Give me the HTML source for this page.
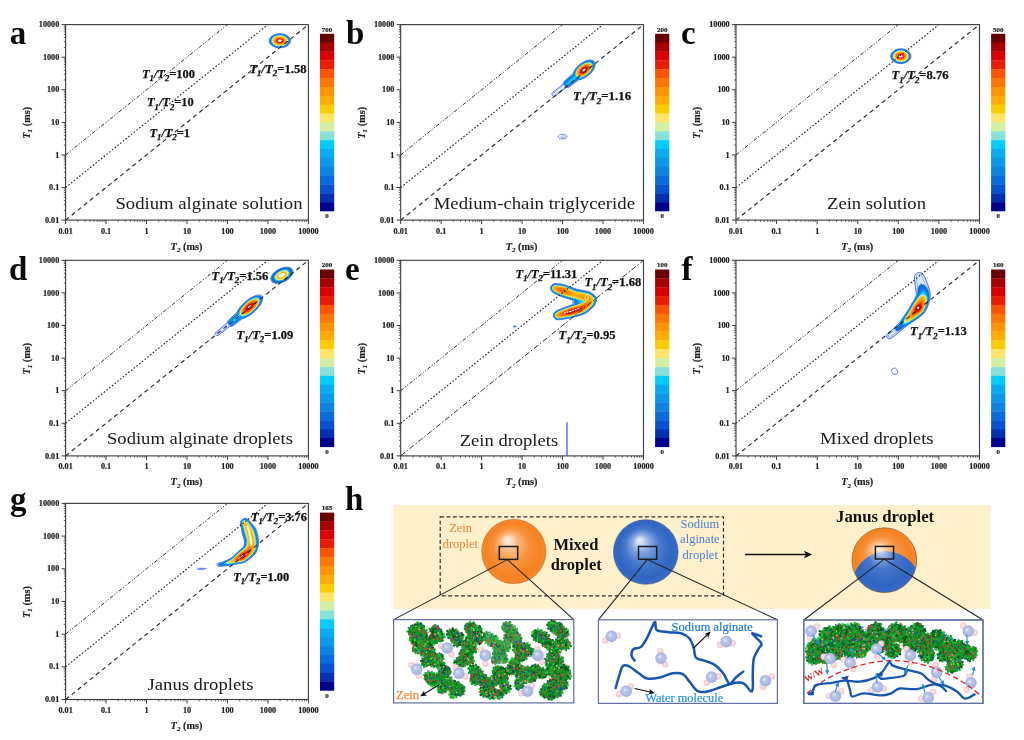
<!DOCTYPE html>
<html><head><meta charset="utf-8"><title>T1-T2 maps</title>
<style>html,body{margin:0;padding:0;background:#fff}svg{display:block;filter:blur(0.45px)}</style></head>
<body><svg width="1024" height="740" viewBox="0 0 1024 740">
<rect width="1024" height="740" fill="#fff"/>
<path d="M282.5 47.6 L279.0 47.8 L276.0 47.4 L273.5 46.5 L271.5 45.2 L269.9 43.5 L269.4 42.5 L269.1 41.5 L269.1 40.5 L269.3 39.5 L269.7 38.5 L270.3 37.5 L272.0 36.0 L274.0 34.9 L276.0 34.2 L279.0 33.8 L281.5 33.9 L284.0 34.3 L286.5 35.3 L288.3 36.5 L289.6 38.0 L290.3 39.5 L290.5 40.5 L290.5 41.5 L290.0 43.0 L288.9 44.5 L287.0 46.0 L285.0 46.9 L282.5 47.6Z" fill="#f6f9ff" stroke="#2c5ce2" stroke-width="0.85"/>
<path d="M280.5 47.5 L277.5 47.4 L275.0 46.8 L272.5 45.5 L270.8 44.0 L269.7 42.0 L269.6 40.0 L270.5 38.0 L272.0 36.4 L274.0 35.2 L276.5 34.4 L279.0 34.1 L281.5 34.2 L284.0 34.6 L286.0 35.4 L287.7 36.5 L289.1 38.0 L289.9 39.5 L290.1 41.0 L289.7 42.5 L288.5 44.4 L287.0 45.6 L285.0 46.6 L283.0 47.2 L280.5 47.5Z" fill="none" stroke="#5a86ee" stroke-width="0.5"/>
<path d="M282.5 47.1 L279.5 47.3 L277.0 47.1 L274.5 46.3 L272.0 44.9 L270.4 43.0 L269.8 41.0 L270.2 39.0 L271.2 37.5 L272.5 36.4 L274.5 35.3 L276.5 34.6 L279.0 34.3 L281.0 34.3 L283.5 34.7 L286.0 35.7 L287.5 36.7 L288.8 38.0 L289.6 39.5 L289.7 41.5 L289.2 43.0 L288.0 44.5 L286.5 45.6 L284.5 46.6 L282.5 47.1Z" fill="#086cdc" stroke="#086cdc" stroke-width="0.4"/>
<path d="M283.0 46.5 L280.5 46.9 L277.5 46.7 L275.5 46.2 L273.1 45.0 L271.5 43.5 L270.7 42.0 L270.6 40.0 L271.2 38.5 L272.5 37.0 L274.0 36.0 L276.0 35.2 L278.0 34.8 L280.5 34.7 L282.5 35.0 L285.0 35.7 L286.5 36.6 L287.6 37.5 L288.7 39.0 L289.1 40.5 L288.9 42.0 L288.1 43.5 L287.0 44.6 L285.0 45.9 L283.0 46.5Z" fill="#086cdc" stroke="#086cdc" stroke-width="0.4"/>
<path d="M283.0 46.1 L280.5 46.4 L278.0 46.3 L275.5 45.7 L273.5 44.7 L271.9 43.0 L271.2 41.5 L271.3 40.0 L271.9 38.5 L273.0 37.3 L274.5 36.3 L276.5 35.6 L278.5 35.2 L280.5 35.2 L282.5 35.4 L284.5 36.1 L286.0 36.9 L287.3 38.0 L288.2 39.5 L288.4 40.5 L288.2 42.0 L287.4 43.5 L286.3 44.5 L285.0 45.3 L283.0 46.1Z" fill="#00ccff" stroke="#00ccff" stroke-width="0.4"/>
<path d="M280.0 46.0 L277.5 45.8 L275.5 45.2 L274.0 44.4 L272.6 43.0 L271.9 41.5 L271.9 40.0 L272.7 38.5 L274.0 37.2 L275.5 36.4 L277.5 35.8 L281.0 35.6 L282.5 35.9 L284.5 36.6 L286.0 37.5 L286.9 38.5 L287.7 40.0 L287.8 41.0 L287.3 42.5 L286.6 43.5 L285.5 44.4 L284.0 45.2 L282.0 45.8 L280.0 46.0Z" fill="#d2efa4" stroke="#d2efa4" stroke-width="0.4"/>
<path d="M281.0 45.5 L279.0 45.6 L277.0 45.2 L275.2 44.5 L273.8 43.5 L272.7 42.0 L272.5 40.5 L273.1 39.0 L273.9 38.0 L275.0 37.2 L276.5 36.5 L278.0 36.2 L280.0 36.0 L282.0 36.2 L283.5 36.7 L285.0 37.5 L286.0 38.3 L286.8 39.5 L287.1 40.5 L286.9 42.0 L286.3 43.0 L285.2 44.0 L284.0 44.7 L282.5 45.2 L281.0 45.5Z" fill="#ffe566" stroke="#ffe566" stroke-width="0.4"/>
<path d="M281.0 45.1 L279.5 45.1 L277.5 44.9 L276.0 44.4 L274.5 43.4 L273.7 42.5 L273.2 41.0 L273.5 39.5 L274.2 38.5 L275.0 37.8 L276.5 37.0 L278.0 36.6 L280.0 36.5 L281.5 36.6 L283.0 37.0 L284.5 37.7 L285.4 38.5 L286.1 39.5 L286.4 40.5 L286.3 41.5 L285.9 42.5 L285.0 43.5 L284.0 44.2 L282.5 44.8 L281.0 45.1Z" fill="#ffcb00" stroke="#ffcb00" stroke-width="0.4"/>
<path d="M281.5 44.5 L279.5 44.7 L278.0 44.5 L276.4 44.0 L275.0 43.1 L274.1 42.0 L273.9 41.0 L274.0 40.0 L274.5 39.0 L275.5 38.1 L276.5 37.6 L278.0 37.1 L279.5 36.9 L281.0 37.0 L282.5 37.3 L284.5 38.4 L285.1 39.0 L285.6 40.0 L285.7 41.0 L285.5 42.0 L284.7 43.0 L284.0 43.6 L283.0 44.1 L281.5 44.5Z" fill="#ffab00" stroke="#ffab00" stroke-width="0.4"/>
<path d="M281.5 44.1 L280.0 44.3 L278.5 44.2 L277.0 43.7 L276.0 43.2 L275.2 42.5 L274.6 41.5 L274.5 40.5 L274.9 39.5 L275.5 38.8 L276.5 38.1 L279.0 37.4 L281.5 37.5 L283.7 38.5 L284.5 39.2 L284.9 40.0 L285.0 41.5 L284.5 42.4 L283.9 43.0 L283.0 43.6 L281.5 44.1Z" fill="#ff9400" stroke="#ff9400" stroke-width="0.4"/>
<path d="M281.5 43.6 L279.0 43.8 L277.5 43.4 L276.5 42.9 L276.0 42.5 L275.3 41.5 L275.2 40.5 L275.6 39.5 L277.0 38.4 L279.0 37.8 L281.0 37.9 L283.0 38.6 L284.0 39.5 L284.2 40.0 L284.4 40.5 L284.3 41.5 L283.5 42.6 L282.5 43.2 L281.5 43.6Z" fill="#ff7600" stroke="#ff7600" stroke-width="0.4"/>
<path d="M281.5 43.1 L280.5 43.3 L279.0 43.3 L277.0 42.6 L276.0 41.5 L275.9 40.5 L276.0 40.0 L277.0 39.0 L279.0 38.3 L281.0 38.3 L282.5 38.9 L283.6 40.0 L283.7 41.0 L283.6 41.5 L283.0 42.3 L281.5 43.1Z" fill="#ff5300" stroke="#ff5300" stroke-width="0.4"/>
<path d="M281.5 42.6 L279.5 42.9 L277.8 42.5 L276.7 41.5 L276.6 40.5 L276.8 40.0 L277.5 39.3 L279.0 38.7 L280.5 38.7 L282.0 39.2 L282.8 40.0 L283.1 41.0 L282.5 42.0 L281.5 42.6Z" fill="#ea1c00" stroke="#ea1c00" stroke-width="0.4"/>
<path d="M280.0 42.5 L278.5 42.3 L277.4 41.5 L277.2 40.5 L278.0 39.6 L279.0 39.2 L280.0 39.1 L281.5 39.5 L282.1 40.0 L282.4 40.5 L282.2 41.5 L281.5 42.1 L280.0 42.5Z" fill="#d80000" stroke="#d80000" stroke-width="0.4"/>
<path d="M280.5 42.0 L279.5 42.1 L278.5 41.7 L277.9 41.0 L277.9 40.5 L278.3 40.0 L279.0 39.6 L280.0 39.5 L281.0 39.8 L281.7 40.5 L281.7 41.0 L281.4 41.5 L280.5 42.0Z" fill="#ffffff" stroke="#ffffff" stroke-width="0.2"/>
<path d="M902.0 63.5 L899.0 63.5 L896.0 62.7 L893.5 61.3 L892.1 60.0 L891.4 59.0 L890.8 57.5 L890.7 56.5 L890.8 55.0 L891.1 54.0 L891.7 53.0 L892.5 52.0 L893.5 51.1 L895.0 50.2 L897.0 49.4 L899.5 48.9 L901.5 48.8 L904.0 49.2 L906.0 49.9 L907.5 50.7 L909.1 52.0 L910.2 53.5 L910.8 55.0 L910.9 57.0 L910.4 58.5 L909.5 60.0 L908.0 61.4 L906.5 62.3 L904.0 63.2 L902.0 63.5Z" fill="#f6f9ff" stroke="#2c5ce2" stroke-width="0.85"/>
<path d="M903.0 63.1 L900.0 63.3 L897.0 62.7 L894.5 61.6 L892.5 59.9 L891.6 58.5 L891.2 57.5 L891.1 55.5 L891.8 53.5 L893.6 51.5 L895.5 50.3 L897.0 49.7 L899.0 49.2 L901.5 49.1 L903.5 49.4 L906.0 50.2 L907.5 51.1 L909.1 52.5 L910.0 54.0 L910.5 55.5 L910.4 57.5 L909.7 59.0 L908.5 60.5 L907.0 61.6 L905.0 62.6 L903.0 63.1Z" fill="none" stroke="#5a86ee" stroke-width="0.5"/>
<path d="M901.5 63.0 L898.5 62.9 L895.5 61.9 L894.1 61.0 L893.0 60.0 L891.7 58.0 L891.4 56.5 L891.4 55.5 L892.1 53.5 L893.5 51.9 L896.0 50.3 L898.0 49.6 L900.0 49.4 L902.0 49.4 L904.0 49.7 L905.5 50.3 L907.5 51.4 L908.7 52.5 L909.7 54.0 L910.2 55.5 L910.2 57.0 L909.7 58.5 L908.6 60.0 L907.0 61.4 L905.5 62.1 L903.5 62.8 L901.5 63.0Z" fill="#086cdc" stroke="#086cdc" stroke-width="0.4"/>
<path d="M902.0 62.5 L899.0 62.5 L896.5 61.8 L894.5 60.7 L892.9 59.0 L892.1 57.0 L892.2 55.0 L893.2 53.0 L895.0 51.4 L896.5 50.6 L898.5 50.0 L900.5 49.8 L902.5 49.9 L904.5 50.4 L906.5 51.3 L908.0 52.5 L908.8 53.5 L909.4 55.0 L909.6 56.5 L909.2 58.0 L908.5 59.3 L907.5 60.3 L906.0 61.4 L904.0 62.2 L902.0 62.5Z" fill="#086cdc" stroke="#086cdc" stroke-width="0.4"/>
<path d="M902.0 62.1 L899.0 62.0 L896.5 61.2 L894.5 60.0 L893.3 58.5 L892.7 57.0 L892.8 55.0 L893.2 54.0 L893.9 53.0 L895.5 51.7 L897.5 50.8 L899.0 50.4 L900.5 50.3 L902.5 50.4 L904.5 50.9 L906.0 51.6 L907.5 52.8 L908.4 54.0 L908.8 55.0 L908.9 56.5 L908.6 58.0 L908.0 59.0 L907.0 60.1 L905.5 61.0 L904.0 61.7 L902.0 62.1Z" fill="#00ccff" stroke="#00ccff" stroke-width="0.4"/>
<path d="M902.5 61.5 L900.5 61.7 L898.0 61.3 L896.0 60.4 L894.3 59.0 L893.5 57.5 L893.3 56.5 L893.3 55.5 L893.9 54.0 L895.3 52.5 L896.5 51.7 L898.0 51.1 L899.5 50.8 L901.5 50.7 L903.5 51.1 L905.0 51.7 L906.3 52.5 L907.3 53.5 L908.0 54.5 L908.3 56.0 L908.1 57.5 L907.6 58.5 L906.8 59.5 L905.5 60.5 L904.0 61.2 L902.5 61.5Z" fill="#d2efa4" stroke="#d2efa4" stroke-width="0.4"/>
<path d="M902.5 61.1 L900.5 61.2 L898.5 60.9 L896.5 60.1 L895.1 59.0 L894.1 57.5 L893.9 56.0 L894.3 54.5 L895.5 53.0 L896.5 52.3 L898.0 51.6 L899.5 51.3 L901.0 51.2 L902.5 51.3 L904.0 51.8 L905.5 52.5 L906.6 53.5 L907.3 54.5 L907.6 55.5 L907.6 57.0 L907.2 58.0 L906.5 59.0 L905.5 59.9 L904.0 60.6 L902.5 61.1Z" fill="#ffe566" stroke="#ffe566" stroke-width="0.4"/>
<path d="M902.5 60.6 L900.5 60.8 L898.5 60.4 L897.0 59.8 L895.5 58.6 L894.8 57.5 L894.5 56.0 L895.0 54.5 L895.8 53.5 L897.0 52.6 L898.0 52.1 L899.5 51.7 L901.0 51.6 L903.5 52.1 L905.0 52.8 L905.8 53.5 L906.6 54.5 L907.0 55.5 L907.0 56.5 L906.8 57.5 L906.2 58.5 L905.1 59.5 L904.0 60.1 L902.5 60.6Z" fill="#ffcb00" stroke="#ffcb00" stroke-width="0.4"/>
<path d="M902.5 60.1 L900.5 60.3 L899.0 60.1 L897.5 59.5 L896.1 58.5 L895.5 57.5 L895.2 56.5 L895.4 55.0 L896.1 54.0 L897.0 53.2 L898.0 52.6 L900.5 52.1 L903.0 52.4 L905.0 53.5 L905.9 54.5 L906.3 55.5 L906.4 56.5 L906.1 57.5 L904.9 59.0 L904.0 59.6 L902.5 60.1Z" fill="#ffab00" stroke="#ffab00" stroke-width="0.4"/>
<path d="M902.5 59.6 L901.0 59.8 L899.5 59.7 L898.0 59.2 L896.9 58.5 L896.1 57.5 L895.8 56.5 L896.1 55.0 L896.8 54.0 L898.5 53.0 L901.0 52.6 L903.0 52.9 L904.8 54.0 L905.7 55.5 L905.7 57.0 L905.1 58.0 L904.5 58.6 L902.5 59.6Z" fill="#ff9400" stroke="#ff9400" stroke-width="0.4"/>
<path d="M902.5 59.1 L901.5 59.3 L900.0 59.3 L898.5 58.9 L897.5 58.3 L896.8 57.5 L896.5 56.5 L896.5 55.5 L897.1 54.5 L898.5 53.5 L900.5 53.0 L902.5 53.3 L904.0 54.0 L904.5 54.5 L905.1 55.5 L905.0 57.0 L904.0 58.4 L902.5 59.1Z" fill="#ff7600" stroke="#ff7600" stroke-width="0.4"/>
<path d="M902.5 58.6 L901.5 58.9 L900.0 58.8 L899.0 58.6 L898.0 58.0 L897.5 57.5 L897.1 56.5 L897.2 55.5 L897.5 55.0 L898.6 54.0 L900.4 53.5 L902.0 53.6 L903.5 54.3 L904.4 55.5 L904.5 56.5 L904.0 57.6 L902.5 58.6Z" fill="#ff5300" stroke="#ff5300" stroke-width="0.4"/>
<path d="M902.5 58.1 L901.5 58.4 L900.5 58.4 L898.9 58.0 L897.9 57.0 L897.7 56.5 L897.9 55.5 L898.8 54.5 L900.0 54.0 L901.5 54.0 L902.8 54.5 L903.7 55.5 L903.9 56.5 L903.3 57.5 L902.5 58.1Z" fill="#ea1c00" stroke="#ea1c00" stroke-width="0.4"/>
<path d="M902.5 57.5 L901.0 58.0 L899.5 57.7 L898.5 56.8 L898.3 56.0 L898.5 55.5 L899.0 55.0 L900.0 54.5 L901.0 54.4 L902.0 54.6 L903.0 55.4 L903.3 56.0 L903.0 57.0 L902.5 57.5Z" fill="#d80000" stroke="#d80000" stroke-width="0.4"/>
<path d="M901.0 57.5 L900.0 57.4 L899.3 57.0 L899.0 56.5 L899.0 56.0 L899.2 55.5 L900.0 55.0 L901.0 54.9 L901.6 55.0 L902.4 55.5 L902.6 56.0 L902.6 56.5 L902.3 57.0 L901.0 57.5Z" fill="#ffffff" stroke="#ffffff" stroke-width="0.2"/>
<path d="M555.0 96.1 L554.5 96.3 L553.5 96.3 L552.5 95.7 L552.0 95.0 L551.9 94.5 L552.0 93.5 L552.2 93.0 L563.0 84.1 L563.5 82.5 L564.0 81.5 L573.0 73.6 L573.9 71.5 L575.1 69.5 L576.6 67.5 L579.0 65.2 L581.5 63.3 L583.5 62.1 L585.5 61.1 L588.0 60.3 L590.0 60.0 L592.0 60.2 L593.5 60.8 L594.3 61.5 L594.9 62.5 L595.2 64.0 L595.1 65.5 L594.6 67.5 L593.6 69.5 L592.2 71.5 L590.9 73.0 L589.0 74.8 L586.5 76.7 L584.0 78.2 L581.5 79.3 L578.5 80.0 L568.9 87.0 L568.0 87.4 L566.5 87.5 L566.0 87.7 L555.0 96.1Z" fill="#f6f9ff" stroke="#2c5ce2" stroke-width="0.85"/>
<path d="M554.5 95.1 L554.0 95.3 L553.3 95.0 L553.0 94.5 L552.9 94.0 L553.2 93.5 L563.5 85.2 L563.8 83.0 L564.5 81.6 L573.3 74.0 L574.3 71.5 L575.8 69.0 L577.5 67.0 L579.5 65.1 L582.0 63.3 L584.0 62.1 L586.0 61.3 L588.0 60.7 L590.0 60.4 L591.5 60.6 L593.0 61.1 L594.0 62.0 L594.5 63.0 L594.8 64.5 L594.6 66.0 L594.2 67.5 L593.2 69.5 L591.8 71.5 L588.5 74.9 L586.0 76.7 L583.5 78.1 L581.5 78.9 L578.5 79.5 L578.0 79.8 L568.5 86.8 L567.0 87.1 L565.5 86.9 L565.1 87.0 L554.5 95.1Z" fill="none" stroke="#5a86ee" stroke-width="0.5"/>
<path d="M568.0 86.7 L566.5 86.8 L564.9 86.0 L564.1 84.5 L564.0 83.5 L564.3 82.5 L565.0 81.5 L573.5 74.2 L574.3 72.0 L575.4 70.0 L578.3 66.5 L580.5 64.6 L582.5 63.2 L584.5 62.1 L587.0 61.2 L589.0 60.8 L591.0 60.8 L592.5 61.3 L593.5 62.0 L594.1 63.0 L594.4 64.0 L594.4 65.5 L594.1 67.0 L593.2 69.0 L592.3 70.5 L589.7 73.5 L587.0 75.8 L584.0 77.6 L581.0 78.8 L578.0 79.4 L568.0 86.7Z" fill="#086cdc" stroke="#086cdc" stroke-width="0.4"/>
<path d="M567.0 86.0 L566.0 85.8 L565.0 84.7 L564.8 83.5 L565.2 82.5 L574.0 75.0 L574.3 74.5 L574.7 72.5 L575.7 70.5 L577.1 68.5 L579.0 66.5 L582.5 63.8 L584.5 62.7 L587.0 61.7 L589.0 61.4 L590.5 61.5 L591.5 61.7 L592.7 62.5 L593.4 63.5 L593.7 64.5 L593.6 66.0 L593.3 67.5 L591.7 70.5 L589.0 73.5 L586.5 75.6 L583.5 77.3 L580.5 78.4 L577.5 78.6 L568.4 85.5 L567.0 86.0Z" fill="#0c84e4" stroke="#0c84e4" stroke-width="0.4"/>
<path d="M567.5 84.7 L567.0 84.8 L566.5 84.7 L566.0 84.0 L566.0 83.5 L566.5 82.9 L575.0 75.9 L575.1 73.5 L576.0 71.0 L577.7 68.5 L580.0 66.2 L583.5 63.7 L587.0 62.3 L588.5 62.1 L590.0 62.1 L591.0 62.4 L592.0 63.0 L592.7 64.0 L593.0 65.0 L592.9 66.0 L592.6 67.5 L591.7 69.5 L590.7 71.0 L588.0 73.8 L585.5 75.7 L582.0 77.4 L579.5 77.9 L576.5 77.7 L567.5 84.7Z" fill="#00ccff" stroke="#00ccff" stroke-width="0.4"/>
<path d="M581.0 77.1 L579.5 77.3 L578.0 77.1 L576.8 76.5 L576.0 75.5 L575.8 74.5 L575.9 73.0 L576.4 71.5 L577.6 69.5 L578.8 68.0 L580.5 66.3 L582.5 64.9 L584.5 63.8 L586.0 63.2 L588.0 62.7 L589.5 62.8 L591.0 63.3 L592.0 64.5 L592.2 66.0 L591.8 68.0 L590.4 70.5 L588.5 72.8 L586.0 74.8 L583.5 76.2 L581.0 77.1Z" fill="#d2efa4" stroke="#d2efa4" stroke-width="0.4"/>
<path d="M581.0 76.5 L579.5 76.6 L578.5 76.5 L577.5 76.0 L576.7 75.0 L576.5 74.0 L576.7 72.5 L577.3 71.0 L578.6 69.0 L579.9 67.5 L581.5 66.1 L583.5 64.8 L585.0 64.1 L586.5 63.6 L588.0 63.4 L589.5 63.5 L590.5 64.0 L591.0 64.5 L591.4 65.5 L591.4 67.0 L590.7 69.0 L589.4 71.0 L587.6 73.0 L585.5 74.6 L583.5 75.7 L581.0 76.5Z" fill="#ffcb00" stroke="#ffcb00" stroke-width="0.4"/>
<path d="M582.5 75.6 L581.0 75.9 L579.5 75.9 L578.5 75.6 L577.7 75.0 L577.3 74.0 L577.3 73.0 L577.7 71.5 L578.4 70.0 L579.6 68.5 L581.0 67.1 L584.0 65.1 L586.0 64.3 L587.5 64.0 L588.5 64.1 L589.7 64.5 L590.5 65.4 L590.8 66.5 L590.5 68.0 L589.6 70.0 L588.4 71.5 L586.5 73.3 L584.5 74.7 L582.5 75.6Z" fill="#ffab00" stroke="#ffab00" stroke-width="0.4"/>
<path d="M582.0 75.1 L580.5 75.3 L579.5 75.2 L578.5 74.5 L578.2 74.0 L578.0 73.0 L578.1 72.0 L579.4 69.5 L581.5 67.3 L584.5 65.4 L587.0 64.7 L588.0 64.7 L589.0 65.0 L589.8 66.0 L590.0 67.0 L589.7 68.5 L588.6 70.5 L587.3 72.0 L585.5 73.5 L583.5 74.6 L582.0 75.1Z" fill="#ff9400" stroke="#ff9400" stroke-width="0.4"/>
<path d="M582.0 74.6 L581.0 74.7 L580.0 74.5 L579.2 74.0 L578.9 73.5 L578.7 72.5 L578.9 71.5 L580.0 69.5 L582.0 67.5 L584.5 65.9 L586.0 65.4 L587.0 65.3 L588.5 65.7 L589.1 66.5 L589.3 67.5 L588.9 69.0 L588.0 70.5 L586.6 72.0 L585.0 73.3 L583.5 74.1 L582.0 74.6Z" fill="#ff7600" stroke="#ff7600" stroke-width="0.4"/>
<path d="M581.5 74.0 L580.5 73.9 L580.0 73.6 L579.5 72.5 L579.7 71.0 L581.0 69.0 L583.0 67.3 L585.0 66.3 L586.8 66.0 L588.0 66.4 L588.5 67.4 L588.4 68.5 L588.0 69.5 L587.0 71.0 L584.5 73.0 L583.0 73.7 L581.5 74.0Z" fill="#ff5300" stroke="#ff5300" stroke-width="0.4"/>
<path d="M583.0 73.2 L581.5 73.3 L580.5 72.8 L580.2 72.0 L580.3 71.5 L580.9 70.0 L582.2 68.5 L584.0 67.2 L586.0 66.6 L587.3 67.0 L587.8 68.0 L587.6 69.0 L587.1 70.0 L585.2 72.0 L583.0 73.2Z" fill="#ea1c00" stroke="#ea1c00" stroke-width="0.4"/>
<path d="M583.0 72.6 L581.5 72.5 L581.0 72.0 L581.0 71.0 L581.5 70.0 L582.5 68.8 L584.0 67.8 L585.5 67.3 L586.6 67.5 L587.0 68.0 L587.0 68.5 L586.5 70.0 L585.0 71.6 L583.0 72.6Z" fill="#d80000" stroke="#d80000" stroke-width="0.4"/>
<path d="M583.0 72.0 L582.4 72.0 L581.8 71.5 L581.8 70.5 L582.5 69.5 L583.5 68.6 L584.5 68.1 L585.5 68.0 L586.0 68.2 L586.3 69.0 L585.5 70.5 L584.3 71.5 L583.0 72.0Z" fill="#a60000" stroke="#a60000" stroke-width="0.4"/>
<path d="M584.0 71.1 L583.0 71.4 L582.5 71.1 L582.5 70.5 L583.5 69.2 L584.5 68.7 L585.0 68.6 L585.5 68.9 L585.5 69.5 L584.9 70.5 L584.0 71.1Z" fill="#ffffff" stroke="#ffffff" stroke-width="0.2"/>
<ellipse cx="562.7" cy="136.6" rx="4.3" ry="2.3" fill="none" stroke="#3a5cf0" stroke-width="0.7"/>
<ellipse cx="563.2" cy="136.8" rx="2.2" ry="1.0" fill="none" stroke="#3a5cf0" stroke-width="0.5"/>
<path d="M280.0 283.0 L277.5 283.4 L275.0 283.2 L273.0 282.5 L271.8 281.5 L271.0 280.0 L270.8 279.0 L270.9 278.0 L271.6 276.0 L272.9 274.0 L274.9 272.0 L277.0 270.4 L280.0 268.8 L282.5 267.9 L285.0 267.4 L287.5 267.2 L290.0 267.7 L291.5 268.6 L292.6 270.0 L292.9 271.0 L293.0 272.0 L292.8 273.0 L292.3 274.5 L291.0 276.5 L289.0 278.5 L286.0 280.7 L283.0 282.1 L280.0 283.0Z" fill="#f6f9ff" stroke="#2c5ce2" stroke-width="0.85"/>
<path d="M277.5 283.0 L275.5 282.9 L273.5 282.3 L272.4 281.5 L271.5 280.0 L271.3 278.5 L271.8 276.5 L272.6 275.0 L274.2 273.0 L276.5 271.1 L278.5 269.8 L281.0 268.7 L284.0 267.8 L286.5 267.6 L288.5 267.7 L290.0 268.2 L291.5 269.2 L292.1 270.0 L292.4 271.0 L292.4 273.0 L291.3 275.5 L289.5 277.7 L287.0 279.7 L284.0 281.4 L280.5 282.6 L277.5 283.0Z" fill="none" stroke="#5a86ee" stroke-width="0.5"/>
<path d="M280.0 282.5 L277.5 282.8 L275.5 282.6 L273.7 282.0 L272.4 281.0 L271.7 279.5 L271.6 278.0 L272.3 276.0 L273.6 274.0 L275.5 272.1 L277.5 270.7 L280.0 269.3 L282.5 268.4 L285.0 267.9 L287.0 267.8 L289.0 268.1 L290.8 269.0 L291.9 270.5 L292.2 272.0 L291.8 274.0 L290.3 276.5 L288.5 278.3 L286.0 280.1 L283.0 281.6 L280.0 282.5Z" fill="#0652d0" stroke="#0652d0" stroke-width="0.4"/>
<path d="M280.5 282.0 L278.0 282.4 L276.0 282.2 L274.5 281.8 L273.0 280.7 L272.3 279.5 L272.2 278.0 L272.8 276.0 L273.8 274.5 L275.5 272.6 L277.5 271.1 L280.0 269.7 L282.5 268.8 L285.0 268.3 L287.0 268.3 L289.0 268.7 L290.4 269.5 L291.4 271.0 L291.6 272.5 L291.0 274.5 L289.7 276.5 L288.0 278.2 L286.0 279.7 L283.0 281.2 L280.5 282.0Z" fill="#086cdc" stroke="#086cdc" stroke-width="0.4"/>
<path d="M280.5 281.6 L278.5 281.9 L276.5 281.8 L275.0 281.4 L273.7 280.5 L273.0 279.5 L272.8 278.0 L273.1 276.5 L274.3 274.5 L276.0 272.7 L278.0 271.2 L280.0 270.1 L282.0 269.3 L284.5 268.8 L286.5 268.7 L288.0 268.9 L289.5 269.6 L290.0 270.0 L290.7 271.0 L291.0 272.5 L290.7 274.0 L289.6 276.0 L288.0 277.7 L286.0 279.3 L283.0 280.8 L280.5 281.6Z" fill="#086cdc" stroke="#086cdc" stroke-width="0.4"/>
<path d="M281.0 281.1 L279.0 281.4 L277.0 281.4 L275.4 281.0 L274.1 280.0 L273.5 279.0 L273.4 277.5 L273.9 276.0 L274.8 274.5 L276.2 273.0 L278.0 271.6 L279.5 270.8 L282.0 269.7 L284.0 269.2 L286.0 269.1 L287.5 269.3 L289.1 270.0 L290.0 271.0 L290.4 272.5 L290.1 274.0 L289.0 276.0 L287.5 277.7 L285.5 279.2 L283.5 280.2 L281.0 281.1Z" fill="#0c84e4" stroke="#0c84e4" stroke-width="0.4"/>
<path d="M279.0 281.0 L277.5 281.0 L276.0 280.6 L274.9 280.0 L274.2 279.0 L274.0 278.0 L274.2 276.5 L275.0 275.0 L276.3 273.5 L278.0 272.1 L279.5 271.2 L283.0 269.8 L285.0 269.6 L286.5 269.6 L288.0 270.0 L289.0 270.7 L289.7 272.0 L289.7 273.5 L289.2 275.0 L287.6 277.0 L285.5 278.7 L283.5 279.8 L281.0 280.7 L279.0 281.0Z" fill="#08acf4" stroke="#08acf4" stroke-width="0.4"/>
<path d="M280.0 280.5 L278.5 280.6 L277.0 280.4 L276.0 280.0 L274.9 279.0 L274.6 278.0 L274.8 276.5 L275.2 275.5 L276.4 274.0 L278.0 272.5 L279.5 271.6 L281.0 270.9 L283.0 270.2 L286.0 270.0 L287.5 270.4 L288.4 271.0 L289.1 272.0 L289.2 273.5 L288.6 275.0 L287.5 276.5 L286.0 277.9 L284.0 279.2 L282.0 280.0 L280.0 280.5Z" fill="#00ccff" stroke="#00ccff" stroke-width="0.4"/>
<path d="M280.5 280.0 L279.0 280.2 L277.5 280.0 L276.5 279.6 L275.7 279.0 L275.2 278.0 L275.2 277.0 L275.8 275.5 L276.5 274.5 L277.5 273.4 L279.0 272.3 L282.0 270.9 L285.0 270.4 L286.5 270.6 L287.5 271.1 L288.4 272.0 L288.6 273.0 L288.3 274.5 L287.4 276.0 L286.0 277.4 L284.5 278.5 L282.5 279.5 L280.5 280.0Z" fill="#d2efa4" stroke="#d2efa4" stroke-width="0.4"/>
<path d="M281.0 279.5 L278.5 279.7 L277.5 279.5 L276.5 278.9 L275.9 278.0 L275.8 277.0 L276.1 276.0 L276.6 275.0 L277.5 274.0 L279.0 272.7 L282.0 271.3 L283.5 270.9 L285.0 270.9 L286.0 271.0 L287.1 271.5 L287.9 272.5 L288.0 273.5 L287.8 274.5 L286.9 276.0 L284.5 278.1 L283.0 278.9 L281.0 279.5Z" fill="#ffe566" stroke="#ffe566" stroke-width="0.4"/>
<path d="M281.5 279.0 L279.0 279.3 L277.7 279.0 L277.0 278.5 L276.6 278.0 L276.4 277.0 L276.6 276.0 L277.2 275.0 L278.0 274.0 L279.3 273.0 L282.0 271.7 L284.5 271.3 L285.5 271.4 L286.5 271.8 L287.1 272.5 L287.4 273.5 L287.2 274.5 L286.7 275.5 L285.9 276.5 L284.5 277.6 L283.0 278.5 L281.5 279.0Z" fill="#ffe566" stroke="#ffe566" stroke-width="0.4"/>
<path d="M281.5 278.6 L280.0 278.9 L279.0 278.8 L278.0 278.5 L277.5 278.1 L277.0 277.0 L277.2 276.0 L277.7 275.0 L279.5 273.3 L282.0 272.1 L284.5 271.7 L286.0 272.2 L286.5 272.7 L286.8 273.5 L286.7 274.5 L286.2 275.5 L285.3 276.5 L284.0 277.5 L281.5 278.6Z" fill="#ffcb00" stroke="#ffcb00" stroke-width="0.4"/>
<path d="M282.0 278.1 L280.0 278.4 L279.0 278.3 L278.3 278.0 L277.6 277.0 L277.7 276.0 L278.0 275.4 L279.5 273.8 L281.5 272.6 L284.0 272.2 L285.5 272.6 L286.0 273.1 L286.2 274.0 L285.6 275.5 L284.1 277.0 L282.0 278.1Z" fill="#ffcb00" stroke="#ffcb00" stroke-width="0.4"/>
<path d="M282.0 277.7 L280.5 278.0 L279.0 277.7 L278.3 277.0 L278.2 276.5 L278.5 275.5 L279.8 274.0 L281.5 273.0 L283.5 272.6 L285.0 273.0 L285.5 273.5 L285.6 274.0 L285.1 275.5 L283.5 277.0 L282.0 277.7Z" fill="#ffab00" stroke="#ffab00" stroke-width="0.4"/>
<path d="M281.0 277.5 L279.9 277.5 L279.0 277.0 L278.8 276.0 L279.5 274.8 L281.0 273.7 L282.5 273.1 L283.5 273.0 L284.7 273.5 L285.0 274.0 L285.0 274.5 L284.1 276.0 L282.7 277.0 L281.0 277.5Z" fill="#ffffff" stroke="#ffffff" stroke-width="0.2"/>
<path d="M217.5 335.6 L216.5 335.4 L216.0 335.1 L215.5 334.5 L215.3 333.5 L215.7 332.5 L227.0 322.9 L227.3 322.5 L227.9 321.0 L228.5 320.2 L236.9 312.5 L238.2 310.0 L240.3 307.0 L242.5 304.5 L245.0 302.1 L248.0 299.7 L250.0 298.3 L253.0 296.7 L255.0 295.8 L257.5 295.2 L259.5 295.0 L261.0 295.4 L262.0 296.1 L262.7 297.5 L262.7 299.0 L262.3 301.0 L261.4 303.0 L260.2 305.0 L258.3 307.5 L256.1 310.0 L254.0 311.9 L251.0 314.3 L248.0 316.3 L245.0 317.8 L242.0 318.9 L233.0 325.8 L232.0 326.3 L229.7 326.5 L218.5 335.2 L217.5 335.6Z" fill="#f6f9ff" stroke="#2c5ce2" stroke-width="0.85"/>
<path d="M217.5 334.6 L216.9 334.5 L216.4 334.0 L216.3 333.5 L216.5 333.0 L227.5 323.9 L227.9 322.0 L228.5 320.8 L237.0 313.0 L238.6 310.0 L240.3 307.5 L242.4 305.0 L245.0 302.4 L247.0 300.8 L250.0 298.7 L252.5 297.3 L255.0 296.2 L257.0 295.7 L259.0 295.5 L260.5 295.9 L261.5 296.6 L262.0 297.5 L262.2 299.0 L261.9 300.5 L261.2 302.5 L259.8 305.0 L258.4 307.0 L256.2 309.5 L254.0 311.6 L250.5 314.3 L247.5 316.2 L245.0 317.4 L241.8 318.5 L232.5 325.6 L231.0 326.0 L229.0 325.6 L217.5 334.6Z" fill="none" stroke="#5a86ee" stroke-width="0.5"/>
<path d="M232.0 325.5 L230.5 325.7 L229.0 324.9 L228.3 324.0 L228.2 323.5 L228.1 322.5 L228.4 321.5 L229.0 320.7 L237.5 313.0 L238.3 311.0 L239.8 308.5 L241.7 306.0 L243.6 304.0 L246.0 301.8 L248.5 299.9 L251.0 298.3 L254.0 296.8 L256.0 296.2 L258.0 295.9 L260.0 296.1 L261.0 296.8 L261.5 297.5 L261.8 299.0 L261.6 300.5 L261.1 302.0 L260.2 304.0 L258.8 306.0 L255.4 310.0 L251.5 313.4 L248.5 315.4 L245.0 317.2 L241.5 318.3 L232.9 325.0 L232.0 325.5Z" fill="#086cdc" stroke="#086cdc" stroke-width="0.4"/>
<path d="M232.0 324.7 L231.5 324.9 L230.5 324.9 L229.5 324.3 L228.9 323.0 L229.0 322.1 L229.3 321.5 L238.0 313.7 L238.7 311.5 L240.1 309.0 L241.9 306.5 L244.5 303.7 L249.0 300.1 L251.0 298.9 L253.5 297.6 L256.0 296.8 L257.5 296.7 L259.0 296.8 L260.2 297.5 L260.8 298.5 L260.9 299.5 L260.8 301.0 L260.3 302.5 L259.2 304.5 L257.9 306.5 L254.5 310.3 L251.0 313.2 L247.5 315.4 L244.5 316.7 L241.1 317.5 L232.0 324.7Z" fill="#0c84e4" stroke="#0c84e4" stroke-width="0.4"/>
<path d="M231.5 323.6 L231.0 323.7 L230.5 323.6 L230.1 323.0 L230.1 322.5 L230.5 321.9 L239.0 314.5 L238.9 313.5 L239.2 312.0 L240.4 309.5 L242.5 306.5 L245.5 303.4 L249.5 300.3 L253.5 298.2 L255.5 297.6 L257.0 297.4 L258.5 297.7 L259.5 298.4 L260.0 299.4 L260.1 300.5 L259.8 302.0 L259.1 303.5 L256.9 307.0 L253.5 310.6 L250.0 313.3 L246.5 315.3 L243.5 316.4 L242.0 316.6 L240.2 316.5 L231.5 323.6Z" fill="#00ccff" stroke="#00ccff" stroke-width="0.4"/>
<path d="M244.0 315.6 L242.5 315.8 L241.0 315.5 L240.0 314.5 L239.8 313.5 L240.0 312.0 L240.8 310.0 L242.0 308.0 L243.6 306.0 L247.5 302.3 L249.5 300.9 L252.0 299.5 L254.0 298.7 L256.0 298.2 L257.5 298.4 L258.5 298.9 L259.0 299.5 L259.2 300.5 L258.9 302.5 L257.7 305.0 L255.4 308.0 L253.0 310.4 L250.0 312.8 L246.5 314.8 L244.0 315.6Z" fill="#d2efa4" stroke="#d2efa4" stroke-width="0.4"/>
<path d="M245.5 314.6 L244.0 314.9 L242.5 314.9 L241.4 314.5 L240.8 313.5 L240.7 312.0 L241.2 310.5 L242.3 308.5 L243.3 307.0 L245.1 305.0 L247.0 303.3 L249.0 301.8 L251.5 300.3 L253.5 299.4 L255.0 299.1 L256.5 299.1 L257.6 299.5 L258.2 300.5 L258.3 301.5 L258.2 302.5 L257.3 304.5 L255.7 307.0 L253.4 309.5 L250.5 311.9 L248.0 313.5 L245.5 314.6Z" fill="#ffcb00" stroke="#ffcb00" stroke-width="0.4"/>
<path d="M245.0 314.1 L243.5 314.2 L242.5 313.9 L241.7 313.0 L241.5 312.0 L241.7 311.0 L242.3 309.5 L243.2 308.0 L244.8 306.0 L246.5 304.3 L248.5 302.7 L252.0 300.6 L253.5 300.1 L255.0 299.8 L256.0 299.9 L257.0 300.5 L257.4 301.5 L257.1 303.5 L256.1 305.5 L254.2 308.0 L252.0 310.1 L249.5 312.0 L247.0 313.4 L245.0 314.1Z" fill="#ffab00" stroke="#ffab00" stroke-width="0.4"/>
<path d="M246.0 313.2 L244.5 313.4 L243.5 313.3 L243.0 313.0 L242.4 312.0 L242.5 311.0 L242.8 310.0 L243.5 308.5 L244.6 307.0 L247.5 304.0 L251.0 301.7 L252.5 301.0 L254.0 300.6 L255.0 300.6 L256.0 301.0 L256.6 302.0 L256.4 303.5 L255.8 305.0 L254.4 307.0 L252.6 309.0 L250.5 310.8 L248.0 312.3 L246.0 313.2Z" fill="#ff9400" stroke="#ff9400" stroke-width="0.4"/>
<path d="M246.0 312.5 L244.3 312.5 L243.6 312.0 L243.3 311.5 L243.3 310.5 L243.6 309.5 L245.2 307.0 L247.6 304.5 L250.5 302.5 L253.0 301.5 L254.0 301.4 L255.0 301.6 L255.7 302.5 L255.7 303.5 L255.1 305.0 L253.8 307.0 L252.0 309.0 L250.0 310.6 L248.0 311.8 L246.0 312.5Z" fill="#ff7600" stroke="#ff7600" stroke-width="0.4"/>
<path d="M247.0 311.6 L246.0 311.8 L245.0 311.7 L244.5 311.4 L244.3 311.0 L244.3 309.5 L245.8 307.0 L248.0 304.7 L250.5 303.0 L253.0 302.2 L254.0 302.3 L254.4 302.5 L254.8 303.5 L254.7 304.5 L253.2 307.0 L251.8 308.5 L250.0 310.0 L248.5 311.0 L247.0 311.6Z" fill="#ff5300" stroke="#ff5300" stroke-width="0.4"/>
<path d="M246.5 311.0 L245.5 310.8 L245.0 310.0 L245.4 308.5 L246.8 306.5 L248.5 304.9 L250.5 303.6 L252.5 303.0 L253.5 303.2 L254.0 304.0 L253.8 305.0 L253.3 306.0 L252.2 307.5 L250.6 309.0 L249.2 310.0 L248.0 310.6 L246.5 311.0Z" fill="#ea1c00" stroke="#ea1c00" stroke-width="0.4"/>
<path d="M248.0 310.0 L246.5 310.2 L246.2 310.0 L245.9 309.5 L246.1 308.5 L247.0 307.0 L248.5 305.5 L250.0 304.4 L251.5 303.8 L252.5 303.8 L252.8 304.0 L253.1 304.5 L253.1 305.0 L252.0 307.0 L250.0 308.9 L248.0 310.0Z" fill="#d80000" stroke="#d80000" stroke-width="0.4"/>
<path d="M249.0 309.0 L248.0 309.4 L247.5 309.5 L247.0 309.3 L246.8 308.5 L247.5 307.2 L248.6 306.0 L250.0 305.0 L251.0 304.6 L251.5 304.5 L252.0 304.7 L252.2 305.5 L251.5 306.8 L250.4 308.0 L249.0 309.0Z" fill="#a60000" stroke="#a60000" stroke-width="0.4"/>
<path d="M248.5 308.6 L247.8 308.5 L247.7 308.0 L248.2 307.0 L250.0 305.6 L250.5 305.4 L251.2 305.5 L251.3 306.0 L250.8 307.0 L249.7 308.0 L248.5 308.6Z" fill="#ffffff" stroke="#ffffff" stroke-width="0.2"/>
<path d="M560.5 319.6 L558.0 319.8 L557.0 319.7 L555.5 319.1 L554.5 318.2 L553.7 317.0 L553.4 315.5 L553.5 314.0 L554.3 312.5 L555.5 311.3 L557.5 310.3 L568.0 306.2 L573.3 304.5 L572.8 302.5 L573.0 300.5 L572.1 300.0 L560.5 296.2 L554.5 293.3 L552.5 292.0 L551.9 291.5 L551.1 290.5 L550.7 289.5 L550.6 288.0 L550.8 287.0 L551.2 286.0 L552.0 285.0 L553.0 284.2 L554.5 283.7 L556.5 283.7 L561.0 284.1 L564.0 284.7 L576.5 289.2 L588.5 291.6 L591.0 292.8 L593.0 294.1 L594.6 295.5 L595.8 297.0 L596.4 298.5 L596.4 300.5 L596.1 301.5 L595.5 302.5 L595.2 304.0 L594.5 305.5 L593.7 306.5 L590.5 309.5 L588.0 311.5 L586.0 312.9 L584.5 313.7 L581.5 314.9 L571.5 317.7 L560.5 319.6Z" fill="#f6f9ff" stroke="#2c5ce2" stroke-width="0.85"/>
<path d="M558.5 319.5 L557.0 319.4 L556.0 319.1 L555.0 318.4 L554.3 317.5 L553.8 316.5 L553.6 315.0 L553.8 314.0 L554.6 312.5 L556.0 311.3 L558.5 310.2 L568.5 306.3 L574.2 304.5 L573.6 302.5 L573.8 300.5 L573.4 300.0 L560.5 295.9 L555.0 293.2 L552.5 291.7 L551.8 291.0 L551.2 290.0 L550.8 288.0 L551.0 287.0 L551.5 286.0 L553.0 284.5 L554.0 284.1 L556.0 283.9 L559.5 284.2 L563.5 284.8 L576.5 289.6 L588.0 291.8 L590.5 292.9 L592.5 294.1 L594.2 295.5 L595.5 297.0 L596.1 298.5 L596.2 300.0 L595.8 301.5 L595.1 302.5 L594.7 304.5 L594.2 305.5 L589.5 310.0 L586.0 312.5 L584.5 313.4 L581.0 314.7 L572.0 317.3 L564.0 318.8 L558.5 319.5Z" fill="none" stroke="#5a86ee" stroke-width="0.5"/>
<path d="M561.0 319.1 L557.5 319.3 L556.0 318.9 L555.0 318.1 L554.2 317.0 L553.8 315.5 L554.0 314.0 L554.5 312.9 L555.5 311.9 L558.5 310.4 L568.5 306.5 L574.9 304.5 L574.2 302.5 L574.4 300.5 L574.2 300.0 L574.0 299.9 L560.5 295.7 L555.5 293.3 L553.0 291.9 L551.7 290.5 L551.2 289.5 L551.0 288.5 L551.1 287.5 L551.4 286.5 L552.1 285.5 L553.0 284.8 L554.5 284.2 L556.0 284.1 L558.5 284.3 L563.5 285.1 L576.5 289.8 L588.0 292.0 L589.5 292.6 L592.0 294.1 L593.8 295.5 L595.2 297.0 L595.9 298.5 L595.9 300.0 L595.7 301.0 L594.9 302.5 L594.7 304.0 L594.3 305.0 L593.5 306.0 L590.3 309.0 L586.0 312.3 L584.5 313.2 L581.5 314.4 L571.5 317.3 L561.0 319.1Z" fill="#086cdc" stroke="#086cdc" stroke-width="0.4"/>
<path d="M561.5 318.6 L557.5 318.9 L556.5 318.6 L555.6 318.0 L554.7 317.0 L554.3 315.5 L554.5 314.0 L555.0 313.0 L556.0 312.1 L559.5 310.5 L568.5 306.9 L576.6 304.5 L575.9 303.0 L575.8 302.0 L575.9 301.0 L576.4 300.0 L561.0 295.3 L553.5 291.7 L552.2 290.5 L551.7 289.5 L551.5 288.5 L551.7 287.0 L552.3 286.0 L553.0 285.3 L554.5 284.6 L556.0 284.6 L558.5 284.7 L563.5 285.5 L576.5 290.5 L588.0 292.6 L590.0 293.5 L592.0 294.7 L593.5 296.0 L594.8 297.5 L595.3 298.5 L595.4 300.0 L595.1 301.0 L594.5 302.0 L594.3 303.5 L593.6 305.0 L590.0 308.6 L585.5 312.0 L584.0 312.9 L581.0 314.1 L571.5 316.8 L561.5 318.6Z" fill="#0c84e4" stroke="#0c84e4" stroke-width="0.4"/>
<path d="M562.0 318.1 L558.0 318.4 L557.0 318.3 L556.0 317.8 L555.3 317.0 L554.8 316.0 L554.8 314.5 L555.2 313.5 L556.0 312.6 L557.0 312.0 L561.0 310.3 L569.0 307.2 L576.5 305.0 L579.2 304.0 L579.5 303.5 L580.0 303.5 L578.8 303.0 L578.5 302.5 L578.5 301.5 L578.8 301.0 L579.5 300.6 L580.5 300.5 L579.0 300.3 L578.7 300.0 L574.0 298.6 L569.5 297.4 L561.0 294.8 L554.5 291.7 L552.8 290.5 L552.0 289.0 L552.0 288.0 L552.2 287.0 L552.9 286.0 L553.5 285.5 L554.5 285.1 L556.5 285.1 L563.5 286.0 L576.0 291.0 L588.0 293.2 L590.0 294.2 L592.0 295.4 L593.5 296.8 L594.4 298.0 L594.8 299.0 L594.8 300.0 L594.4 301.0 L593.8 302.0 L593.7 303.5 L593.3 304.5 L592.0 306.0 L589.5 308.4 L585.5 311.5 L584.0 312.4 L581.0 313.6 L571.5 316.4 L562.0 318.1Z" fill="#00ccff" stroke="#00ccff" stroke-width="0.4"/>
<path d="M582.2 302.5 L583.9 301.5 L582.0 300.9 L581.2 301.0 L581.5 301.5 L581.5 302.5 L582.2 302.5Z" fill="#00ccff" stroke="#00ccff" stroke-width="0.4"/>
<path d="M562.5 317.5 L558.5 317.9 L557.0 317.8 L556.0 317.1 L555.4 316.0 L555.3 315.0 L555.5 314.0 L556.5 312.9 L559.0 311.6 L569.0 307.6 L579.0 304.6 L581.5 303.5 L584.8 301.5 L584.5 301.0 L574.5 297.9 L570.0 296.9 L561.0 294.3 L556.5 292.2 L554.0 290.8 L552.7 289.5 L552.5 288.5 L552.6 287.5 L553.0 286.7 L553.7 286.0 L555.0 285.6 L556.5 285.5 L560.0 285.9 L563.5 286.5 L576.0 291.8 L587.5 293.7 L589.0 294.3 L591.0 295.5 L592.5 296.7 L593.6 298.0 L594.1 299.0 L594.1 300.0 L593.2 301.5 L593.2 303.0 L592.6 304.5 L588.5 308.6 L585.0 311.2 L583.0 312.3 L580.0 313.4 L571.5 316.0 L562.5 317.5Z" fill="#ffe566" stroke="#ffe566" stroke-width="0.4"/>
<path d="M562.5 317.1 L558.5 317.4 L557.0 317.1 L556.5 316.8 L556.0 316.0 L555.9 314.5 L556.5 313.6 L557.4 313.0 L560.0 311.7 L569.0 308.1 L576.0 306.1 L579.5 304.9 L582.5 303.6 L586.6 301.0 L578.5 298.5 L574.5 297.0 L570.0 296.2 L561.0 293.8 L555.5 291.1 L553.5 289.7 L553.1 289.0 L553.0 288.0 L553.4 287.0 L554.0 286.5 L555.0 286.1 L557.0 286.1 L563.5 287.0 L571.0 290.3 L575.5 292.6 L587.5 294.3 L590.6 296.0 L592.7 298.0 L593.3 299.5 L593.0 300.4 L592.5 301.0 L592.7 302.5 L592.2 304.0 L588.9 307.5 L585.0 310.6 L583.5 311.5 L580.5 312.8 L571.5 315.5 L562.5 317.1Z" fill="#ffcb00" stroke="#ffcb00" stroke-width="0.4"/>
<path d="M563.0 316.5 L559.5 316.8 L557.5 316.6 L556.7 316.0 L556.5 315.0 L556.7 314.5 L557.5 313.6 L560.0 312.3 L569.0 308.5 L579.5 305.5 L582.5 304.2 L588.0 300.8 L588.9 300.5 L585.5 300.0 L578.5 297.5 L575.5 296.1 L575.0 295.7 L573.0 295.9 L570.5 295.6 L561.5 293.4 L556.5 291.0 L554.2 289.5 L553.9 289.0 L553.7 288.0 L553.9 287.5 L554.4 287.0 L555.5 286.7 L557.5 286.7 L563.5 287.6 L571.7 291.5 L574.0 292.8 L575.5 294.0 L577.0 293.9 L580.5 294.2 L587.0 294.9 L589.5 296.1 L590.7 297.0 L591.6 298.0 L592.0 299.0 L592.0 299.5 L591.8 300.0 L590.8 300.5 L591.5 301.1 L591.9 302.0 L591.7 303.5 L588.5 307.1 L584.5 310.3 L580.5 312.3 L571.5 315.1 L563.0 316.5Z" fill="#ffab00" stroke="#ffab00" stroke-width="0.4"/>
<path d="M570.5 294.5 L567.0 294.1 L561.5 292.8 L556.1 290.0 L555.0 289.0 L554.8 288.5 L554.9 288.0 L555.8 287.5 L557.5 287.4 L560.5 287.6 L563.5 288.2 L568.1 290.5 L571.5 292.6 L572.3 293.5 L572.3 294.0 L572.0 294.3 L570.5 294.5Z" fill="#ff9400" stroke="#ff9400" stroke-width="0.4"/>
<path d="M590.0 299.0 L589.0 299.4 L586.0 299.3 L580.9 297.0 L580.0 296.0 L580.5 296.0 L581.0 295.6 L582.0 295.5 L587.0 295.7 L588.5 296.5 L589.6 297.5 L590.2 298.5 L590.0 299.0Z" fill="#ff9400" stroke="#ff9400" stroke-width="0.4"/>
<path d="M562.5 316.1 L560.0 316.2 L558.5 316.0 L557.6 315.5 L557.6 315.0 L558.2 314.0 L559.5 313.1 L569.0 309.0 L578.0 306.5 L580.5 305.6 L583.0 304.5 L587.5 302.0 L589.0 301.3 L590.0 301.2 L590.5 301.4 L591.0 302.0 L591.1 302.5 L590.7 303.5 L588.2 306.5 L585.0 309.3 L582.5 310.8 L578.5 312.5 L571.0 314.8 L562.5 316.1Z" fill="#ff9400" stroke="#ff9400" stroke-width="0.4"/>
<path d="M567.5 293.0 L562.0 292.4 L557.8 290.0 L556.8 289.0 L557.2 288.5 L558.0 288.3 L559.5 288.2 L563.0 288.6 L566.0 290.3 L568.0 291.7 L568.4 292.5 L567.5 293.0Z" fill="#ff7600" stroke="#ff7600" stroke-width="0.4"/>
<path d="M586.5 298.1 L585.8 297.5 L586.5 296.9 L587.2 297.5 L586.5 298.1Z" fill="#ff7600" stroke="#ff7600" stroke-width="0.4"/>
<path d="M562.5 315.5 L560.0 315.4 L559.5 315.0 L559.3 314.5 L559.7 314.0 L561.5 312.8 L569.5 309.2 L580.0 306.4 L582.5 305.5 L587.5 303.0 L588.5 302.8 L589.2 303.0 L589.3 303.5 L588.8 304.5 L587.0 306.7 L584.0 309.3 L582.0 310.5 L578.3 312.0 L571.0 314.4 L562.5 315.5Z" fill="#ff7600" stroke="#ff7600" stroke-width="0.4"/>
<path d="M564.5 291.6 L562.0 291.6 L560.4 290.5 L560.0 290.0 L560.0 289.5 L561.0 289.3 L563.0 289.4 L564.0 290.2 L564.7 291.0 L564.5 291.6Z" fill="#ff5300" stroke="#ff5300" stroke-width="0.4"/>
<path d="M567.0 314.5 L563.5 314.8 L562.0 314.6 L561.7 314.0 L562.0 313.5 L564.0 312.2 L569.5 309.7 L578.5 307.5 L585.0 305.3 L586.0 305.0 L586.4 305.5 L585.9 306.5 L584.5 308.0 L583.0 309.2 L581.0 310.3 L577.0 312.0 L571.0 314.0 L567.0 314.5Z" fill="#ff5300" stroke="#ff5300" stroke-width="0.4"/>
<path d="M567.0 314.0 L565.5 314.0 L565.0 313.7 L564.5 313.9 L564.1 313.5 L564.4 313.0 L565.5 312.2 L569.9 310.0 L581.0 307.5 L582.0 307.3 L583.1 307.5 L582.5 308.5 L580.0 310.1 L578.0 311.0 L571.0 313.5 L567.0 314.0Z" fill="#ea1c00" stroke="#ea1c00" stroke-width="0.4"/>
<path d="M571.0 313.1 L569.5 313.3 L568.0 313.3 L567.5 313.1 L567.0 313.2 L566.5 313.0 L566.5 312.5 L570.0 310.4 L577.5 309.1 L578.0 309.3 L578.5 309.0 L578.8 309.5 L577.3 310.5 L571.0 313.1Z" fill="#d80000" stroke="#d80000" stroke-width="0.4"/>
<path d="M571.0 312.6 L570.5 312.8 L569.0 312.7 L568.7 312.5 L568.6 312.0 L568.9 311.5 L570.0 310.8 L573.5 310.3 L574.0 310.5 L574.5 310.3 L574.7 310.5 L574.5 311.0 L574.0 311.0 L573.6 311.5 L571.0 312.6Z" fill="#a60000" stroke="#a60000" stroke-width="0.4"/>
<path d="M570.5 312.4 L570.0 312.3 L569.7 312.0 L569.8 311.5 L570.0 311.3 L571.5 311.1 L571.7 311.5 L571.5 311.9 L571.0 311.8 L570.5 312.4Z" fill="#ffffff" stroke="#ffffff" stroke-width="0.2"/>
<path d="M564 313.2L580 308.2" fill="none" stroke="#fff" stroke-width="1.1" stroke-dasharray="2 0.8"/>
<ellipse cx="586.5" cy="297.5" rx="1.6" ry="2.4" fill="none" stroke="#fff8e8" stroke-width="0.8"/>
<ellipse cx="514.8" cy="326.4" rx="1.8" ry="1.0" fill="#5a78f0" stroke="none"/>
<line x1="567" y1="422.2" x2="567" y2="455.4" stroke="#4a6cf0" stroke-width="1.4"/>
<path d="M890.5 338.7 L889.0 338.9 L888.0 338.5 L887.4 338.0 L887.0 337.5 L886.6 336.5 L886.6 335.5 L887.0 334.5 L887.5 333.9 L893.5 328.6 L899.9 322.0 L905.5 314.0 L909.5 308.0 L911.5 304.0 L913.5 301.1 L915.0 298.4 L916.2 295.5 L916.5 294.0 L915.5 288.0 L914.6 279.5 L914.5 277.0 L914.7 276.0 L915.1 275.0 L915.8 274.0 L916.5 273.4 L917.5 272.8 L918.5 272.6 L919.5 272.5 L920.5 272.6 L921.5 273.0 L922.5 273.7 L923.2 274.5 L925.3 278.5 L927.9 285.0 L929.5 290.0 L930.1 293.0 L930.3 296.0 L929.7 300.0 L928.8 303.5 L926.8 308.5 L924.6 312.5 L922.0 315.1 L918.0 318.2 L913.0 321.5 L904.5 327.5 L895.0 335.4 L891.5 338.1 L890.5 338.7Z" fill="#dbe9fc" stroke="#2c5ce2" stroke-width="0.85"/>
<path d="M890.5 337.0 L889.5 337.4 L888.5 337.0 L888.1 336.0 L888.5 335.0 L894.0 330.1 L895.8 327.5 L900.0 322.7 L909.5 308.6 L911.9 304.0 L914.0 300.9 L916.0 297.2 L917.1 294.5 L917.0 289.0 L917.1 287.5 L917.5 286.0 L916.4 278.0 L916.5 276.5 L917.0 275.5 L918.0 274.7 L919.0 274.4 L920.5 274.6 L921.5 275.3 L921.9 276.0 L925.1 284.0 L926.3 285.5 L927.5 287.5 L928.8 290.5 L929.4 293.0 L929.6 295.5 L929.6 297.5 L929.2 300.5 L928.0 304.5 L925.9 309.5 L924.0 312.7 L920.0 316.3 L908.5 324.4 L904.3 327.0 L899.0 331.1 L896.0 332.7 L890.5 337.0Z" fill="none" stroke="#5a86ee" stroke-width="0.5"/>
<path d="M897.0 331.1 L896.0 331.0 L895.5 330.2 L895.8 329.0 L896.3 328.0 L900.2 323.0 L909.5 309.0 L911.0 306.4 L911.9 304.5 L914.5 300.6 L916.4 297.0 L917.6 294.5 L917.8 289.5 L918.1 288.0 L918.7 286.5 L919.5 285.5 L920.8 284.5 L921.0 283.4 L921.6 284.5 L923.0 284.6 L924.1 285.0 L926.0 286.7 L927.7 289.5 L928.8 292.5 L929.1 295.5 L929.1 299.0 L928.2 303.0 L926.8 307.0 L924.6 311.5 L923.9 312.5 L922.5 313.9 L918.5 317.2 L907.5 324.7 L903.7 327.0 L900.0 329.7 L898.5 330.6 L897.0 331.1Z" fill="#086cdc" stroke="#086cdc" stroke-width="0.4"/>
<path d="M900.5 327.0 L900.0 326.9 L899.9 326.0 L901.0 324.1 L901.9 321.5 L910.4 308.5 L912.5 304.5 L915.8 299.5 L918.9 294.0 L919.5 291.3 L920.1 289.5 L921.0 288.5 L922.0 287.9 L923.0 287.9 L924.5 288.4 L926.0 289.9 L927.3 292.5 L928.2 296.5 L928.3 298.5 L927.9 301.5 L927.3 304.0 L925.7 308.0 L924.0 311.5 L922.2 313.5 L919.5 315.8 L908.0 323.7 L904.5 325.6 L902.9 326.0 L901.0 327.0 L900.5 327.0Z" fill="#0c84e4" stroke="#0c84e4" stroke-width="0.4"/>
<path d="M904.5 324.5 L903.2 324.5 L902.6 324.0 L902.4 323.5 L902.7 322.0 L903.9 319.5 L911.0 308.5 L913.1 304.5 L915.3 301.5 L919.1 295.5 L920.5 294.0 L922.0 291.8 L923.0 291.3 L924.1 291.5 L925.3 292.5 L927.0 296.0 L927.4 297.5 L927.4 299.5 L927.0 302.5 L926.3 305.0 L925.4 307.5 L923.7 311.0 L922.0 313.0 L918.0 316.3 L907.5 323.2 L904.5 324.5Z" fill="#00ccff" stroke="#00ccff" stroke-width="0.4"/>
<path d="M905.0 323.0 L904.5 322.9 L904.1 322.5 L904.0 322.0 L904.6 320.0 L908.4 313.5 L911.5 308.6 L913.7 304.5 L918.7 297.5 L920.4 295.5 L921.5 294.8 L922.5 294.5 L923.5 294.5 L924.7 295.0 L925.5 295.8 L926.2 297.0 L926.6 299.0 L926.6 300.5 L926.1 303.5 L925.3 306.0 L923.0 311.2 L920.5 313.7 L916.0 317.0 L908.5 321.7 L907.0 322.5 L905.0 323.0Z" fill="#d2efa4" stroke="#d2efa4" stroke-width="0.4"/>
<path d="M907.5 321.1 L906.5 321.2 L906.0 320.8 L905.9 320.0 L906.2 319.0 L908.8 314.0 L912.2 308.5 L914.0 305.0 L918.5 299.0 L920.5 296.8 L921.5 296.2 L922.5 295.9 L924.0 296.2 L924.8 297.0 L925.6 298.5 L925.8 300.0 L925.7 301.5 L924.9 305.5 L923.5 309.0 L922.5 311.0 L920.0 313.4 L916.5 316.1 L909.0 320.5 L907.5 321.1Z" fill="#ffcb00" stroke="#ffcb00" stroke-width="0.4"/>
<path d="M909.0 319.1 L908.3 319.0 L907.9 318.5 L908.8 315.5 L909.8 313.5 L913.1 308.0 L914.5 305.2 L918.7 300.0 L920.5 298.2 L922.0 297.4 L923.0 297.4 L923.5 297.6 L924.0 298.1 L924.7 299.5 L924.9 301.0 L924.8 302.5 L923.9 306.5 L922.2 310.5 L920.0 312.7 L916.0 315.7 L912.5 317.7 L909.0 319.1Z" fill="#ffab00" stroke="#ffab00" stroke-width="0.4"/>
<path d="M912.0 317.0 L910.5 317.2 L910.0 317.0 L909.8 316.5 L909.9 315.0 L914.9 305.5 L918.8 301.0 L920.5 299.5 L922.0 298.9 L923.0 299.2 L923.5 299.8 L923.9 301.0 L924.0 303.5 L923.4 306.0 L921.9 310.0 L920.5 311.6 L917.5 314.0 L915.0 315.6 L912.0 317.0Z" fill="#ff9400" stroke="#ff9400" stroke-width="0.4"/>
<path d="M913.5 315.5 L912.0 315.8 L911.5 315.6 L911.2 315.0 L911.4 314.0 L915.2 306.0 L919.5 301.4 L921.0 300.6 L922.0 300.6 L922.9 301.5 L923.1 303.5 L922.8 306.0 L921.5 309.7 L920.0 311.3 L918.0 312.9 L915.5 314.6 L913.5 315.5Z" fill="#ff7600" stroke="#ff7600" stroke-width="0.4"/>
<path d="M914.5 314.1 L913.5 314.3 L912.9 314.0 L912.7 313.5 L913.0 312.1 L915.5 306.5 L917.5 304.3 L919.5 302.6 L920.5 302.1 L921.0 302.0 L921.5 302.2 L922.1 303.0 L922.3 304.0 L922.2 305.5 L921.6 308.0 L921.0 309.5 L919.6 311.0 L918.0 312.2 L916.0 313.5 L914.5 314.1Z" fill="#ff5300" stroke="#ff5300" stroke-width="0.4"/>
<path d="M916.0 312.6 L915.0 312.8 L914.5 312.7 L914.2 312.0 L914.5 310.5 L916.0 306.6 L916.5 306.0 L919.0 304.0 L920.5 303.6 L921.0 304.0 L921.4 305.0 L921.3 306.5 L920.7 309.0 L920.0 309.9 L918.5 311.1 L916.0 312.6Z" fill="#ea1c00" stroke="#ea1c00" stroke-width="0.4"/>
<path d="M917.0 311.2 L916.0 311.3 L915.4 310.5 L916.4 307.0 L917.0 306.2 L918.9 305.0 L919.5 304.9 L920.0 305.1 L920.4 305.5 L920.6 306.0 L920.5 307.5 L920.1 309.0 L919.0 310.0 L917.0 311.2Z" fill="#d80000" stroke="#d80000" stroke-width="0.4"/>
<path d="M917.5 310.0 L917.0 310.1 L916.5 309.6 L916.7 307.5 L917.0 307.0 L917.5 306.5 L919.0 306.0 L919.8 306.5 L919.9 307.0 L919.8 308.5 L919.0 309.3 L917.5 310.0Z" fill="#a60000" stroke="#a60000" stroke-width="0.4"/>
<path d="M918.0 309.0 L917.5 309.0 L917.2 308.0 L917.3 307.5 L917.7 307.0 L918.5 306.8 L919.0 307.0 L919.4 308.0 L919.0 308.7 L918.0 309.0Z" fill="#ffffff" stroke="#ffffff" stroke-width="0.2"/>
<ellipse cx="894.6" cy="371.3" rx="2.9" ry="3.3" transform="rotate(-30 894.6 371.3)" fill="none" stroke="#3a5cf0" stroke-width="0.7"/>
<path d="M223.0 566.0 L220.5 566.3 L218.5 566.4 L218.0 566.3 L217.5 566.0 L217.2 565.5 L217.0 564.5 L217.5 563.6 L218.0 563.3 L222.5 562.1 L228.0 559.8 L231.0 558.3 L234.9 555.0 L238.0 551.7 L241.8 548.5 L243.0 547.3 L244.0 546.0 L244.4 545.0 L244.6 544.0 L244.4 541.0 L243.7 538.0 L242.1 533.0 L241.7 530.0 L240.7 525.0 L240.6 522.5 L240.8 521.5 L241.2 520.5 L242.0 519.6 L243.0 518.9 L244.0 518.5 L245.0 518.4 L246.0 518.5 L247.0 518.9 L248.5 519.9 L250.0 521.4 L254.7 527.0 L255.9 529.0 L256.9 532.0 L257.7 535.0 L258.2 538.0 L258.5 542.0 L258.2 546.5 L257.7 548.5 L256.8 551.0 L255.7 553.0 L254.9 554.0 L252.5 556.6 L249.0 559.4 L245.5 561.8 L244.5 562.2 L241.5 563.1 L238.5 563.7 L233.5 564.4 L229.0 565.3 L223.0 566.0Z" fill="#f6f9ff" stroke="#2c5ce2" stroke-width="0.85"/>
<path d="M225.0 565.5 L221.0 565.9 L219.0 565.9 L217.9 565.5 L217.6 565.0 L217.7 564.5 L218.0 564.0 L218.9 563.5 L222.5 562.4 L231.1 558.5 L235.2 555.0 L238.5 551.6 L242.2 548.5 L244.0 546.6 L244.6 545.5 L245.0 543.5 L244.8 540.5 L244.0 537.4 L242.6 533.0 L242.1 530.0 L241.1 525.0 L240.9 522.5 L241.1 521.5 L241.6 520.5 L243.0 519.2 L244.0 518.8 L245.0 518.7 L246.0 518.8 L247.0 519.2 L248.5 520.3 L250.1 522.0 L254.2 527.0 L255.4 529.0 L256.2 531.5 L257.6 537.0 L258.1 542.0 L257.8 546.5 L257.3 548.5 L256.6 550.5 L255.2 553.0 L252.5 556.1 L249.0 559.0 L245.0 561.7 L239.5 563.3 L233.5 564.1 L228.0 565.2 L225.0 565.5Z" fill="none" stroke="#5a86ee" stroke-width="0.5"/>
<path d="M222.5 565.5 L219.3 565.5 L218.4 565.0 L218.4 564.5 L219.0 564.0 L223.0 562.5 L231.3 558.5 L235.5 555.0 L238.5 551.8 L242.5 548.5 L244.7 546.0 L245.1 545.0 L245.2 544.0 L245.1 540.5 L244.5 537.9 L242.9 533.0 L242.4 530.0 L241.2 524.5 L241.1 522.5 L241.3 521.5 L241.8 520.5 L243.0 519.4 L244.0 519.0 L245.0 518.9 L246.0 519.0 L247.0 519.4 L248.3 520.5 L250.2 522.5 L254.5 528.0 L255.3 529.5 L256.6 534.0 L257.6 539.0 L257.8 543.5 L257.3 547.5 L256.7 549.5 L255.9 551.5 L253.8 554.5 L251.5 556.8 L248.0 559.5 L244.5 561.8 L238.5 563.3 L233.3 564.0 L229.0 564.9 L222.5 565.5Z" fill="#086cdc" stroke="#086cdc" stroke-width="0.4"/>
<path d="M228.5 564.5 L224.5 564.8 L222.6 564.5 L222.0 564.2 L221.9 564.0 L223.0 563.4 L224.0 562.5 L231.5 558.8 L236.0 555.0 L238.5 552.4 L243.2 548.5 L244.6 547.0 L245.6 545.5 L245.9 543.5 L245.8 540.5 L245.0 537.1 L243.6 533.0 L243.1 530.0 L241.7 524.5 L241.6 522.5 L242.1 521.0 L243.5 519.7 L245.0 519.4 L246.5 519.7 L248.6 521.5 L251.8 525.5 L254.2 529.0 L255.2 531.5 L256.6 537.0 L257.1 542.5 L256.8 547.0 L255.9 550.0 L254.3 553.0 L252.0 555.6 L248.5 558.6 L245.0 561.0 L243.0 561.8 L239.5 562.7 L228.5 564.5Z" fill="#0c84e4" stroke="#0c84e4" stroke-width="0.4"/>
<path d="M229.0 564.1 L225.5 564.2 L224.6 564.0 L224.3 563.5 L225.3 562.5 L231.5 559.3 L233.0 558.1 L236.1 555.5 L239.0 552.5 L244.0 548.5 L245.5 546.8 L246.2 545.5 L246.6 543.0 L246.5 539.9 L245.5 536.0 L244.4 533.0 L242.1 523.0 L242.4 521.5 L243.3 520.5 L244.5 520.0 L246.0 520.1 L247.0 520.7 L248.2 522.0 L252.4 527.5 L253.6 529.5 L254.6 532.5 L256.0 538.0 L256.4 542.5 L256.3 546.0 L255.9 548.0 L255.2 550.0 L253.9 552.5 L251.5 555.4 L248.5 558.0 L244.5 560.8 L242.0 561.7 L238.5 562.5 L229.0 564.1Z" fill="#00ccff" stroke="#00ccff" stroke-width="0.4"/>
<path d="M228.5 563.5 L227.0 563.5 L226.4 563.0 L227.5 562.0 L232.0 559.5 L235.0 556.9 L239.5 552.6 L244.7 548.5 L246.1 547.0 L246.9 545.5 L247.5 542.0 L247.4 540.0 L246.5 536.5 L245.3 533.0 L242.7 523.0 L242.8 522.0 L243.6 521.0 L245.0 520.5 L246.0 520.7 L246.9 521.5 L248.0 522.8 L251.7 528.0 L252.9 530.0 L253.9 533.0 L255.0 537.5 L255.7 543.0 L255.5 546.5 L254.8 549.5 L253.2 552.5 L251.2 555.0 L248.0 557.8 L244.5 560.4 L242.0 561.3 L238.5 562.1 L228.5 563.5Z" fill="#d2efa4" stroke="#d2efa4" stroke-width="0.4"/>
<path d="M232.0 562.5 L229.5 562.6 L229.3 562.5 L229.3 562.0 L232.0 560.1 L237.2 555.5 L239.5 553.2 L243.1 550.5 L245.5 548.5 L246.9 547.0 L247.8 545.0 L248.5 541.0 L248.2 539.0 L243.4 523.0 L243.5 522.4 L244.0 521.6 L244.5 521.3 L245.5 521.3 L246.0 521.6 L246.8 522.5 L250.5 527.8 L252.1 530.5 L252.9 533.0 L254.1 537.5 L254.8 543.0 L254.8 546.5 L254.2 549.0 L252.8 552.0 L251.0 554.4 L248.0 557.2 L244.5 559.9 L242.0 560.8 L239.0 561.6 L235.5 562.2 L232.0 562.5Z" fill="#ffcb00" stroke="#ffcb00" stroke-width="0.4"/>
<path d="M237.0 561.6 L233.5 561.8 L232.4 561.5 L232.3 561.0 L233.4 559.5 L237.5 555.8 L239.7 553.5 L244.0 550.4 L247.3 547.5 L248.0 546.5 L248.7 545.0 L249.7 541.0 L248.9 536.5 L245.2 524.5 L245.2 523.5 L245.5 523.2 L247.5 525.7 L249.4 528.5 L250.9 531.0 L251.2 532.0 L252.4 536.0 L253.3 541.0 L253.8 543.0 L254.0 545.5 L253.7 548.0 L252.6 551.0 L251.4 553.0 L249.2 555.5 L247.0 557.5 L244.5 559.4 L243.5 559.9 L240.0 561.0 L237.0 561.6Z" fill="#ffab00" stroke="#ffab00" stroke-width="0.4"/>
<path d="M237.0 561.1 L234.5 561.1 L233.9 561.0 L233.7 560.5 L233.9 560.0 L234.7 559.0 L240.0 553.8 L244.8 550.5 L248.4 547.5 L251.0 543.1 L251.5 542.8 L252.0 543.0 L252.5 543.7 L252.9 545.0 L252.9 547.5 L251.8 551.0 L250.3 553.5 L247.4 556.5 L244.0 559.2 L241.0 560.3 L237.0 561.1Z" fill="#ff9400" stroke="#ff9400" stroke-width="0.4"/>
<path d="M237.0 560.6 L236.0 560.5 L235.5 560.3 L235.2 560.0 L235.3 559.5 L236.0 558.5 L240.4 554.0 L250.5 547.1 L251.0 547.0 L251.4 548.0 L250.9 551.0 L249.8 553.0 L247.2 556.0 L243.5 559.0 L240.5 560.0 L237.0 560.6Z" fill="#ff7600" stroke="#ff7600" stroke-width="0.4"/>
<path d="M240.0 559.6 L237.5 559.8 L236.8 559.5 L236.7 559.0 L237.5 557.8 L241.0 554.1 L248.0 550.0 L249.0 549.7 L249.7 550.0 L249.8 551.0 L249.3 552.5 L247.5 554.9 L246.0 556.5 L243.5 558.6 L240.0 559.6Z" fill="#ff5300" stroke="#ff5300" stroke-width="0.4"/>
<path d="M240.0 559.0 L238.5 559.0 L238.0 558.5 L238.5 557.5 L241.0 554.6 L246.0 551.9 L247.4 551.5 L248.0 551.7 L248.1 552.5 L247.7 553.5 L246.5 555.2 L244.5 557.2 L243.0 558.3 L240.0 559.0Z" fill="#ea1c00" stroke="#ea1c00" stroke-width="0.4"/>
<path d="M242.5 558.0 L240.0 558.4 L239.4 558.0 L239.4 557.5 L240.4 556.0 L241.5 554.8 L244.0 553.6 L246.0 553.0 L246.5 553.5 L245.5 555.4 L243.5 557.5 L242.5 558.0Z" fill="#d80000" stroke="#d80000" stroke-width="0.4"/>
<path d="M242.5 557.6 L241.5 557.7 L240.5 557.5 L240.7 556.5 L241.3 555.5 L242.0 555.0 L243.5 554.4 L244.5 554.3 L244.8 554.5 L244.6 555.5 L243.9 556.5 L243.0 557.4 L242.5 557.6Z" fill="#a60000" stroke="#a60000" stroke-width="0.4"/>
<path d="M242.5 557.2 L241.4 557.0 L241.3 556.5 L241.5 555.9 L242.0 555.4 L243.0 555.2 L243.5 555.4 L243.6 556.0 L243.0 556.9 L242.5 557.2Z" fill="#ffffff" stroke="#ffffff" stroke-width="0.2"/>
<path d="M247.2 526.5Q250.8 534 251.3 544.5" fill="none" stroke="#fff1d8" stroke-width="2.4" stroke-linecap="round"/><path d="M247.2 526.5Q250.8 534 251.3 544.5" fill="none" stroke="#fff" stroke-width="1.2" stroke-dasharray="1.6 0.8"/><path d="M238 558.6L247.5 553.6" fill="none" stroke="#fff" stroke-width="1.0" stroke-dasharray="2 0.8"/>
<path d="M197 569 q4-1.6 9.5-0.6 q-4 2.6-9.5 0.6z" fill="#6f8cf5" stroke="#3a5cf0" stroke-width="0.4"/>
<clipPath id="clip00"><rect x="65.6" y="24.6" width="242.8" height="195.5"/></clipPath>
<g clip-path="url(#clip00)" stroke="#222" fill="none">
<line x1="65.6" y1="220.1" x2="308.4" y2="24.6" stroke-width="1.1" stroke-dasharray="4.3 3.5"/>
<line x1="65.6" y1="187.5" x2="267.9" y2="24.6" stroke-width="1.1" stroke-dasharray="1.6 1.9"/>
<line x1="65.6" y1="154.9" x2="227.5" y2="24.6" stroke-width="0.95" stroke-dasharray="3.8 1.8 1.1 1.8 1.1 1.8"/>
</g>
<clipPath id="clip10"><rect x="400.7" y="24.6" width="242.8" height="195.5"/></clipPath>
<g clip-path="url(#clip10)" stroke="#222" fill="none">
<line x1="400.7" y1="220.1" x2="643.5" y2="24.6" stroke-width="1.1" stroke-dasharray="4.3 3.5"/>
<line x1="400.7" y1="187.5" x2="603.0" y2="24.6" stroke-width="1.1" stroke-dasharray="1.6 1.9"/>
<line x1="400.7" y1="154.9" x2="562.6" y2="24.6" stroke-width="0.95" stroke-dasharray="3.8 1.8 1.1 1.8 1.1 1.8"/>
</g>
<clipPath id="clip20"><rect x="736.0" y="24.6" width="243.5" height="195.5"/></clipPath>
<g clip-path="url(#clip20)" stroke="#222" fill="none">
<line x1="736.0" y1="220.1" x2="979.5" y2="24.6" stroke-width="1.1" stroke-dasharray="4.3 3.5"/>
<line x1="736.0" y1="187.5" x2="938.9" y2="24.6" stroke-width="1.1" stroke-dasharray="1.6 1.9"/>
<line x1="736.0" y1="154.9" x2="898.3" y2="24.6" stroke-width="0.95" stroke-dasharray="3.8 1.8 1.1 1.8 1.1 1.8"/>
</g>
<clipPath id="clip01"><rect x="65.6" y="260.3" width="242.8" height="195.6"/></clipPath>
<g clip-path="url(#clip01)" stroke="#222" fill="none">
<line x1="65.6" y1="455.9" x2="308.4" y2="260.3" stroke-width="1.1" stroke-dasharray="4.3 3.5"/>
<line x1="65.6" y1="423.3" x2="267.9" y2="260.3" stroke-width="1.1" stroke-dasharray="1.6 1.9"/>
<line x1="65.6" y1="390.7" x2="227.5" y2="260.3" stroke-width="0.95" stroke-dasharray="3.8 1.8 1.1 1.8 1.1 1.8"/>
</g>
<clipPath id="clip11"><rect x="400.7" y="260.3" width="242.8" height="195.6"/></clipPath>
<g clip-path="url(#clip11)" stroke="#222" fill="none">
<line x1="400.7" y1="455.9" x2="643.5" y2="260.3" stroke-width="0.95" stroke-dasharray="5.5 2.2 1.5 2.2"/>
<line x1="400.7" y1="423.3" x2="603.0" y2="260.3" stroke-width="1.1" stroke-dasharray="1.6 1.9"/>
<line x1="400.7" y1="390.7" x2="562.6" y2="260.3" stroke-width="0.95" stroke-dasharray="3.8 1.8 1.1 1.8 1.1 1.8"/>
</g>
<clipPath id="clip21"><rect x="736.0" y="260.3" width="243.5" height="195.6"/></clipPath>
<g clip-path="url(#clip21)" stroke="#222" fill="none">
<line x1="736.0" y1="455.9" x2="979.5" y2="260.3" stroke-width="1.1" stroke-dasharray="4.3 3.5"/>
<line x1="736.0" y1="423.3" x2="938.9" y2="260.3" stroke-width="1.1" stroke-dasharray="1.6 1.9"/>
<line x1="736.0" y1="390.7" x2="898.3" y2="260.3" stroke-width="0.95" stroke-dasharray="3.8 1.8 1.1 1.8 1.1 1.8"/>
</g>
<clipPath id="clip02"><rect x="65.6" y="503.4" width="242.8" height="196.1"/></clipPath>
<g clip-path="url(#clip02)" stroke="#222" fill="none">
<line x1="65.6" y1="699.5" x2="308.4" y2="503.4" stroke-width="1.1" stroke-dasharray="4.3 3.5"/>
<line x1="65.6" y1="666.8" x2="267.9" y2="503.4" stroke-width="1.1" stroke-dasharray="1.6 1.9"/>
<line x1="65.6" y1="634.1" x2="227.5" y2="503.4" stroke-width="0.95" stroke-dasharray="3.8 1.8 1.1 1.8 1.1 1.8"/>
</g>
<rect x="65.6" y="24.6" width="242.8" height="195.5" fill="none" stroke="#3a3a3a" stroke-width="1.1"/>
<path d="M65.60 220.10v4.0 M65.60 220.10h-4.0 M106.07 220.10v4.0 M65.60 187.52h-4.0 M146.53 220.10v4.0 M65.60 154.93h-4.0 M187.00 220.10v4.0 M65.60 122.35h-4.0 M227.47 220.10v4.0 M65.60 89.77h-4.0 M267.93 220.10v4.0 M65.60 57.18h-4.0 M308.40 220.10v4.0 M65.60 24.60h-4.0" stroke="#3a3a3a" stroke-width="1" fill="none"/>
<path d="M77.78 220.10v1.8 M65.60 210.29h-1.8 M84.91 220.10v1.8 M65.60 204.55h-1.8 M89.96 220.10v1.8 M65.60 200.48h-1.8 M93.88 220.10v1.8 M65.60 197.33h-1.8 M97.09 220.10v1.8 M65.60 194.75h-1.8 M99.80 220.10v1.8 M65.60 192.56h-1.8 M102.15 220.10v1.8 M65.60 190.67h-1.8 M104.22 220.10v1.8 M65.60 189.01h-1.8 M118.25 220.10v1.8 M65.60 177.71h-1.8 M125.37 220.10v1.8 M65.60 171.97h-1.8 M130.43 220.10v1.8 M65.60 167.90h-1.8 M134.35 220.10v1.8 M65.60 164.74h-1.8 M137.56 220.10v1.8 M65.60 162.16h-1.8 M140.26 220.10v1.8 M65.60 159.98h-1.8 M142.61 220.10v1.8 M65.60 158.09h-1.8 M144.68 220.10v1.8 M65.60 156.42h-1.8 M158.72 220.10v1.8 M65.60 145.12h-1.8 M165.84 220.10v1.8 M65.60 139.39h-1.8 M170.90 220.10v1.8 M65.60 135.32h-1.8 M174.82 220.10v1.8 M65.60 132.16h-1.8 M178.02 220.10v1.8 M65.60 129.58h-1.8 M180.73 220.10v1.8 M65.60 127.40h-1.8 M183.08 220.10v1.8 M65.60 125.51h-1.8 M185.15 220.10v1.8 M65.60 123.84h-1.8 M199.18 220.10v1.8 M65.60 112.54h-1.8 M206.31 220.10v1.8 M65.60 106.80h-1.8 M211.36 220.10v1.8 M65.60 102.73h-1.8 M215.28 220.10v1.8 M65.60 99.58h-1.8 M218.49 220.10v1.8 M65.60 97.00h-1.8 M221.20 220.10v1.8 M65.60 94.81h-1.8 M223.55 220.10v1.8 M65.60 92.92h-1.8 M225.62 220.10v1.8 M65.60 91.26h-1.8 M239.65 220.10v1.8 M65.60 79.96h-1.8 M246.77 220.10v1.8 M65.60 74.22h-1.8 M251.83 220.10v1.8 M65.60 70.15h-1.8 M255.75 220.10v1.8 M65.60 66.99h-1.8 M258.96 220.10v1.8 M65.60 64.41h-1.8 M261.66 220.10v1.8 M65.60 62.23h-1.8 M264.01 220.10v1.8 M65.60 60.34h-1.8 M266.08 220.10v1.8 M65.60 58.67h-1.8 M280.12 220.10v1.8 M65.60 47.37h-1.8 M287.24 220.10v1.8 M65.60 41.64h-1.8 M292.30 220.10v1.8 M65.60 37.57h-1.8 M296.22 220.10v1.8 M65.60 34.41h-1.8 M299.42 220.10v1.8 M65.60 31.83h-1.8 M302.13 220.10v1.8 M65.60 29.65h-1.8 M304.48 220.10v1.8 M65.60 27.76h-1.8 M306.55 220.10v1.8 M65.60 26.09h-1.8" stroke="#3a3a3a" stroke-width="0.8" fill="none"/>
<g font-family='"Liberation Serif","Times New Roman",serif' font-weight="bold" font-size="8.2" fill="#1c1c1c" stroke="#1c1c1c" stroke-width="0.2">
<text x="65.6" y="233.5" text-anchor="middle">0.01</text>
<text x="59.3" y="222.7" text-anchor="end">0.01</text>
<text x="106.1" y="233.5" text-anchor="middle">0.1</text>
<text x="59.3" y="190.1" text-anchor="end">0.1</text>
<text x="146.5" y="233.5" text-anchor="middle">1</text>
<text x="59.3" y="157.5" text-anchor="end">1</text>
<text x="187.0" y="233.5" text-anchor="middle">10</text>
<text x="59.3" y="124.9" text-anchor="end">10</text>
<text x="227.5" y="233.5" text-anchor="middle">100</text>
<text x="59.3" y="92.4" text-anchor="end">100</text>
<text x="267.9" y="233.5" text-anchor="middle">1000</text>
<text x="59.3" y="59.8" text-anchor="end">1000</text>
<text x="308.4" y="233.5" text-anchor="middle">10000</text>
<text x="59.3" y="27.2" text-anchor="end">10000</text>
</g>
<text x="186.5" y="249.5" text-anchor="middle" font-family='"Liberation Serif","Times New Roman",serif' font-weight="bold" font-size="10.3" fill="#1c1c1c" stroke="#1c1c1c" stroke-width="0.15"><tspan font-style="italic">T</tspan><tspan font-style="italic" font-size="7.0" dy="2.2">2</tspan><tspan dy="-2.2"> (ms)</tspan></text>
<text x="30.1" y="122.8" text-anchor="middle" transform="rotate(-90 30.1 122.8)" font-family='"Liberation Serif","Times New Roman",serif' font-weight="bold" font-size="10.3" fill="#1c1c1c" stroke="#1c1c1c" stroke-width="0.15"><tspan font-style="italic">T</tspan><tspan font-style="italic" font-size="7.0" dy="2.2">1</tspan><tspan dy="-2.2"> (ms)</tspan></text>
<text x="115.4" y="208.7" font-family='"Liberation Serif","Times New Roman",serif' font-size="17" textLength="187.1" lengthAdjust="spacingAndGlyphs" fill="#1a1a1a">Sodium alginate solution</text>
<text x="9.7" y="44.3" font-family='"Liberation Serif","Times New Roman",serif' font-weight="bold" font-size="33" fill="#0a0a0a">a</text>
<rect x="320.0" y="33.80" width="14.2" height="9.16" fill="#6b0000"/>
<rect x="320.0" y="42.66" width="14.2" height="9.16" fill="#a60000"/>
<rect x="320.0" y="51.52" width="14.2" height="9.16" fill="#d80000"/>
<rect x="320.0" y="60.38" width="14.2" height="9.16" fill="#ea1c00"/>
<rect x="320.0" y="69.24" width="14.2" height="9.16" fill="#ff5300"/>
<rect x="320.0" y="78.10" width="14.2" height="9.16" fill="#ff7600"/>
<rect x="320.0" y="86.96" width="14.2" height="9.16" fill="#ff9400"/>
<rect x="320.0" y="95.82" width="14.2" height="9.16" fill="#ffab00"/>
<rect x="320.0" y="104.68" width="14.2" height="9.16" fill="#ffcb00"/>
<rect x="320.0" y="113.54" width="14.2" height="9.16" fill="#ffe566"/>
<rect x="320.0" y="122.40" width="14.2" height="9.16" fill="#d2efa4"/>
<rect x="320.0" y="131.26" width="14.2" height="9.16" fill="#86e2d8"/>
<rect x="320.0" y="140.12" width="14.2" height="9.16" fill="#00ccff"/>
<rect x="320.0" y="148.98" width="14.2" height="9.16" fill="#08acf4"/>
<rect x="320.0" y="157.84" width="14.2" height="9.16" fill="#0c96ec"/>
<rect x="320.0" y="166.70" width="14.2" height="9.16" fill="#0c84e4"/>
<rect x="320.0" y="175.56" width="14.2" height="9.16" fill="#086cdc"/>
<rect x="320.0" y="184.42" width="14.2" height="9.16" fill="#0652d0"/>
<rect x="320.0" y="193.28" width="14.2" height="9.16" fill="#0230b0"/>
<rect x="320.0" y="202.14" width="14.2" height="9.16" fill="#00008e"/>
<text x="327.1" y="31.6" text-anchor="middle" font-family='"Liberation Serif","Times New Roman",serif' font-weight="bold" font-size="7" fill="#1c1c1c" stroke="#1c1c1c" stroke-width="0.2">700</text>
<text x="327.1" y="218.2" text-anchor="middle" font-family='"Liberation Serif","Times New Roman",serif' font-weight="bold" font-size="7" fill="#1c1c1c" stroke="#1c1c1c" stroke-width="0.2">0</text>
<rect x="400.7" y="24.6" width="242.8" height="195.5" fill="none" stroke="#3a3a3a" stroke-width="1.1"/>
<path d="M400.70 220.10v4.0 M400.70 220.10h-4.0 M441.17 220.10v4.0 M400.70 187.52h-4.0 M481.63 220.10v4.0 M400.70 154.93h-4.0 M522.10 220.10v4.0 M400.70 122.35h-4.0 M562.57 220.10v4.0 M400.70 89.77h-4.0 M603.03 220.10v4.0 M400.70 57.18h-4.0 M643.50 220.10v4.0 M400.70 24.60h-4.0" stroke="#3a3a3a" stroke-width="1" fill="none"/>
<path d="M412.88 220.10v1.8 M400.70 210.29h-1.8 M420.01 220.10v1.8 M400.70 204.55h-1.8 M425.06 220.10v1.8 M400.70 200.48h-1.8 M428.98 220.10v1.8 M400.70 197.33h-1.8 M432.19 220.10v1.8 M400.70 194.75h-1.8 M434.90 220.10v1.8 M400.70 192.56h-1.8 M437.25 220.10v1.8 M400.70 190.67h-1.8 M439.32 220.10v1.8 M400.70 189.01h-1.8 M453.35 220.10v1.8 M400.70 177.71h-1.8 M460.47 220.10v1.8 M400.70 171.97h-1.8 M465.53 220.10v1.8 M400.70 167.90h-1.8 M469.45 220.10v1.8 M400.70 164.74h-1.8 M472.66 220.10v1.8 M400.70 162.16h-1.8 M475.36 220.10v1.8 M400.70 159.98h-1.8 M477.71 220.10v1.8 M400.70 158.09h-1.8 M479.78 220.10v1.8 M400.70 156.42h-1.8 M493.82 220.10v1.8 M400.70 145.12h-1.8 M500.94 220.10v1.8 M400.70 139.39h-1.8 M506.00 220.10v1.8 M400.70 135.32h-1.8 M509.92 220.10v1.8 M400.70 132.16h-1.8 M513.12 220.10v1.8 M400.70 129.58h-1.8 M515.83 220.10v1.8 M400.70 127.40h-1.8 M518.18 220.10v1.8 M400.70 125.51h-1.8 M520.25 220.10v1.8 M400.70 123.84h-1.8 M534.28 220.10v1.8 M400.70 112.54h-1.8 M541.41 220.10v1.8 M400.70 106.80h-1.8 M546.46 220.10v1.8 M400.70 102.73h-1.8 M550.38 220.10v1.8 M400.70 99.58h-1.8 M553.59 220.10v1.8 M400.70 97.00h-1.8 M556.30 220.10v1.8 M400.70 94.81h-1.8 M558.65 220.10v1.8 M400.70 92.92h-1.8 M560.72 220.10v1.8 M400.70 91.26h-1.8 M574.75 220.10v1.8 M400.70 79.96h-1.8 M581.87 220.10v1.8 M400.70 74.22h-1.8 M586.93 220.10v1.8 M400.70 70.15h-1.8 M590.85 220.10v1.8 M400.70 66.99h-1.8 M594.06 220.10v1.8 M400.70 64.41h-1.8 M596.76 220.10v1.8 M400.70 62.23h-1.8 M599.11 220.10v1.8 M400.70 60.34h-1.8 M601.18 220.10v1.8 M400.70 58.67h-1.8 M615.22 220.10v1.8 M400.70 47.37h-1.8 M622.34 220.10v1.8 M400.70 41.64h-1.8 M627.40 220.10v1.8 M400.70 37.57h-1.8 M631.32 220.10v1.8 M400.70 34.41h-1.8 M634.52 220.10v1.8 M400.70 31.83h-1.8 M637.23 220.10v1.8 M400.70 29.65h-1.8 M639.58 220.10v1.8 M400.70 27.76h-1.8 M641.65 220.10v1.8 M400.70 26.09h-1.8" stroke="#3a3a3a" stroke-width="0.8" fill="none"/>
<g font-family='"Liberation Serif","Times New Roman",serif' font-weight="bold" font-size="8.2" fill="#1c1c1c" stroke="#1c1c1c" stroke-width="0.2">
<text x="400.7" y="233.5" text-anchor="middle">0.01</text>
<text x="394.4" y="222.7" text-anchor="end">0.01</text>
<text x="441.2" y="233.5" text-anchor="middle">0.1</text>
<text x="394.4" y="190.1" text-anchor="end">0.1</text>
<text x="481.6" y="233.5" text-anchor="middle">1</text>
<text x="394.4" y="157.5" text-anchor="end">1</text>
<text x="522.1" y="233.5" text-anchor="middle">10</text>
<text x="394.4" y="124.9" text-anchor="end">10</text>
<text x="562.6" y="233.5" text-anchor="middle">100</text>
<text x="394.4" y="92.4" text-anchor="end">100</text>
<text x="603.0" y="233.5" text-anchor="middle">1000</text>
<text x="394.4" y="59.8" text-anchor="end">1000</text>
<text x="643.5" y="233.5" text-anchor="middle">10000</text>
<text x="394.4" y="27.2" text-anchor="end">10000</text>
</g>
<text x="521.6" y="249.5" text-anchor="middle" font-family='"Liberation Serif","Times New Roman",serif' font-weight="bold" font-size="10.3" fill="#1c1c1c" stroke="#1c1c1c" stroke-width="0.15"><tspan font-style="italic">T</tspan><tspan font-style="italic" font-size="7.0" dy="2.2">2</tspan><tspan dy="-2.2"> (ms)</tspan></text>
<text x="365.2" y="122.8" text-anchor="middle" transform="rotate(-90 365.2 122.8)" font-family='"Liberation Serif","Times New Roman",serif' font-weight="bold" font-size="10.3" fill="#1c1c1c" stroke="#1c1c1c" stroke-width="0.15"><tspan font-style="italic">T</tspan><tspan font-style="italic" font-size="7.0" dy="2.2">1</tspan><tspan dy="-2.2"> (ms)</tspan></text>
<text x="433.7" y="208.7" font-family='"Liberation Serif","Times New Roman",serif' font-size="17" textLength="201.3" lengthAdjust="spacingAndGlyphs" fill="#1a1a1a">Medium-chain triglyceride</text>
<text x="346.1" y="44.3" font-family='"Liberation Serif","Times New Roman",serif' font-weight="bold" font-size="33" fill="#0a0a0a">b</text>
<rect x="655.1" y="33.80" width="14.2" height="9.16" fill="#6b0000"/>
<rect x="655.1" y="42.66" width="14.2" height="9.16" fill="#a60000"/>
<rect x="655.1" y="51.52" width="14.2" height="9.16" fill="#d80000"/>
<rect x="655.1" y="60.38" width="14.2" height="9.16" fill="#ea1c00"/>
<rect x="655.1" y="69.24" width="14.2" height="9.16" fill="#ff5300"/>
<rect x="655.1" y="78.10" width="14.2" height="9.16" fill="#ff7600"/>
<rect x="655.1" y="86.96" width="14.2" height="9.16" fill="#ff9400"/>
<rect x="655.1" y="95.82" width="14.2" height="9.16" fill="#ffab00"/>
<rect x="655.1" y="104.68" width="14.2" height="9.16" fill="#ffcb00"/>
<rect x="655.1" y="113.54" width="14.2" height="9.16" fill="#ffe566"/>
<rect x="655.1" y="122.40" width="14.2" height="9.16" fill="#d2efa4"/>
<rect x="655.1" y="131.26" width="14.2" height="9.16" fill="#86e2d8"/>
<rect x="655.1" y="140.12" width="14.2" height="9.16" fill="#00ccff"/>
<rect x="655.1" y="148.98" width="14.2" height="9.16" fill="#08acf4"/>
<rect x="655.1" y="157.84" width="14.2" height="9.16" fill="#0c96ec"/>
<rect x="655.1" y="166.70" width="14.2" height="9.16" fill="#0c84e4"/>
<rect x="655.1" y="175.56" width="14.2" height="9.16" fill="#086cdc"/>
<rect x="655.1" y="184.42" width="14.2" height="9.16" fill="#0652d0"/>
<rect x="655.1" y="193.28" width="14.2" height="9.16" fill="#0230b0"/>
<rect x="655.1" y="202.14" width="14.2" height="9.16" fill="#00008e"/>
<text x="662.2" y="31.6" text-anchor="middle" font-family='"Liberation Serif","Times New Roman",serif' font-weight="bold" font-size="7" fill="#1c1c1c" stroke="#1c1c1c" stroke-width="0.2">200</text>
<text x="662.2" y="218.2" text-anchor="middle" font-family='"Liberation Serif","Times New Roman",serif' font-weight="bold" font-size="7" fill="#1c1c1c" stroke="#1c1c1c" stroke-width="0.2">0</text>
<rect x="736.0" y="24.6" width="243.5" height="195.5" fill="none" stroke="#3a3a3a" stroke-width="1.1"/>
<path d="M736.00 220.10v4.0 M736.00 220.10h-4.0 M776.58 220.10v4.0 M736.00 187.52h-4.0 M817.17 220.10v4.0 M736.00 154.93h-4.0 M857.75 220.10v4.0 M736.00 122.35h-4.0 M898.33 220.10v4.0 M736.00 89.77h-4.0 M938.92 220.10v4.0 M736.00 57.18h-4.0 M979.50 220.10v4.0 M736.00 24.60h-4.0" stroke="#3a3a3a" stroke-width="1" fill="none"/>
<path d="M748.22 220.10v1.8 M736.00 210.29h-1.8 M755.36 220.10v1.8 M736.00 204.55h-1.8 M760.43 220.10v1.8 M736.00 200.48h-1.8 M764.37 220.10v1.8 M736.00 197.33h-1.8 M767.58 220.10v1.8 M736.00 194.75h-1.8 M770.30 220.10v1.8 M736.00 192.56h-1.8 M772.65 220.10v1.8 M736.00 190.67h-1.8 M774.73 220.10v1.8 M736.00 189.01h-1.8 M788.80 220.10v1.8 M736.00 177.71h-1.8 M795.95 220.10v1.8 M736.00 171.97h-1.8 M801.02 220.10v1.8 M736.00 167.90h-1.8 M804.95 220.10v1.8 M736.00 164.74h-1.8 M808.16 220.10v1.8 M736.00 162.16h-1.8 M810.88 220.10v1.8 M736.00 159.98h-1.8 M813.23 220.10v1.8 M736.00 158.09h-1.8 M815.31 220.10v1.8 M736.00 156.42h-1.8 M829.38 220.10v1.8 M736.00 145.12h-1.8 M836.53 220.10v1.8 M736.00 139.39h-1.8 M841.60 220.10v1.8 M736.00 135.32h-1.8 M845.53 220.10v1.8 M736.00 132.16h-1.8 M848.75 220.10v1.8 M736.00 129.58h-1.8 M851.46 220.10v1.8 M736.00 127.40h-1.8 M853.82 220.10v1.8 M736.00 125.51h-1.8 M855.89 220.10v1.8 M736.00 123.84h-1.8 M869.97 220.10v1.8 M736.00 112.54h-1.8 M877.11 220.10v1.8 M736.00 106.80h-1.8 M882.18 220.10v1.8 M736.00 102.73h-1.8 M886.12 220.10v1.8 M736.00 99.58h-1.8 M889.33 220.10v1.8 M736.00 97.00h-1.8 M892.05 220.10v1.8 M736.00 94.81h-1.8 M894.40 220.10v1.8 M736.00 92.92h-1.8 M896.48 220.10v1.8 M736.00 91.26h-1.8 M910.55 220.10v1.8 M736.00 79.96h-1.8 M917.70 220.10v1.8 M736.00 74.22h-1.8 M922.77 220.10v1.8 M736.00 70.15h-1.8 M926.70 220.10v1.8 M736.00 66.99h-1.8 M929.91 220.10v1.8 M736.00 64.41h-1.8 M932.63 220.10v1.8 M736.00 62.23h-1.8 M934.98 220.10v1.8 M736.00 60.34h-1.8 M937.06 220.10v1.8 M736.00 58.67h-1.8 M951.13 220.10v1.8 M736.00 47.37h-1.8 M958.28 220.10v1.8 M736.00 41.64h-1.8 M963.35 220.10v1.8 M736.00 37.57h-1.8 M967.28 220.10v1.8 M736.00 34.41h-1.8 M970.50 220.10v1.8 M736.00 31.83h-1.8 M973.21 220.10v1.8 M736.00 29.65h-1.8 M975.57 220.10v1.8 M736.00 27.76h-1.8 M977.64 220.10v1.8 M736.00 26.09h-1.8" stroke="#3a3a3a" stroke-width="0.8" fill="none"/>
<g font-family='"Liberation Serif","Times New Roman",serif' font-weight="bold" font-size="8.2" fill="#1c1c1c" stroke="#1c1c1c" stroke-width="0.2">
<text x="736.0" y="233.5" text-anchor="middle">0.01</text>
<text x="729.7" y="222.7" text-anchor="end">0.01</text>
<text x="776.6" y="233.5" text-anchor="middle">0.1</text>
<text x="729.7" y="190.1" text-anchor="end">0.1</text>
<text x="817.2" y="233.5" text-anchor="middle">1</text>
<text x="729.7" y="157.5" text-anchor="end">1</text>
<text x="857.8" y="233.5" text-anchor="middle">10</text>
<text x="729.7" y="124.9" text-anchor="end">10</text>
<text x="898.3" y="233.5" text-anchor="middle">100</text>
<text x="729.7" y="92.4" text-anchor="end">100</text>
<text x="938.9" y="233.5" text-anchor="middle">1000</text>
<text x="729.7" y="59.8" text-anchor="end">1000</text>
<text x="979.5" y="233.5" text-anchor="middle">10000</text>
<text x="729.7" y="27.2" text-anchor="end">10000</text>
</g>
<text x="857.2" y="249.5" text-anchor="middle" font-family='"Liberation Serif","Times New Roman",serif' font-weight="bold" font-size="10.3" fill="#1c1c1c" stroke="#1c1c1c" stroke-width="0.15"><tspan font-style="italic">T</tspan><tspan font-style="italic" font-size="7.0" dy="2.2">2</tspan><tspan dy="-2.2"> (ms)</tspan></text>
<text x="700.5" y="122.8" text-anchor="middle" transform="rotate(-90 700.5 122.8)" font-family='"Liberation Serif","Times New Roman",serif' font-weight="bold" font-size="10.3" fill="#1c1c1c" stroke="#1c1c1c" stroke-width="0.15"><tspan font-style="italic">T</tspan><tspan font-style="italic" font-size="7.0" dy="2.2">1</tspan><tspan dy="-2.2"> (ms)</tspan></text>
<text x="827.0" y="208.7" font-family='"Liberation Serif","Times New Roman",serif' font-size="17" textLength="99.0" lengthAdjust="spacingAndGlyphs" fill="#1a1a1a">Zein solution</text>
<text x="680.9" y="44.3" font-family='"Liberation Serif","Times New Roman",serif' font-weight="bold" font-size="33" fill="#0a0a0a">c</text>
<rect x="991.1" y="33.80" width="14.2" height="9.16" fill="#6b0000"/>
<rect x="991.1" y="42.66" width="14.2" height="9.16" fill="#a60000"/>
<rect x="991.1" y="51.52" width="14.2" height="9.16" fill="#d80000"/>
<rect x="991.1" y="60.38" width="14.2" height="9.16" fill="#ea1c00"/>
<rect x="991.1" y="69.24" width="14.2" height="9.16" fill="#ff5300"/>
<rect x="991.1" y="78.10" width="14.2" height="9.16" fill="#ff7600"/>
<rect x="991.1" y="86.96" width="14.2" height="9.16" fill="#ff9400"/>
<rect x="991.1" y="95.82" width="14.2" height="9.16" fill="#ffab00"/>
<rect x="991.1" y="104.68" width="14.2" height="9.16" fill="#ffcb00"/>
<rect x="991.1" y="113.54" width="14.2" height="9.16" fill="#ffe566"/>
<rect x="991.1" y="122.40" width="14.2" height="9.16" fill="#d2efa4"/>
<rect x="991.1" y="131.26" width="14.2" height="9.16" fill="#86e2d8"/>
<rect x="991.1" y="140.12" width="14.2" height="9.16" fill="#00ccff"/>
<rect x="991.1" y="148.98" width="14.2" height="9.16" fill="#08acf4"/>
<rect x="991.1" y="157.84" width="14.2" height="9.16" fill="#0c96ec"/>
<rect x="991.1" y="166.70" width="14.2" height="9.16" fill="#0c84e4"/>
<rect x="991.1" y="175.56" width="14.2" height="9.16" fill="#086cdc"/>
<rect x="991.1" y="184.42" width="14.2" height="9.16" fill="#0652d0"/>
<rect x="991.1" y="193.28" width="14.2" height="9.16" fill="#0230b0"/>
<rect x="991.1" y="202.14" width="14.2" height="9.16" fill="#00008e"/>
<text x="998.2" y="31.6" text-anchor="middle" font-family='"Liberation Serif","Times New Roman",serif' font-weight="bold" font-size="7" fill="#1c1c1c" stroke="#1c1c1c" stroke-width="0.2">500</text>
<text x="998.2" y="218.2" text-anchor="middle" font-family='"Liberation Serif","Times New Roman",serif' font-weight="bold" font-size="7" fill="#1c1c1c" stroke="#1c1c1c" stroke-width="0.2">0</text>
<rect x="65.6" y="260.3" width="242.8" height="195.6" fill="none" stroke="#3a3a3a" stroke-width="1.1"/>
<path d="M65.60 455.90v4.0 M65.60 455.90h-4.0 M106.07 455.90v4.0 M65.60 423.30h-4.0 M146.53 455.90v4.0 M65.60 390.70h-4.0 M187.00 455.90v4.0 M65.60 358.10h-4.0 M227.47 455.90v4.0 M65.60 325.50h-4.0 M267.93 455.90v4.0 M65.60 292.90h-4.0 M308.40 455.90v4.0 M65.60 260.30h-4.0" stroke="#3a3a3a" stroke-width="1" fill="none"/>
<path d="M77.78 455.90v1.8 M65.60 446.09h-1.8 M84.91 455.90v1.8 M65.60 440.35h-1.8 M89.96 455.90v1.8 M65.60 436.27h-1.8 M93.88 455.90v1.8 M65.60 433.11h-1.8 M97.09 455.90v1.8 M65.60 430.53h-1.8 M99.80 455.90v1.8 M65.60 428.35h-1.8 M102.15 455.90v1.8 M65.60 426.46h-1.8 M104.22 455.90v1.8 M65.60 424.79h-1.8 M118.25 455.90v1.8 M65.60 413.49h-1.8 M125.37 455.90v1.8 M65.60 407.75h-1.8 M130.43 455.90v1.8 M65.60 403.67h-1.8 M134.35 455.90v1.8 M65.60 400.51h-1.8 M137.56 455.90v1.8 M65.60 397.93h-1.8 M140.26 455.90v1.8 M65.60 395.75h-1.8 M142.61 455.90v1.8 M65.60 393.86h-1.8 M144.68 455.90v1.8 M65.60 392.19h-1.8 M158.72 455.90v1.8 M65.60 380.89h-1.8 M165.84 455.90v1.8 M65.60 375.15h-1.8 M170.90 455.90v1.8 M65.60 371.07h-1.8 M174.82 455.90v1.8 M65.60 367.91h-1.8 M178.02 455.90v1.8 M65.60 365.33h-1.8 M180.73 455.90v1.8 M65.60 363.15h-1.8 M183.08 455.90v1.8 M65.60 361.26h-1.8 M185.15 455.90v1.8 M65.60 359.59h-1.8 M199.18 455.90v1.8 M65.60 348.29h-1.8 M206.31 455.90v1.8 M65.60 342.55h-1.8 M211.36 455.90v1.8 M65.60 338.47h-1.8 M215.28 455.90v1.8 M65.60 335.31h-1.8 M218.49 455.90v1.8 M65.60 332.73h-1.8 M221.20 455.90v1.8 M65.60 330.55h-1.8 M223.55 455.90v1.8 M65.60 328.66h-1.8 M225.62 455.90v1.8 M65.60 326.99h-1.8 M239.65 455.90v1.8 M65.60 315.69h-1.8 M246.77 455.90v1.8 M65.60 309.95h-1.8 M251.83 455.90v1.8 M65.60 305.87h-1.8 M255.75 455.90v1.8 M65.60 302.71h-1.8 M258.96 455.90v1.8 M65.60 300.13h-1.8 M261.66 455.90v1.8 M65.60 297.95h-1.8 M264.01 455.90v1.8 M65.60 296.06h-1.8 M266.08 455.90v1.8 M65.60 294.39h-1.8 M280.12 455.90v1.8 M65.60 283.09h-1.8 M287.24 455.90v1.8 M65.60 277.35h-1.8 M292.30 455.90v1.8 M65.60 273.27h-1.8 M296.22 455.90v1.8 M65.60 270.11h-1.8 M299.42 455.90v1.8 M65.60 267.53h-1.8 M302.13 455.90v1.8 M65.60 265.35h-1.8 M304.48 455.90v1.8 M65.60 263.46h-1.8 M306.55 455.90v1.8 M65.60 261.79h-1.8" stroke="#3a3a3a" stroke-width="0.8" fill="none"/>
<g font-family='"Liberation Serif","Times New Roman",serif' font-weight="bold" font-size="8.2" fill="#1c1c1c" stroke="#1c1c1c" stroke-width="0.2">
<text x="65.6" y="469.3" text-anchor="middle">0.01</text>
<text x="59.3" y="458.5" text-anchor="end">0.01</text>
<text x="106.1" y="469.3" text-anchor="middle">0.1</text>
<text x="59.3" y="425.9" text-anchor="end">0.1</text>
<text x="146.5" y="469.3" text-anchor="middle">1</text>
<text x="59.3" y="393.3" text-anchor="end">1</text>
<text x="187.0" y="469.3" text-anchor="middle">10</text>
<text x="59.3" y="360.7" text-anchor="end">10</text>
<text x="227.5" y="469.3" text-anchor="middle">100</text>
<text x="59.3" y="328.1" text-anchor="end">100</text>
<text x="267.9" y="469.3" text-anchor="middle">1000</text>
<text x="59.3" y="295.5" text-anchor="end">1000</text>
<text x="308.4" y="469.3" text-anchor="middle">10000</text>
<text x="59.3" y="262.9" text-anchor="end">10000</text>
</g>
<text x="186.5" y="485.3" text-anchor="middle" font-family='"Liberation Serif","Times New Roman",serif' font-weight="bold" font-size="10.3" fill="#1c1c1c" stroke="#1c1c1c" stroke-width="0.15"><tspan font-style="italic">T</tspan><tspan font-style="italic" font-size="7.0" dy="2.2">2</tspan><tspan dy="-2.2"> (ms)</tspan></text>
<text x="30.1" y="358.6" text-anchor="middle" transform="rotate(-90 30.1 358.6)" font-family='"Liberation Serif","Times New Roman",serif' font-weight="bold" font-size="10.3" fill="#1c1c1c" stroke="#1c1c1c" stroke-width="0.15"><tspan font-style="italic">T</tspan><tspan font-style="italic" font-size="7.0" dy="2.2">1</tspan><tspan dy="-2.2"> (ms)</tspan></text>
<text x="107.0" y="444.2" font-family='"Liberation Serif","Times New Roman",serif' font-size="17" textLength="186.0" lengthAdjust="spacingAndGlyphs" fill="#1a1a1a">Sodium alginate droplets</text>
<text x="8.9" y="280.0" font-family='"Liberation Serif","Times New Roman",serif' font-weight="bold" font-size="33" fill="#0a0a0a">d</text>
<rect x="320.0" y="269.50" width="14.2" height="9.16" fill="#6b0000"/>
<rect x="320.0" y="278.37" width="14.2" height="9.16" fill="#a60000"/>
<rect x="320.0" y="287.23" width="14.2" height="9.16" fill="#d80000"/>
<rect x="320.0" y="296.09" width="14.2" height="9.16" fill="#ea1c00"/>
<rect x="320.0" y="304.96" width="14.2" height="9.16" fill="#ff5300"/>
<rect x="320.0" y="313.82" width="14.2" height="9.16" fill="#ff7600"/>
<rect x="320.0" y="322.69" width="14.2" height="9.16" fill="#ff9400"/>
<rect x="320.0" y="331.56" width="14.2" height="9.16" fill="#ffab00"/>
<rect x="320.0" y="340.42" width="14.2" height="9.16" fill="#ffcb00"/>
<rect x="320.0" y="349.28" width="14.2" height="9.16" fill="#ffe566"/>
<rect x="320.0" y="358.15" width="14.2" height="9.16" fill="#d2efa4"/>
<rect x="320.0" y="367.01" width="14.2" height="9.16" fill="#86e2d8"/>
<rect x="320.0" y="375.88" width="14.2" height="9.16" fill="#00ccff"/>
<rect x="320.0" y="384.75" width="14.2" height="9.16" fill="#08acf4"/>
<rect x="320.0" y="393.61" width="14.2" height="9.16" fill="#0c96ec"/>
<rect x="320.0" y="402.47" width="14.2" height="9.16" fill="#0c84e4"/>
<rect x="320.0" y="411.34" width="14.2" height="9.16" fill="#086cdc"/>
<rect x="320.0" y="420.20" width="14.2" height="9.16" fill="#0652d0"/>
<rect x="320.0" y="429.07" width="14.2" height="9.16" fill="#0230b0"/>
<rect x="320.0" y="437.93" width="14.2" height="9.16" fill="#00008e"/>
<text x="327.1" y="267.3" text-anchor="middle" font-family='"Liberation Serif","Times New Roman",serif' font-weight="bold" font-size="7" fill="#1c1c1c" stroke="#1c1c1c" stroke-width="0.2">200</text>
<text x="327.1" y="454.0" text-anchor="middle" font-family='"Liberation Serif","Times New Roman",serif' font-weight="bold" font-size="7" fill="#1c1c1c" stroke="#1c1c1c" stroke-width="0.2">0</text>
<rect x="400.7" y="260.3" width="242.8" height="195.6" fill="none" stroke="#3a3a3a" stroke-width="1.1"/>
<path d="M400.70 455.90v4.0 M400.70 455.90h-4.0 M441.17 455.90v4.0 M400.70 423.30h-4.0 M481.63 455.90v4.0 M400.70 390.70h-4.0 M522.10 455.90v4.0 M400.70 358.10h-4.0 M562.57 455.90v4.0 M400.70 325.50h-4.0 M603.03 455.90v4.0 M400.70 292.90h-4.0 M643.50 455.90v4.0 M400.70 260.30h-4.0" stroke="#3a3a3a" stroke-width="1" fill="none"/>
<path d="M412.88 455.90v1.8 M400.70 446.09h-1.8 M420.01 455.90v1.8 M400.70 440.35h-1.8 M425.06 455.90v1.8 M400.70 436.27h-1.8 M428.98 455.90v1.8 M400.70 433.11h-1.8 M432.19 455.90v1.8 M400.70 430.53h-1.8 M434.90 455.90v1.8 M400.70 428.35h-1.8 M437.25 455.90v1.8 M400.70 426.46h-1.8 M439.32 455.90v1.8 M400.70 424.79h-1.8 M453.35 455.90v1.8 M400.70 413.49h-1.8 M460.47 455.90v1.8 M400.70 407.75h-1.8 M465.53 455.90v1.8 M400.70 403.67h-1.8 M469.45 455.90v1.8 M400.70 400.51h-1.8 M472.66 455.90v1.8 M400.70 397.93h-1.8 M475.36 455.90v1.8 M400.70 395.75h-1.8 M477.71 455.90v1.8 M400.70 393.86h-1.8 M479.78 455.90v1.8 M400.70 392.19h-1.8 M493.82 455.90v1.8 M400.70 380.89h-1.8 M500.94 455.90v1.8 M400.70 375.15h-1.8 M506.00 455.90v1.8 M400.70 371.07h-1.8 M509.92 455.90v1.8 M400.70 367.91h-1.8 M513.12 455.90v1.8 M400.70 365.33h-1.8 M515.83 455.90v1.8 M400.70 363.15h-1.8 M518.18 455.90v1.8 M400.70 361.26h-1.8 M520.25 455.90v1.8 M400.70 359.59h-1.8 M534.28 455.90v1.8 M400.70 348.29h-1.8 M541.41 455.90v1.8 M400.70 342.55h-1.8 M546.46 455.90v1.8 M400.70 338.47h-1.8 M550.38 455.90v1.8 M400.70 335.31h-1.8 M553.59 455.90v1.8 M400.70 332.73h-1.8 M556.30 455.90v1.8 M400.70 330.55h-1.8 M558.65 455.90v1.8 M400.70 328.66h-1.8 M560.72 455.90v1.8 M400.70 326.99h-1.8 M574.75 455.90v1.8 M400.70 315.69h-1.8 M581.87 455.90v1.8 M400.70 309.95h-1.8 M586.93 455.90v1.8 M400.70 305.87h-1.8 M590.85 455.90v1.8 M400.70 302.71h-1.8 M594.06 455.90v1.8 M400.70 300.13h-1.8 M596.76 455.90v1.8 M400.70 297.95h-1.8 M599.11 455.90v1.8 M400.70 296.06h-1.8 M601.18 455.90v1.8 M400.70 294.39h-1.8 M615.22 455.90v1.8 M400.70 283.09h-1.8 M622.34 455.90v1.8 M400.70 277.35h-1.8 M627.40 455.90v1.8 M400.70 273.27h-1.8 M631.32 455.90v1.8 M400.70 270.11h-1.8 M634.52 455.90v1.8 M400.70 267.53h-1.8 M637.23 455.90v1.8 M400.70 265.35h-1.8 M639.58 455.90v1.8 M400.70 263.46h-1.8 M641.65 455.90v1.8 M400.70 261.79h-1.8" stroke="#3a3a3a" stroke-width="0.8" fill="none"/>
<g font-family='"Liberation Serif","Times New Roman",serif' font-weight="bold" font-size="8.2" fill="#1c1c1c" stroke="#1c1c1c" stroke-width="0.2">
<text x="400.7" y="469.3" text-anchor="middle">0.01</text>
<text x="394.4" y="458.5" text-anchor="end">0.01</text>
<text x="441.2" y="469.3" text-anchor="middle">0.1</text>
<text x="394.4" y="425.9" text-anchor="end">0.1</text>
<text x="481.6" y="469.3" text-anchor="middle">1</text>
<text x="394.4" y="393.3" text-anchor="end">1</text>
<text x="522.1" y="469.3" text-anchor="middle">10</text>
<text x="394.4" y="360.7" text-anchor="end">10</text>
<text x="562.6" y="469.3" text-anchor="middle">100</text>
<text x="394.4" y="328.1" text-anchor="end">100</text>
<text x="603.0" y="469.3" text-anchor="middle">1000</text>
<text x="394.4" y="295.5" text-anchor="end">1000</text>
<text x="643.5" y="469.3" text-anchor="middle">10000</text>
<text x="394.4" y="262.9" text-anchor="end">10000</text>
</g>
<text x="521.6" y="485.3" text-anchor="middle" font-family='"Liberation Serif","Times New Roman",serif' font-weight="bold" font-size="10.3" fill="#1c1c1c" stroke="#1c1c1c" stroke-width="0.15"><tspan font-style="italic">T</tspan><tspan font-style="italic" font-size="7.0" dy="2.2">2</tspan><tspan dy="-2.2"> (ms)</tspan></text>
<text x="365.2" y="358.6" text-anchor="middle" transform="rotate(-90 365.2 358.6)" font-family='"Liberation Serif","Times New Roman",serif' font-weight="bold" font-size="10.3" fill="#1c1c1c" stroke="#1c1c1c" stroke-width="0.15"><tspan font-style="italic">T</tspan><tspan font-style="italic" font-size="7.0" dy="2.2">1</tspan><tspan dy="-2.2"> (ms)</tspan></text>
<text x="459.8" y="446.0" font-family='"Liberation Serif","Times New Roman",serif' font-size="17" textLength="98.3" lengthAdjust="spacingAndGlyphs" fill="#1a1a1a">Zein droplets</text>
<text x="345.0" y="280.0" font-family='"Liberation Serif","Times New Roman",serif' font-weight="bold" font-size="33" fill="#0a0a0a">e</text>
<rect x="655.1" y="269.50" width="14.2" height="9.16" fill="#6b0000"/>
<rect x="655.1" y="278.37" width="14.2" height="9.16" fill="#a60000"/>
<rect x="655.1" y="287.23" width="14.2" height="9.16" fill="#d80000"/>
<rect x="655.1" y="296.09" width="14.2" height="9.16" fill="#ea1c00"/>
<rect x="655.1" y="304.96" width="14.2" height="9.16" fill="#ff5300"/>
<rect x="655.1" y="313.82" width="14.2" height="9.16" fill="#ff7600"/>
<rect x="655.1" y="322.69" width="14.2" height="9.16" fill="#ff9400"/>
<rect x="655.1" y="331.56" width="14.2" height="9.16" fill="#ffab00"/>
<rect x="655.1" y="340.42" width="14.2" height="9.16" fill="#ffcb00"/>
<rect x="655.1" y="349.28" width="14.2" height="9.16" fill="#ffe566"/>
<rect x="655.1" y="358.15" width="14.2" height="9.16" fill="#d2efa4"/>
<rect x="655.1" y="367.01" width="14.2" height="9.16" fill="#86e2d8"/>
<rect x="655.1" y="375.88" width="14.2" height="9.16" fill="#00ccff"/>
<rect x="655.1" y="384.75" width="14.2" height="9.16" fill="#08acf4"/>
<rect x="655.1" y="393.61" width="14.2" height="9.16" fill="#0c96ec"/>
<rect x="655.1" y="402.47" width="14.2" height="9.16" fill="#0c84e4"/>
<rect x="655.1" y="411.34" width="14.2" height="9.16" fill="#086cdc"/>
<rect x="655.1" y="420.20" width="14.2" height="9.16" fill="#0652d0"/>
<rect x="655.1" y="429.07" width="14.2" height="9.16" fill="#0230b0"/>
<rect x="655.1" y="437.93" width="14.2" height="9.16" fill="#00008e"/>
<text x="662.2" y="267.3" text-anchor="middle" font-family='"Liberation Serif","Times New Roman",serif' font-weight="bold" font-size="7" fill="#1c1c1c" stroke="#1c1c1c" stroke-width="0.2">100</text>
<text x="662.2" y="454.0" text-anchor="middle" font-family='"Liberation Serif","Times New Roman",serif' font-weight="bold" font-size="7" fill="#1c1c1c" stroke="#1c1c1c" stroke-width="0.2">0</text>
<rect x="736.0" y="260.3" width="243.5" height="195.6" fill="none" stroke="#3a3a3a" stroke-width="1.1"/>
<path d="M736.00 455.90v4.0 M736.00 455.90h-4.0 M776.58 455.90v4.0 M736.00 423.30h-4.0 M817.17 455.90v4.0 M736.00 390.70h-4.0 M857.75 455.90v4.0 M736.00 358.10h-4.0 M898.33 455.90v4.0 M736.00 325.50h-4.0 M938.92 455.90v4.0 M736.00 292.90h-4.0 M979.50 455.90v4.0 M736.00 260.30h-4.0" stroke="#3a3a3a" stroke-width="1" fill="none"/>
<path d="M748.22 455.90v1.8 M736.00 446.09h-1.8 M755.36 455.90v1.8 M736.00 440.35h-1.8 M760.43 455.90v1.8 M736.00 436.27h-1.8 M764.37 455.90v1.8 M736.00 433.11h-1.8 M767.58 455.90v1.8 M736.00 430.53h-1.8 M770.30 455.90v1.8 M736.00 428.35h-1.8 M772.65 455.90v1.8 M736.00 426.46h-1.8 M774.73 455.90v1.8 M736.00 424.79h-1.8 M788.80 455.90v1.8 M736.00 413.49h-1.8 M795.95 455.90v1.8 M736.00 407.75h-1.8 M801.02 455.90v1.8 M736.00 403.67h-1.8 M804.95 455.90v1.8 M736.00 400.51h-1.8 M808.16 455.90v1.8 M736.00 397.93h-1.8 M810.88 455.90v1.8 M736.00 395.75h-1.8 M813.23 455.90v1.8 M736.00 393.86h-1.8 M815.31 455.90v1.8 M736.00 392.19h-1.8 M829.38 455.90v1.8 M736.00 380.89h-1.8 M836.53 455.90v1.8 M736.00 375.15h-1.8 M841.60 455.90v1.8 M736.00 371.07h-1.8 M845.53 455.90v1.8 M736.00 367.91h-1.8 M848.75 455.90v1.8 M736.00 365.33h-1.8 M851.46 455.90v1.8 M736.00 363.15h-1.8 M853.82 455.90v1.8 M736.00 361.26h-1.8 M855.89 455.90v1.8 M736.00 359.59h-1.8 M869.97 455.90v1.8 M736.00 348.29h-1.8 M877.11 455.90v1.8 M736.00 342.55h-1.8 M882.18 455.90v1.8 M736.00 338.47h-1.8 M886.12 455.90v1.8 M736.00 335.31h-1.8 M889.33 455.90v1.8 M736.00 332.73h-1.8 M892.05 455.90v1.8 M736.00 330.55h-1.8 M894.40 455.90v1.8 M736.00 328.66h-1.8 M896.48 455.90v1.8 M736.00 326.99h-1.8 M910.55 455.90v1.8 M736.00 315.69h-1.8 M917.70 455.90v1.8 M736.00 309.95h-1.8 M922.77 455.90v1.8 M736.00 305.87h-1.8 M926.70 455.90v1.8 M736.00 302.71h-1.8 M929.91 455.90v1.8 M736.00 300.13h-1.8 M932.63 455.90v1.8 M736.00 297.95h-1.8 M934.98 455.90v1.8 M736.00 296.06h-1.8 M937.06 455.90v1.8 M736.00 294.39h-1.8 M951.13 455.90v1.8 M736.00 283.09h-1.8 M958.28 455.90v1.8 M736.00 277.35h-1.8 M963.35 455.90v1.8 M736.00 273.27h-1.8 M967.28 455.90v1.8 M736.00 270.11h-1.8 M970.50 455.90v1.8 M736.00 267.53h-1.8 M973.21 455.90v1.8 M736.00 265.35h-1.8 M975.57 455.90v1.8 M736.00 263.46h-1.8 M977.64 455.90v1.8 M736.00 261.79h-1.8" stroke="#3a3a3a" stroke-width="0.8" fill="none"/>
<g font-family='"Liberation Serif","Times New Roman",serif' font-weight="bold" font-size="8.2" fill="#1c1c1c" stroke="#1c1c1c" stroke-width="0.2">
<text x="736.0" y="469.3" text-anchor="middle">0.01</text>
<text x="729.7" y="458.5" text-anchor="end">0.01</text>
<text x="776.6" y="469.3" text-anchor="middle">0.1</text>
<text x="729.7" y="425.9" text-anchor="end">0.1</text>
<text x="817.2" y="469.3" text-anchor="middle">1</text>
<text x="729.7" y="393.3" text-anchor="end">1</text>
<text x="857.8" y="469.3" text-anchor="middle">10</text>
<text x="729.7" y="360.7" text-anchor="end">10</text>
<text x="898.3" y="469.3" text-anchor="middle">100</text>
<text x="729.7" y="328.1" text-anchor="end">100</text>
<text x="938.9" y="469.3" text-anchor="middle">1000</text>
<text x="729.7" y="295.5" text-anchor="end">1000</text>
<text x="979.5" y="469.3" text-anchor="middle">10000</text>
<text x="729.7" y="262.9" text-anchor="end">10000</text>
</g>
<text x="857.2" y="485.3" text-anchor="middle" font-family='"Liberation Serif","Times New Roman",serif' font-weight="bold" font-size="10.3" fill="#1c1c1c" stroke="#1c1c1c" stroke-width="0.15"><tspan font-style="italic">T</tspan><tspan font-style="italic" font-size="7.0" dy="2.2">2</tspan><tspan dy="-2.2"> (ms)</tspan></text>
<text x="700.5" y="358.6" text-anchor="middle" transform="rotate(-90 700.5 358.6)" font-family='"Liberation Serif","Times New Roman",serif' font-weight="bold" font-size="10.3" fill="#1c1c1c" stroke="#1c1c1c" stroke-width="0.15"><tspan font-style="italic">T</tspan><tspan font-style="italic" font-size="7.0" dy="2.2">1</tspan><tspan dy="-2.2"> (ms)</tspan></text>
<text x="820.1" y="444.2" font-family='"Liberation Serif","Times New Roman",serif' font-size="17" textLength="113.5" lengthAdjust="spacingAndGlyphs" fill="#1a1a1a">Mixed droplets</text>
<text x="681.5" y="280.0" font-family='"Liberation Serif","Times New Roman",serif' font-weight="bold" font-size="33" fill="#0a0a0a">f</text>
<rect x="991.1" y="269.50" width="14.2" height="9.16" fill="#6b0000"/>
<rect x="991.1" y="278.37" width="14.2" height="9.16" fill="#a60000"/>
<rect x="991.1" y="287.23" width="14.2" height="9.16" fill="#d80000"/>
<rect x="991.1" y="296.09" width="14.2" height="9.16" fill="#ea1c00"/>
<rect x="991.1" y="304.96" width="14.2" height="9.16" fill="#ff5300"/>
<rect x="991.1" y="313.82" width="14.2" height="9.16" fill="#ff7600"/>
<rect x="991.1" y="322.69" width="14.2" height="9.16" fill="#ff9400"/>
<rect x="991.1" y="331.56" width="14.2" height="9.16" fill="#ffab00"/>
<rect x="991.1" y="340.42" width="14.2" height="9.16" fill="#ffcb00"/>
<rect x="991.1" y="349.28" width="14.2" height="9.16" fill="#ffe566"/>
<rect x="991.1" y="358.15" width="14.2" height="9.16" fill="#d2efa4"/>
<rect x="991.1" y="367.01" width="14.2" height="9.16" fill="#86e2d8"/>
<rect x="991.1" y="375.88" width="14.2" height="9.16" fill="#00ccff"/>
<rect x="991.1" y="384.75" width="14.2" height="9.16" fill="#08acf4"/>
<rect x="991.1" y="393.61" width="14.2" height="9.16" fill="#0c96ec"/>
<rect x="991.1" y="402.47" width="14.2" height="9.16" fill="#0c84e4"/>
<rect x="991.1" y="411.34" width="14.2" height="9.16" fill="#086cdc"/>
<rect x="991.1" y="420.20" width="14.2" height="9.16" fill="#0652d0"/>
<rect x="991.1" y="429.07" width="14.2" height="9.16" fill="#0230b0"/>
<rect x="991.1" y="437.93" width="14.2" height="9.16" fill="#00008e"/>
<text x="998.2" y="267.3" text-anchor="middle" font-family='"Liberation Serif","Times New Roman",serif' font-weight="bold" font-size="7" fill="#1c1c1c" stroke="#1c1c1c" stroke-width="0.2">160</text>
<text x="998.2" y="454.0" text-anchor="middle" font-family='"Liberation Serif","Times New Roman",serif' font-weight="bold" font-size="7" fill="#1c1c1c" stroke="#1c1c1c" stroke-width="0.2">0</text>
<rect x="65.6" y="503.4" width="242.8" height="196.1" fill="none" stroke="#3a3a3a" stroke-width="1.1"/>
<path d="M65.60 699.50v4.0 M65.60 699.50h-4.0 M106.07 699.50v4.0 M65.60 666.82h-4.0 M146.53 699.50v4.0 M65.60 634.13h-4.0 M187.00 699.50v4.0 M65.60 601.45h-4.0 M227.47 699.50v4.0 M65.60 568.77h-4.0 M267.93 699.50v4.0 M65.60 536.08h-4.0 M308.40 699.50v4.0 M65.60 503.40h-4.0" stroke="#3a3a3a" stroke-width="1" fill="none"/>
<path d="M77.78 699.50v1.8 M65.60 689.66h-1.8 M84.91 699.50v1.8 M65.60 683.91h-1.8 M89.96 699.50v1.8 M65.60 679.82h-1.8 M93.88 699.50v1.8 M65.60 676.66h-1.8 M97.09 699.50v1.8 M65.60 674.07h-1.8 M99.80 699.50v1.8 M65.60 671.88h-1.8 M102.15 699.50v1.8 M65.60 669.98h-1.8 M104.22 699.50v1.8 M65.60 668.31h-1.8 M118.25 699.50v1.8 M65.60 656.98h-1.8 M125.37 699.50v1.8 M65.60 651.22h-1.8 M130.43 699.50v1.8 M65.60 647.14h-1.8 M134.35 699.50v1.8 M65.60 643.97h-1.8 M137.56 699.50v1.8 M65.60 641.38h-1.8 M140.26 699.50v1.8 M65.60 639.20h-1.8 M142.61 699.50v1.8 M65.60 637.30h-1.8 M144.68 699.50v1.8 M65.60 635.63h-1.8 M158.72 699.50v1.8 M65.60 624.29h-1.8 M165.84 699.50v1.8 M65.60 618.54h-1.8 M170.90 699.50v1.8 M65.60 614.46h-1.8 M174.82 699.50v1.8 M65.60 611.29h-1.8 M178.02 699.50v1.8 M65.60 608.70h-1.8 M180.73 699.50v1.8 M65.60 606.51h-1.8 M183.08 699.50v1.8 M65.60 604.62h-1.8 M185.15 699.50v1.8 M65.60 602.95h-1.8 M199.18 699.50v1.8 M65.60 591.61h-1.8 M206.31 699.50v1.8 M65.60 585.86h-1.8 M211.36 699.50v1.8 M65.60 581.77h-1.8 M215.28 699.50v1.8 M65.60 578.61h-1.8 M218.49 699.50v1.8 M65.60 576.02h-1.8 M221.20 699.50v1.8 M65.60 573.83h-1.8 M223.55 699.50v1.8 M65.60 571.93h-1.8 M225.62 699.50v1.8 M65.60 570.26h-1.8 M239.65 699.50v1.8 M65.60 558.93h-1.8 M246.77 699.50v1.8 M65.60 553.17h-1.8 M251.83 699.50v1.8 M65.60 549.09h-1.8 M255.75 699.50v1.8 M65.60 545.92h-1.8 M258.96 699.50v1.8 M65.60 543.33h-1.8 M261.66 699.50v1.8 M65.60 541.15h-1.8 M264.01 699.50v1.8 M65.60 539.25h-1.8 M266.08 699.50v1.8 M65.60 537.58h-1.8 M280.12 699.50v1.8 M65.60 526.24h-1.8 M287.24 699.50v1.8 M65.60 520.49h-1.8 M292.30 699.50v1.8 M65.60 516.41h-1.8 M296.22 699.50v1.8 M65.60 513.24h-1.8 M299.42 699.50v1.8 M65.60 510.65h-1.8 M302.13 699.50v1.8 M65.60 508.46h-1.8 M304.48 699.50v1.8 M65.60 506.57h-1.8 M306.55 699.50v1.8 M65.60 504.90h-1.8" stroke="#3a3a3a" stroke-width="0.8" fill="none"/>
<g font-family='"Liberation Serif","Times New Roman",serif' font-weight="bold" font-size="8.2" fill="#1c1c1c" stroke="#1c1c1c" stroke-width="0.2">
<text x="65.6" y="712.9" text-anchor="middle">0.01</text>
<text x="59.3" y="702.1" text-anchor="end">0.01</text>
<text x="106.1" y="712.9" text-anchor="middle">0.1</text>
<text x="59.3" y="669.4" text-anchor="end">0.1</text>
<text x="146.5" y="712.9" text-anchor="middle">1</text>
<text x="59.3" y="636.7" text-anchor="end">1</text>
<text x="187.0" y="712.9" text-anchor="middle">10</text>
<text x="59.3" y="604.1" text-anchor="end">10</text>
<text x="227.5" y="712.9" text-anchor="middle">100</text>
<text x="59.3" y="571.4" text-anchor="end">100</text>
<text x="267.9" y="712.9" text-anchor="middle">1000</text>
<text x="59.3" y="538.7" text-anchor="end">1000</text>
<text x="308.4" y="712.9" text-anchor="middle">10000</text>
<text x="59.3" y="506.0" text-anchor="end">10000</text>
</g>
<text x="186.5" y="728.9" text-anchor="middle" font-family='"Liberation Serif","Times New Roman",serif' font-weight="bold" font-size="10.3" fill="#1c1c1c" stroke="#1c1c1c" stroke-width="0.15"><tspan font-style="italic">T</tspan><tspan font-style="italic" font-size="7.0" dy="2.2">2</tspan><tspan dy="-2.2"> (ms)</tspan></text>
<text x="30.1" y="602.0" text-anchor="middle" transform="rotate(-90 30.1 602.0)" font-family='"Liberation Serif","Times New Roman",serif' font-weight="bold" font-size="10.3" fill="#1c1c1c" stroke="#1c1c1c" stroke-width="0.15"><tspan font-style="italic">T</tspan><tspan font-style="italic" font-size="7.0" dy="2.2">1</tspan><tspan dy="-2.2"> (ms)</tspan></text>
<text x="147.6" y="690.0" font-family='"Liberation Serif","Times New Roman",serif' font-size="17" textLength="106.0" lengthAdjust="spacingAndGlyphs" fill="#1a1a1a">Janus droplets</text>
<text x="10.0" y="509.8" font-family='"Liberation Serif","Times New Roman",serif' font-weight="bold" font-size="33" fill="#0a0a0a">g</text>
<rect x="320.0" y="512.60" width="14.2" height="9.19" fill="#6b0000"/>
<rect x="320.0" y="521.49" width="14.2" height="9.19" fill="#a60000"/>
<rect x="320.0" y="530.38" width="14.2" height="9.19" fill="#d80000"/>
<rect x="320.0" y="539.27" width="14.2" height="9.19" fill="#ea1c00"/>
<rect x="320.0" y="548.16" width="14.2" height="9.19" fill="#ff5300"/>
<rect x="320.0" y="557.05" width="14.2" height="9.19" fill="#ff7600"/>
<rect x="320.0" y="565.94" width="14.2" height="9.19" fill="#ff9400"/>
<rect x="320.0" y="574.83" width="14.2" height="9.19" fill="#ffab00"/>
<rect x="320.0" y="583.72" width="14.2" height="9.19" fill="#ffcb00"/>
<rect x="320.0" y="592.61" width="14.2" height="9.19" fill="#ffe566"/>
<rect x="320.0" y="601.50" width="14.2" height="9.19" fill="#d2efa4"/>
<rect x="320.0" y="610.39" width="14.2" height="9.19" fill="#86e2d8"/>
<rect x="320.0" y="619.28" width="14.2" height="9.19" fill="#00ccff"/>
<rect x="320.0" y="628.17" width="14.2" height="9.19" fill="#08acf4"/>
<rect x="320.0" y="637.06" width="14.2" height="9.19" fill="#0c96ec"/>
<rect x="320.0" y="645.95" width="14.2" height="9.19" fill="#0c84e4"/>
<rect x="320.0" y="654.84" width="14.2" height="9.19" fill="#086cdc"/>
<rect x="320.0" y="663.73" width="14.2" height="9.19" fill="#0652d0"/>
<rect x="320.0" y="672.62" width="14.2" height="9.19" fill="#0230b0"/>
<rect x="320.0" y="681.51" width="14.2" height="9.19" fill="#00008e"/>
<text x="327.1" y="510.4" text-anchor="middle" font-family='"Liberation Serif","Times New Roman",serif' font-weight="bold" font-size="7" fill="#1c1c1c" stroke="#1c1c1c" stroke-width="0.2">165</text>
<text x="327.1" y="697.6" text-anchor="middle" font-family='"Liberation Serif","Times New Roman",serif' font-weight="bold" font-size="7" fill="#1c1c1c" stroke="#1c1c1c" stroke-width="0.2">0</text>
<text x="142.0" y="77.5" font-family='"Liberation Serif","Times New Roman",serif' font-weight="bold" font-size="12.3" textLength="53.0" lengthAdjust="spacingAndGlyphs" fill="#111" stroke="#111" stroke-width="0.25"><tspan font-style="italic">T</tspan><tspan font-style="italic" font-size="8.6" dy="3.3">1</tspan><tspan font-style="italic" dy="-3.3">/T</tspan><tspan font-style="italic" font-size="8.6" dy="3.3">2</tspan><tspan dy="-3.3">=100</tspan></text>
<text x="147.0" y="106.3" font-family='"Liberation Serif","Times New Roman",serif' font-weight="bold" font-size="12.3" textLength="46.8" lengthAdjust="spacingAndGlyphs" fill="#111" stroke="#111" stroke-width="0.25"><tspan font-style="italic">T</tspan><tspan font-style="italic" font-size="8.6" dy="3.3">1</tspan><tspan font-style="italic" dy="-3.3">/T</tspan><tspan font-style="italic" font-size="8.6" dy="3.3">2</tspan><tspan dy="-3.3">=10</tspan></text>
<text x="149.5" y="137.0" font-family='"Liberation Serif","Times New Roman",serif' font-weight="bold" font-size="12.3" textLength="40.5" lengthAdjust="spacingAndGlyphs" fill="#111" stroke="#111" stroke-width="0.25"><tspan font-style="italic">T</tspan><tspan font-style="italic" font-size="8.6" dy="3.3">1</tspan><tspan font-style="italic" dy="-3.3">/T</tspan><tspan font-style="italic" font-size="8.6" dy="3.3">2</tspan><tspan dy="-3.3">=1</tspan></text>
<text x="249.4" y="72.9" font-family='"Liberation Serif","Times New Roman",serif' font-weight="bold" font-size="12.3" textLength="57.2" lengthAdjust="spacingAndGlyphs" fill="#111" stroke="#111" stroke-width="0.25"><tspan font-style="italic">T</tspan><tspan font-style="italic" font-size="8.6" dy="3.3">1</tspan><tspan font-style="italic" dy="-3.3">/T</tspan><tspan font-style="italic" font-size="8.6" dy="3.3">2</tspan><tspan dy="-3.3">=1.58</tspan></text>
<text x="573.1" y="100.2" font-family='"Liberation Serif","Times New Roman",serif' font-weight="bold" font-size="12.3" textLength="58.0" lengthAdjust="spacingAndGlyphs" fill="#111" stroke="#111" stroke-width="0.25"><tspan font-style="italic">T</tspan><tspan font-style="italic" font-size="8.6" dy="3.3">1</tspan><tspan font-style="italic" dy="-3.3">/T</tspan><tspan font-style="italic" font-size="8.6" dy="3.3">2</tspan><tspan dy="-3.3">=1.16</tspan></text>
<text x="891.6" y="79.2" font-family='"Liberation Serif","Times New Roman",serif' font-weight="bold" font-size="12.3" textLength="57.0" lengthAdjust="spacingAndGlyphs" fill="#111" stroke="#111" stroke-width="0.25"><tspan font-style="italic">T</tspan><tspan font-style="italic" font-size="8.6" dy="3.3">1</tspan><tspan font-style="italic" dy="-3.3">/T</tspan><tspan font-style="italic" font-size="8.6" dy="3.3">2</tspan><tspan dy="-3.3">=8.76</tspan></text>
<text x="211.6" y="280.0" font-family='"Liberation Serif","Times New Roman",serif' font-weight="bold" font-size="12.3" textLength="56.8" lengthAdjust="spacingAndGlyphs" fill="#111" stroke="#111" stroke-width="0.25"><tspan font-style="italic">T</tspan><tspan font-style="italic" font-size="8.6" dy="3.3">1</tspan><tspan font-style="italic" dy="-3.3">/T</tspan><tspan font-style="italic" font-size="8.6" dy="3.3">2</tspan><tspan dy="-3.3">=1.56</tspan></text>
<text x="236.6" y="338.8" font-family='"Liberation Serif","Times New Roman",serif' font-weight="bold" font-size="12.3" textLength="56.8" lengthAdjust="spacingAndGlyphs" fill="#111" stroke="#111" stroke-width="0.25"><tspan font-style="italic">T</tspan><tspan font-style="italic" font-size="8.6" dy="3.3">1</tspan><tspan font-style="italic" dy="-3.3">/T</tspan><tspan font-style="italic" font-size="8.6" dy="3.3">2</tspan><tspan dy="-3.3">=1.09</tspan></text>
<text x="515.6" y="278.1" font-family='"Liberation Serif","Times New Roman",serif' font-weight="bold" font-size="12.3" textLength="61.7" lengthAdjust="spacingAndGlyphs" fill="#111" stroke="#111" stroke-width="0.25"><tspan font-style="italic">T</tspan><tspan font-style="italic" font-size="8.6" dy="3.3">1</tspan><tspan font-style="italic" dy="-3.3">/T</tspan><tspan font-style="italic" font-size="8.6" dy="3.3">2</tspan><tspan dy="-3.3">=11.31</tspan></text>
<text x="584.4" y="286.3" font-family='"Liberation Serif","Times New Roman",serif' font-weight="bold" font-size="12.3" textLength="57.0" lengthAdjust="spacingAndGlyphs" fill="#111" stroke="#111" stroke-width="0.25"><tspan font-style="italic">T</tspan><tspan font-style="italic" font-size="8.6" dy="3.3">1</tspan><tspan font-style="italic" dy="-3.3">/T</tspan><tspan font-style="italic" font-size="8.6" dy="3.3">2</tspan><tspan dy="-3.3">=1.68</tspan></text>
<text x="558.6" y="339.4" font-family='"Liberation Serif","Times New Roman",serif' font-weight="bold" font-size="12.3" textLength="57.0" lengthAdjust="spacingAndGlyphs" fill="#111" stroke="#111" stroke-width="0.25"><tspan font-style="italic">T</tspan><tspan font-style="italic" font-size="8.6" dy="3.3">1</tspan><tspan font-style="italic" dy="-3.3">/T</tspan><tspan font-style="italic" font-size="8.6" dy="3.3">2</tspan><tspan dy="-3.3">=0.95</tspan></text>
<text x="910.1" y="335.2" font-family='"Liberation Serif","Times New Roman",serif' font-weight="bold" font-size="12.3" textLength="56.6" lengthAdjust="spacingAndGlyphs" fill="#111" stroke="#111" stroke-width="0.25"><tspan font-style="italic">T</tspan><tspan font-style="italic" font-size="8.6" dy="3.3">1</tspan><tspan font-style="italic" dy="-3.3">/T</tspan><tspan font-style="italic" font-size="8.6" dy="3.3">2</tspan><tspan dy="-3.3">=1.13</tspan></text>
<text x="250.9" y="520.5" font-family='"Liberation Serif","Times New Roman",serif' font-weight="bold" font-size="12.3" textLength="56.1" lengthAdjust="spacingAndGlyphs" fill="#111" stroke="#111" stroke-width="0.25"><tspan font-style="italic">T</tspan><tspan font-style="italic" font-size="8.6" dy="3.3">1</tspan><tspan font-style="italic" dy="-3.3">/T</tspan><tspan font-style="italic" font-size="8.6" dy="3.3">2</tspan><tspan dy="-3.3">=3.76</tspan></text>
<text x="233.2" y="580.8" font-family='"Liberation Serif","Times New Roman",serif' font-weight="bold" font-size="12.3" textLength="56.0" lengthAdjust="spacingAndGlyphs" fill="#111" stroke="#111" stroke-width="0.25"><tspan font-style="italic">T</tspan><tspan font-style="italic" font-size="8.6" dy="3.3">1</tspan><tspan font-style="italic" dy="-3.3">/T</tspan><tspan font-style="italic" font-size="8.6" dy="3.3">2</tspan><tspan dy="-3.3">=1.00</tspan></text>
<defs><radialGradient id="gO" cx="0.5" cy="0.5" r="0.5" fx="0.40" fy="0.31"><stop offset="0" stop-color="#fef0e4"/><stop offset="0.1" stop-color="#fde2cc"/><stop offset="0.28" stop-color="#fab77c"/><stop offset="0.55" stop-color="#f7913a"/><stop offset="0.85" stop-color="#f5821f"/><stop offset="1" stop-color="#f68a2c"/></radialGradient><radialGradient id="gB" cx="0.5" cy="0.5" r="0.5" fx="0.40" fy="0.31"><stop offset="0" stop-color="#e9effb"/><stop offset="0.1" stop-color="#cfdcf4"/><stop offset="0.28" stop-color="#86a6e0"/><stop offset="0.55" stop-color="#4577cc"/><stop offset="0.85" stop-color="#2f65c2"/><stop offset="1" stop-color="#3a6cc6"/></radialGradient><radialGradient id="gW" cx="0.5" cy="0.5" r="0.5" fx="0.36" fy="0.36"><stop offset="0" stop-color="#eef1fc"/><stop offset="0.35" stop-color="#bcc7ea"/><stop offset="1" stop-color="#a3b1df"/></radialGradient><radialGradient id="gP" cx="0.5" cy="0.5" r="0.5" fx="0.4" fy="0.4"><stop offset="0" stop-color="#fdeaea"/><stop offset="1" stop-color="#f6c4c8"/></radialGradient><marker id="ah" viewBox="0 0 10 10" refX="8" refY="5" markerWidth="5.5" markerHeight="5.5" orient="auto"><path d="M0 0.5L10 5L0 9.5L2.5 5z" fill="#111"/></marker><marker id="ahb" viewBox="0 0 10 10" refX="7" refY="5" markerWidth="4" markerHeight="4" orient="auto"><path d="M0 0L10 5L0 10z" fill="#1a8ae0"/></marker><filter id="soft" x="-5%" y="-5%" width="110%" height="110%"><feGaussianBlur stdDeviation="0.45"/></filter></defs>
<text x="345.1" y="509.8" font-family='"Liberation Serif","Times New Roman",serif' font-weight="bold" font-size="33" fill="#0a0a0a">h</text>
<rect x="393.6" y="505.1" width="596.9" height="103.8" fill="#fdf0cb"/>
<rect x="440.2" y="516.9" width="283.3" height="78.9" fill="none" stroke="#2a2a2a" stroke-width="1.2" stroke-dasharray="3.8 2.6"/>
<circle cx="513.8" cy="551.5" r="32.1" fill="url(#gO)" stroke="#b0682a" stroke-width="0.6"/>
<circle cx="645.8" cy="552" r="32.3" fill="url(#gB)" stroke="#284f96" stroke-width="0.6"/>
<clipPath id="cj"><circle cx="884.35" cy="560.2" r="32.4"/></clipPath>
<radialGradient id="gBj" gradientUnits="userSpaceOnUse" cx="884.35" cy="560.2" r="32.4" fx="880" fy="549"><stop offset="0" stop-color="#e4ecfa"/><stop offset="0.2" stop-color="#8eace2"/><stop offset="0.45" stop-color="#4577cc"/><stop offset="0.85" stop-color="#2f65c2"/><stop offset="1" stop-color="#3a6cc6"/></radialGradient>
<circle cx="884.35" cy="560.2" r="32.4" fill="url(#gO)"/>
<g clip-path="url(#cj)"><ellipse cx="886.3" cy="590.2" rx="35.5" ry="39" fill="url(#gBj)"/></g>
<circle cx="884.35" cy="560.2" r="32.4" fill="none" stroke="#6a5030" stroke-width="0.6"/>
<path d="M507.4 559.6L393.6 619.6M507.4 559.6L573.8 619.6" stroke="#222" stroke-width="1.05" fill="none"/>
<rect x="499.3" y="546.5" width="18.4" height="12.9" fill="none" stroke="#1c1c1c" stroke-width="1.5"/>
<path d="M647.3 559.4L598.4 619.8M647.3 559.4L777.4 619.8" stroke="#222" stroke-width="1.05" fill="none"/>
<rect x="638.5" y="546.5" width="18.2" height="12.8" fill="none" stroke="#1c1c1c" stroke-width="1.5"/>
<path d="M884.3 559.2L803.8 620.0M884.3 559.2L983.0 620.0" stroke="#222" stroke-width="1.05" fill="none"/>
<rect x="875.4" y="546.4" width="18.2" height="12.6" fill="none" stroke="#1c1c1c" stroke-width="1.5"/>
<g font-family='"Liberation Serif","Times New Roman",serif' font-size="12.5" fill="#f0843a" text-anchor="middle"><text x="460.6" y="532.2">Zein</text><text x="460.4" y="547.5">droplet</text></g>
<g font-family='"Liberation Serif","Times New Roman",serif' font-size="12.5" fill="#4a7fd0" text-anchor="middle"><text x="699.9" y="528.3">Sodium</text><text x="699.9" y="543.2">alginate</text><text x="700.2" y="558.7">droplet</text></g>
<g font-family='"Liberation Serif","Times New Roman",serif' font-weight="bold" font-size="16.5" fill="#111" text-anchor="middle"><text x="575.9" y="550.2">Mixed</text><text x="576.2" y="570.4">droplet</text><text x="885.1" y="521.9" textLength="98.2" lengthAdjust="spacingAndGlyphs">Janus droplet</text></g>
<line x1="745" y1="554.5" x2="810.5" y2="554.5" stroke="#111" stroke-width="1.5" marker-end="url(#ah)"/>
<rect x="393.6" y="619.6" width="180.2" height="83.3" fill="#fff" stroke="#5f6fa3" stroke-width="1.2"/>
<rect x="598.4" y="619.8" width="179.0" height="83.6" fill="#fff" stroke="#5f6fa3" stroke-width="1.2"/>
<rect x="803.8" y="620.0" width="179.2" height="83.4" fill="#fff" stroke="#5f6fa3" stroke-width="1.2"/>
<g filter="url(#soft)" opacity="1.0"><circle cx="413.5" cy="631.1" r="5.5" fill="#128226"/><circle cx="418.8" cy="627.9" r="4.9" fill="#128226"/><circle cx="422.0" cy="635.3" r="5.9" fill="#128226"/><circle cx="415.6" cy="639.5" r="5.5" fill="#128226"/><circle cx="435.7" cy="631.1" r="5.5" fill="#128226"/><circle cx="438.9" cy="636.4" r="4.9" fill="#128226"/><circle cx="433.6" cy="638.5" r="4.9" fill="#128226"/><circle cx="427.2" cy="643.8" r="5.9" fill="#128226"/><circle cx="424.1" cy="650.1" r="5.9" fill="#128226"/><circle cx="417.8" cy="648.0" r="4.9" fill="#128226"/><circle cx="429.4" cy="652.2" r="5.5" fill="#128226"/><circle cx="431.5" cy="659.6" r="5.9" fill="#128226"/><circle cx="436.7" cy="662.7" r="4.9" fill="#128226"/><circle cx="426.2" cy="661.7" r="4.9" fill="#128226"/><circle cx="439.3" cy="657.5" r="3.9" fill="#128226"/><path d="M410.8 629.0h0M413.9 631.2h0M414.8 629.3h0M410.5 634.2h0M413.8 629.4h0M411.2 632.5h0M411.8 629.5h0M411.4 634.1h0M409.2 630.5h0M417.1 630.4h0M417.6 631.2h0M407.3 631.5h0M416.9 624.7h0M421.6 625.0h0M417.5 628.6h0M415.2 627.8h0M418.6 624.0h0M419.6 629.8h0M420.0 623.2h0M418.7 623.0h0M419.2 627.5h0M415.7 630.3h0M423.9 628.8h0M417.3 622.5h0M423.2 634.9h0M419.6 632.6h0M418.8 636.8h0M426.8 637.8h0M424.5 635.1h0M420.6 640.6h0M418.1 637.5h0M423.0 635.4h0M422.7 629.4h0M418.6 636.2h0M420.9 636.5h0M423.8 639.0h0M425.8 637.4h0M421.2 641.6h0M419.7 637.1h0M415.4 637.9h0M418.3 636.1h0M415.8 640.1h0M417.3 642.6h0M413.5 643.3h0M412.3 639.9h0M410.6 640.9h0M417.6 636.4h0M410.5 640.8h0M414.5 640.6h0M416.0 643.0h0M416.1 638.7h0M419.4 640.2h0M421.2 640.7h0M409.7 640.0h0M440.3 632.4h0M440.4 630.9h0M436.2 634.7h0M438.0 635.6h0M434.0 630.9h0M435.2 628.2h0M432.4 633.2h0M439.7 633.2h0M438.6 635.4h0M436.8 639.7h0M436.7 638.2h0M441.0 640.6h0M438.2 634.4h0M440.7 635.2h0M439.5 632.7h0M434.6 634.4h0M441.9 632.9h0M438.0 633.9h0M440.8 636.5h0M443.7 633.9h0M436.2 636.2h0M434.1 639.4h0M432.2 642.7h0M436.0 638.5h0M436.2 642.5h0M436.6 637.1h0M430.7 636.8h0M435.2 643.6h0M427.7 647.8h0M422.2 644.0h0M430.4 647.8h0M431.4 647.2h0M427.4 641.9h0M426.8 647.1h0M425.7 647.2h0M425.8 639.8h0M430.5 641.4h0M424.8 644.1h0M424.3 639.9h0M426.3 641.8h0M427.2 638.2h0M425.8 638.2h0M433.6 644.6h0M431.9 647.4h0M420.8 643.6h0M429.6 650.7h0M419.9 651.9h0M420.2 651.7h0M427.3 654.0h0M423.8 654.0h0M419.6 650.8h0M426.4 645.2h0M422.3 653.7h0M423.4 647.8h0M424.8 648.7h0M421.8 647.2h0M422.8 649.6h0M428.0 650.4h0M422.9 656.3h0M421.0 655.2h0M418.1 651.4h0M416.0 647.3h0M416.9 645.6h0M416.5 647.6h0M420.9 644.3h0M415.1 650.4h0M415.3 648.1h0M422.2 649.7h0M416.9 648.6h0M415.4 644.5h0M421.4 647.4h0M420.8 648.4h0M415.4 652.9h0M419.4 643.1h0M428.4 657.2h0M430.3 648.3h0M425.3 648.6h0M434.8 653.0h0M432.5 655.6h0M432.1 656.3h0M425.7 649.2h0M430.9 647.8h0M432.7 650.0h0M425.3 655.9h0M425.6 651.6h0M426.9 650.8h0M432.2 651.4h0M425.2 656.0h0M427.4 660.9h0M431.0 657.3h0M427.9 664.0h0M433.4 665.2h0M430.0 664.6h0M430.0 657.6h0M436.1 655.9h0M427.0 657.0h0M435.0 658.4h0M436.2 661.1h0M432.9 658.7h0M431.4 666.2h0M436.1 655.0h0M435.0 661.6h0M438.1 667.5h0M432.4 661.4h0M436.7 662.6h0M436.7 665.2h0M436.8 662.1h0M432.5 663.8h0M432.8 663.1h0M434.8 659.9h0M432.5 663.7h0M440.6 666.6h0M437.6 667.6h0M434.0 667.2h0M429.3 659.7h0M427.7 663.0h0M430.1 659.4h0M425.3 664.8h0M425.3 663.9h0M422.5 661.6h0M427.3 662.2h0M425.4 666.6h0M423.2 661.3h0M423.0 662.1h0M424.1 666.9h0M421.8 664.7h0M425.3 656.5h0M438.0 658.5h0M440.6 657.2h0M437.4 654.4h0M440.7 657.8h0M438.8 655.2h0M443.6 658.8h0" stroke="#20c83c" stroke-width="2.5" stroke-linecap="round" fill="none"/><path d="M412.3 629.3h0M416.4 630.0h0M412.6 631.7h0M415.4 627.0h0M415.5 626.0h0M415.7 626.6h0M412.8 628.0h0M409.7 631.4h0M409.8 633.2h0M411.3 631.2h0M415.1 632.1h0M417.4 630.9h0M409.9 632.6h0M417.6 624.5h0M415.5 628.3h0M421.7 628.2h0M421.0 624.8h0M415.9 627.7h0M415.2 624.4h0M423.6 626.0h0M423.3 635.7h0M418.6 632.1h0M417.5 636.1h0M424.1 640.5h0M421.4 635.8h0M420.7 634.9h0M418.5 631.4h0M418.2 632.3h0M417.1 638.0h0M421.0 633.5h0M426.6 636.1h0M421.1 639.2h0M413.1 642.4h0M415.6 634.6h0M415.8 641.8h0M414.3 643.9h0M416.2 643.5h0M412.2 635.8h0M412.5 640.5h0M432.2 631.5h0M430.6 629.4h0M434.3 629.3h0M435.0 628.8h0M434.2 626.2h0M432.5 633.5h0M434.2 626.5h0M433.9 631.7h0M435.0 630.0h0M438.2 628.5h0M435.5 626.8h0M432.5 629.0h0M441.4 631.3h0M434.1 635.3h0M441.8 634.0h0M435.1 635.1h0M440.4 631.7h0M433.9 637.0h0M434.6 636.1h0M442.5 640.5h0M436.3 639.7h0M435.3 636.1h0M430.6 636.0h0M433.1 637.7h0M436.1 636.2h0M435.9 638.9h0M428.6 638.5h0M429.6 637.6h0M436.3 642.6h0M431.4 645.9h0M425.4 640.9h0M423.6 645.4h0M428.0 646.7h0M426.8 638.5h0M426.0 638.6h0M431.1 645.3h0M426.8 646.3h0M429.8 643.0h0M423.3 652.8h0M427.2 650.2h0M423.3 648.3h0M429.6 649.4h0M424.2 651.9h0M422.5 648.7h0M428.4 650.6h0M425.9 652.1h0M423.7 647.0h0M421.4 648.1h0M421.6 653.2h0M424.2 645.1h0M420.8 647.2h0M416.6 645.8h0M418.5 646.8h0M413.4 649.8h0M416.3 645.2h0M418.9 645.7h0M427.6 652.7h0M429.7 652.4h0M427.9 654.8h0M430.0 650.9h0M432.5 655.2h0M425.7 650.4h0M426.5 649.9h0M430.7 647.2h0M425.7 655.6h0M429.8 646.9h0M431.0 646.9h0M435.2 653.7h0M433.1 647.8h0M429.8 656.7h0M428.5 655.3h0M427.0 663.6h0M432.5 659.2h0M427.8 655.6h0M427.5 657.5h0M426.3 659.3h0M430.4 654.2h0M433.2 663.0h0M430.6 664.5h0M428.3 659.7h0M431.2 656.1h0M439.3 663.1h0M437.2 660.5h0M432.3 663.7h0M438.6 659.3h0M436.3 661.7h0M437.9 664.3h0M422.3 661.1h0M423.8 661.6h0M428.5 661.2h0M430.8 662.0h0M425.8 658.2h0M423.7 665.0h0M427.6 657.4h0M429.7 662.8h0M429.0 660.9h0M440.8 659.7h0M437.8 657.9h0M436.9 656.3h0M437.4 656.8h0M442.6 656.4h0" stroke="#0a5a14" stroke-width="2.5" stroke-linecap="round" fill="none"/><path d="M410.2 629.5h0M414.9 636.0h0M411.8 627.7h0M412.5 629.4h0M419.0 630.5h0M416.1 629.2h0M412.2 631.7h0M414.9 629.4h0M411.3 631.7h0M416.8 632.9h0M409.5 634.4h0M412.7 625.8h0M411.2 625.9h0M421.4 625.7h0M416.2 630.9h0M418.7 631.3h0M417.0 626.0h0M416.1 629.0h0M414.7 628.5h0M419.8 624.9h0M423.7 626.8h0M418.3 628.9h0M423.2 634.9h0M424.0 638.6h0M424.6 640.3h0M423.4 636.6h0M420.8 638.3h0M424.4 635.5h0M421.3 633.6h0M421.5 631.8h0M422.1 640.0h0M419.0 632.3h0M423.6 636.6h0M423.9 630.2h0M416.9 635.0h0M422.7 638.6h0M423.5 633.3h0M426.5 630.3h0M418.5 636.2h0M419.7 639.2h0M413.8 636.0h0M416.5 638.7h0M417.6 635.8h0M415.7 634.4h0M412.5 636.0h0M414.9 639.0h0M415.8 638.6h0M418.8 639.4h0M415.7 640.3h0M420.7 642.9h0M410.0 637.8h0M440.0 630.7h0M440.5 630.4h0M434.5 626.4h0M437.2 626.8h0M435.2 627.1h0M437.5 635.5h0M432.4 627.2h0M434.1 626.0h0M435.0 630.5h0M429.8 629.1h0M435.1 625.2h0M442.5 638.1h0M441.2 633.1h0M439.0 640.8h0M436.5 635.2h0M442.2 637.5h0M440.7 640.5h0M436.9 637.2h0M440.5 640.8h0M437.2 635.3h0M437.6 638.4h0M444.3 636.8h0M440.4 641.2h0M437.1 641.5h0M437.4 637.2h0M433.5 641.6h0M431.8 640.6h0M432.6 642.7h0M430.6 641.3h0M431.8 640.8h0M436.4 639.7h0M437.0 642.8h0M428.0 638.0h0M422.6 641.7h0M426.0 649.2h0M429.6 647.5h0M423.0 646.1h0M424.4 645.3h0M426.5 644.1h0M431.7 641.6h0M425.3 639.8h0M423.6 640.8h0M425.0 644.2h0M423.9 639.6h0M425.8 643.8h0M433.1 642.9h0M428.0 637.9h0M429.5 647.6h0M421.6 646.4h0M426.4 647.0h0M427.0 645.7h0M421.6 654.8h0M428.3 651.8h0M426.8 647.0h0M422.0 648.4h0M418.8 648.8h0M424.3 648.4h0M423.2 653.1h0M430.0 649.2h0M427.4 645.2h0M423.4 653.7h0M425.8 656.5h0M418.0 653.1h0M414.6 649.0h0M413.8 645.2h0M418.5 646.6h0M421.6 650.0h0M413.0 648.6h0M420.0 645.6h0M419.4 647.0h0M417.8 653.2h0M413.2 651.1h0M434.3 652.0h0M427.0 655.6h0M426.3 652.0h0M431.4 649.9h0M425.3 651.1h0M429.5 654.2h0M434.6 649.6h0M437.3 660.6h0M427.8 659.1h0M436.6 656.7h0M431.1 663.0h0M436.0 656.5h0M436.8 657.4h0M430.6 661.1h0M432.3 655.8h0M431.3 662.2h0M429.5 661.7h0M428.6 663.8h0M433.2 655.0h0M429.4 656.4h0M431.0 654.0h0M433.2 665.8h0M440.0 661.8h0M432.0 662.2h0M435.5 662.3h0M432.2 660.9h0M436.9 663.4h0M440.8 662.7h0M436.7 663.7h0M437.7 664.9h0M422.8 663.7h0M428.5 664.4h0M424.8 660.6h0M428.6 662.7h0M426.7 659.5h0M427.0 664.7h0M425.0 656.9h0M424.8 660.6h0M425.5 659.5h0M437.4 658.7h0M437.2 654.2h0M438.5 660.5h0M441.8 655.1h0M437.9 656.5h0M441.2 654.3h0M441.8 660.5h0" stroke="#12982a" stroke-width="2.5" stroke-linecap="round" fill="none"/><path d="M414.7 631.1h0M413.8 635.2h0M409.5 633.2h0M411.3 636.5h0M408.6 634.2h0M419.8 631.7h0M423.0 629.8h0M422.4 629.1h0M420.9 631.2h0M419.7 627.9h0M416.8 636.4h0M418.2 637.4h0M424.7 633.1h0M423.8 632.3h0M419.5 631.3h0M428.4 637.1h0M428.0 632.7h0M412.9 635.2h0M413.6 636.4h0M414.1 644.1h0M413.2 644.9h0M411.3 643.6h0M438.0 627.9h0M431.5 630.0h0M436.8 626.6h0M437.9 628.8h0M438.9 628.3h0M437.1 628.1h0M434.2 626.2h0M433.0 626.3h0M437.1 639.4h0M438.0 637.6h0M435.5 635.1h0M441.4 639.5h0M434.8 634.0h0M432.6 639.0h0M435.7 634.8h0M437.2 639.7h0M430.7 636.2h0M434.9 635.7h0M436.0 635.0h0M430.4 634.6h0M427.1 649.0h0M424.3 640.4h0M425.3 648.9h0M424.4 641.7h0M424.8 648.7h0M431.8 646.0h0M430.9 646.8h0M421.3 645.4h0M420.2 653.0h0M427.0 648.0h0M422.0 653.8h0M422.7 652.5h0M420.6 647.8h0M422.0 644.3h0M420.3 651.6h0M415.4 652.0h0M413.6 649.4h0M412.6 647.2h0M413.9 644.6h0M433.4 653.4h0M426.7 648.9h0M428.6 647.7h0M433.3 649.0h0M425.3 656.0h0M427.2 654.6h0M433.0 648.7h0M434.7 657.3h0M431.9 654.4h0M433.8 663.8h0M429.9 655.5h0M431.7 654.8h0M441.4 664.2h0M437.4 659.8h0M436.9 659.1h0M442.2 663.3h0M432.2 665.2h0M427.9 657.1h0M424.7 660.6h0M422.0 663.2h0M430.1 665.3h0M427.1 666.5h0M441.3 660.2h0M438.7 659.1h0M437.1 658.2h0M436.0 656.0h0M436.7 653.9h0" stroke="#d8403a" stroke-width="1.6" stroke-linecap="round" fill="none"/><path d="M412.2 633.6h0M408.3 627.8h0M412.9 625.1h0M420.4 623.9h0M421.4 623.3h0M420.5 636.5h0M422.7 638.8h0M414.9 637.2h0M417.1 636.4h0M417.0 638.6h0M436.3 628.7h0M429.9 631.4h0M438.2 625.9h0M441.1 629.2h0M437.9 635.9h0M441.1 631.8h0M437.2 636.2h0M432.2 636.2h0M431.5 645.8h0M422.8 651.2h0M420.9 651.0h0M415.6 650.7h0M416.2 650.5h0M428.1 647.5h0M432.1 652.0h0M427.8 657.7h0M431.0 661.3h0M434.3 665.8h0M437.0 659.1h0M440.9 664.9h0M437.0 659.2h0M441.4 660.7h0M428.3 661.8h0M420.7 660.9h0M421.9 658.2h0M439.4 653.1h0M443.0 655.1h0" stroke="#2030c8" stroke-width="1.6" stroke-linecap="round" fill="none"/><path d="M415.8 626.5h0M434.8 634.3h0M424.1 646.2h0M415.0 647.4h0M429.5 649.3h0M434.9 664.2h0M440.4 659.9h0" stroke="#f0b0a8" stroke-width="1.6" stroke-linecap="round" fill="none"/><path d="M419.2 629.4h0M415.0 640.1h0M438.3 632.3h0M425.2 644.2h0M426.3 652.5h0M431.7 658.6h0M428.1 663.6h0" stroke="#e8d820" stroke-width="1.6" stroke-linecap="round" fill="none"/></g>
<g filter="url(#soft)" opacity="1.0"><circle cx="429.4" cy="676.5" r="4.9" fill="#128226"/><circle cx="433.6" cy="680.7" r="5.5" fill="#128226"/><circle cx="441.0" cy="677.5" r="5.9" fill="#128226"/><circle cx="445.2" cy="671.2" r="5.1" fill="#128226"/><circle cx="447.3" cy="682.8" r="5.9" fill="#128226"/><circle cx="454.7" cy="687.0" r="5.9" fill="#128226"/><circle cx="459.9" cy="690.2" r="4.9" fill="#128226"/><circle cx="453.6" cy="693.3" r="4.3" fill="#128226"/><circle cx="442.0" cy="689.1" r="4.3" fill="#128226"/><circle cx="441.4" cy="665.9" r="3.9" fill="#128226"/><path d="M427.1 673.2h0M433.0 676.8h0M430.3 678.7h0M427.6 673.6h0M428.6 673.7h0M433.8 675.3h0M432.5 676.1h0M426.3 673.2h0M429.4 674.7h0M430.9 680.4h0M428.1 678.9h0M424.7 678.3h0M424.1 675.0h0M431.8 671.9h0M433.9 673.2h0M431.1 678.9h0M433.3 679.2h0M432.6 686.0h0M432.0 676.7h0M431.9 675.4h0M431.2 685.8h0M428.8 682.6h0M432.5 678.4h0M430.8 679.1h0M432.3 675.4h0M435.4 684.0h0M437.3 680.2h0M435.6 686.5h0M432.5 686.4h0M428.9 683.9h0M436.2 678.6h0M443.2 674.7h0M445.9 679.6h0M438.2 682.1h0M435.1 677.8h0M436.5 676.8h0M436.0 677.8h0M444.6 681.4h0M445.0 680.7h0M438.0 677.3h0M437.2 679.8h0M440.5 684.0h0M436.6 673.6h0M446.7 675.6h0M441.3 670.8h0M450.2 670.9h0M443.3 672.5h0M442.5 668.0h0M445.0 674.5h0M446.3 674.2h0M450.0 672.6h0M449.2 678.5h0M444.4 679.9h0M451.4 684.2h0M452.2 681.3h0M444.7 680.2h0M443.8 678.9h0M448.2 682.0h0M450.8 685.4h0M448.2 681.4h0M448.2 686.6h0M447.6 681.1h0M446.5 677.8h0M452.5 680.5h0M444.3 685.1h0M449.6 678.9h0M447.6 677.2h0M451.2 688.8h0M453.1 692.7h0M455.1 684.5h0M456.6 687.5h0M452.3 685.4h0M458.7 685.9h0M452.8 685.5h0M454.2 691.4h0M457.8 682.5h0M454.0 692.1h0M459.3 690.0h0M450.5 685.8h0M458.4 693.0h0M458.4 688.6h0M456.5 688.8h0M458.8 694.8h0M455.9 688.1h0M458.6 689.8h0M460.2 689.6h0M450.8 693.3h0M452.5 690.3h0M452.7 695.9h0M449.8 691.6h0M453.7 693.3h0M452.9 695.7h0M451.5 696.0h0M457.3 691.4h0M454.7 696.7h0M454.3 692.7h0M456.2 690.6h0M453.1 691.4h0M453.2 698.0h0M449.1 694.6h0M443.8 692.6h0M442.3 692.2h0M439.3 687.6h0M443.3 687.8h0M438.2 688.1h0M443.5 691.1h0M441.7 692.5h0M442.8 687.5h0M437.7 689.7h0M440.1 684.9h0M441.9 668.2h0M439.8 665.4h0M441.3 666.4h0M438.2 668.8h0M438.4 662.7h0M442.3 661.7h0" stroke="#20c83c" stroke-width="2.5" stroke-linecap="round" fill="none"/><path d="M429.8 675.0h0M425.4 676.0h0M425.6 679.2h0M430.6 681.1h0M431.0 679.8h0M428.3 675.1h0M436.5 681.0h0M435.8 681.5h0M431.7 679.8h0M437.8 677.6h0M433.6 681.3h0M437.4 678.1h0M438.1 678.0h0M427.8 682.3h0M433.9 675.0h0M436.1 675.8h0M446.9 676.8h0M441.7 681.8h0M440.3 672.7h0M443.5 673.8h0M446.8 678.5h0M443.7 676.1h0M444.3 675.1h0M437.1 676.8h0M443.1 672.2h0M449.9 673.1h0M445.5 668.2h0M446.0 666.6h0M445.7 666.6h0M444.9 669.8h0M444.7 671.3h0M449.2 669.7h0M443.1 667.9h0M443.1 671.6h0M439.5 670.9h0M442.7 684.5h0M446.9 687.4h0M444.8 680.1h0M447.1 677.0h0M442.3 683.3h0M446.4 681.3h0M446.1 686.0h0M444.9 685.6h0M454.3 681.0h0M456.0 689.4h0M451.4 689.9h0M454.7 687.6h0M449.9 684.1h0M456.3 684.1h0M457.6 688.5h0M457.6 689.3h0M455.0 691.5h0M455.9 691.6h0M451.5 690.1h0M448.9 688.9h0M461.0 685.1h0M462.8 690.5h0M459.0 688.8h0M463.0 688.0h0M457.6 694.4h0M458.1 690.5h0M458.1 689.3h0M459.6 693.9h0M460.2 695.4h0M464.1 687.3h0M451.5 689.8h0M454.0 691.8h0M456.8 690.9h0M457.7 694.1h0M451.6 693.7h0M455.0 691.1h0M452.2 689.3h0M455.5 694.3h0M438.8 691.9h0M440.4 687.8h0M445.1 689.5h0M440.6 692.3h0M446.3 690.1h0M438.8 692.1h0M438.4 686.6h0M440.8 665.4h0M440.8 665.1h0M443.4 664.1h0M442.0 668.6h0M442.6 664.5h0M444.4 667.4h0M440.9 663.9h0M443.6 669.1h0M443.6 666.2h0M444.6 667.8h0" stroke="#0a5a14" stroke-width="2.5" stroke-linecap="round" fill="none"/><path d="M425.9 677.2h0M430.8 679.7h0M433.2 678.9h0M429.0 677.7h0M430.3 677.2h0M429.9 678.9h0M426.4 680.8h0M432.8 677.9h0M428.8 678.8h0M437.9 677.2h0M431.0 677.7h0M433.2 676.0h0M436.4 679.0h0M434.9 675.6h0M431.1 678.2h0M432.3 679.7h0M438.8 680.5h0M429.9 683.8h0M433.6 679.7h0M430.9 681.0h0M436.1 678.7h0M434.7 684.2h0M434.4 684.2h0M438.7 684.0h0M440.5 681.0h0M436.3 676.9h0M445.9 680.5h0M443.7 680.5h0M444.1 675.5h0M440.0 672.2h0M436.8 679.1h0M440.0 677.6h0M443.5 681.0h0M436.8 676.6h0M436.6 680.7h0M443.7 680.3h0M441.9 680.2h0M439.4 680.7h0M442.3 682.1h0M435.5 676.5h0M442.8 675.2h0M446.0 671.8h0M441.8 670.9h0M446.7 674.4h0M442.9 668.8h0M440.0 671.0h0M444.9 676.1h0M449.1 668.2h0M441.2 674.5h0M449.2 671.8h0M445.2 676.1h0M440.1 670.9h0M449.3 671.1h0M448.8 673.0h0M450.6 671.9h0M449.1 674.8h0M446.0 676.4h0M451.6 686.5h0M445.5 678.6h0M446.8 686.7h0M451.5 685.3h0M448.2 686.2h0M449.0 678.4h0M448.6 679.4h0M450.7 682.6h0M448.8 683.6h0M449.5 685.6h0M445.9 684.3h0M450.7 680.7h0M442.3 680.7h0M451.6 683.4h0M441.9 680.4h0M447.8 681.4h0M448.8 688.6h0M447.0 689.3h0M451.3 677.5h0M459.2 683.2h0M449.7 686.2h0M453.9 688.9h0M455.3 689.9h0M454.2 689.5h0M453.0 691.1h0M457.7 685.2h0M460.2 688.8h0M453.8 692.9h0M451.0 690.9h0M454.7 686.8h0M453.9 683.5h0M460.0 685.9h0M458.4 687.3h0M460.6 687.4h0M452.7 690.2h0M454.6 689.7h0M458.5 682.0h0M461.0 686.2h0M455.5 689.9h0M458.4 688.9h0M458.1 690.2h0M463.5 689.9h0M460.1 694.0h0M463.1 693.8h0M464.2 687.5h0M458.5 689.1h0M458.4 687.8h0M459.7 687.1h0M459.3 689.4h0M463.0 694.0h0M456.8 690.8h0M457.4 695.1h0M459.7 684.7h0M462.6 685.8h0M454.3 691.4h0M456.3 697.0h0M450.8 697.4h0M449.9 690.6h0M444.0 690.3h0M442.1 691.4h0M444.9 689.7h0M443.4 692.1h0M439.7 691.9h0M442.6 685.2h0M439.0 687.0h0M439.9 689.9h0M445.8 691.0h0M441.6 667.9h0M440.1 662.4h0M442.7 663.8h0M437.6 667.2h0M437.2 665.5h0M444.4 663.2h0" stroke="#12982a" stroke-width="2.5" stroke-linecap="round" fill="none"/><path d="M425.8 677.6h0M426.1 677.2h0M434.4 676.4h0M430.3 673.8h0M430.1 679.5h0M434.3 680.8h0M429.0 679.3h0M429.2 680.8h0M428.4 680.8h0M430.4 680.8h0M436.8 680.8h0M440.4 674.8h0M441.8 674.2h0M436.9 681.3h0M442.7 681.9h0M446.1 673.3h0M449.5 671.5h0M444.5 671.1h0M446.6 667.0h0M447.3 688.7h0M446.0 684.2h0M441.2 684.6h0M453.7 681.0h0M450.2 688.2h0M451.6 687.4h0M453.3 689.8h0M455.6 683.2h0M465.3 691.3h0M464.0 694.1h0M453.2 690.9h0M438.9 688.8h0M444.0 692.2h0M442.8 693.7h0M441.2 668.4h0M441.7 662.5h0" stroke="#d8403a" stroke-width="1.6" stroke-linecap="round" fill="none"/><path d="M434.2 677.7h0M431.8 678.0h0M430.0 679.0h0M425.1 673.0h0M427.9 671.0h0M444.9 673.8h0M443.6 673.3h0M442.4 682.9h0M437.2 676.6h0M438.9 671.2h0M444.2 670.4h0M448.1 666.9h0M450.0 668.6h0M447.5 687.1h0M442.1 680.4h0M448.7 676.4h0M450.6 687.5h0M455.4 681.1h0M461.1 688.3h0M458.2 690.6h0M462.1 694.7h0M457.4 695.1h0M440.7 686.2h0M445.1 692.3h0M441.5 668.6h0" stroke="#2030c8" stroke-width="1.6" stroke-linecap="round" fill="none"/><path d="M428.4 675.2h0M443.8 666.8h0M446.6 678.7h0M449.9 686.5h0M456.5 692.6h0M449.4 693.4h0M443.6 693.0h0M439.9 667.7h0" stroke="#f0b0a8" stroke-width="1.6" stroke-linecap="round" fill="none"/><path d="M448.1 678.5h0M455.6 697.0h0" stroke="#e8d820" stroke-width="1.6" stroke-linecap="round" fill="none"/></g>
<g filter="url(#soft)" opacity="1.0"><circle cx="452.6" cy="634.3" r="5.5" fill="#128226"/><circle cx="457.8" cy="637.4" r="5.5" fill="#128226"/><circle cx="456.8" cy="641.6" r="4.3" fill="#128226"/><circle cx="470.5" cy="627.9" r="5.5" fill="#128226"/><circle cx="475.8" cy="631.1" r="5.5" fill="#128226"/><circle cx="472.6" cy="636.4" r="5.5" fill="#128226"/><circle cx="477.9" cy="639.5" r="4.9" fill="#128226"/><circle cx="468.4" cy="643.8" r="5.9" fill="#128226"/><circle cx="471.6" cy="649.0" r="4.9" fill="#128226"/><circle cx="465.2" cy="653.2" r="5.5" fill="#128226"/><circle cx="463.1" cy="660.6" r="5.5" fill="#128226"/><circle cx="468.4" cy="659.6" r="4.9" fill="#128226"/><circle cx="458.9" cy="662.7" r="4.3" fill="#128226"/><path d="M454.8 637.2h0M448.3 637.2h0M455.3 636.6h0M450.9 638.3h0M452.1 633.1h0M448.8 637.4h0M451.1 636.6h0M456.5 634.2h0M448.2 634.9h0M457.6 632.5h0M451.2 639.3h0M456.2 629.5h0M458.7 634.1h0M455.8 641.6h0M453.8 634.2h0M454.1 639.7h0M453.8 640.4h0M457.5 634.3h0M461.2 633.6h0M460.2 637.6h0M457.2 634.4h0M457.5 642.4h0M457.7 642.2h0M456.7 637.3h0M454.4 641.0h0M453.9 639.5h0M454.2 641.1h0M454.2 643.9h0M456.7 644.5h0M456.5 638.2h0M457.1 646.6h0M452.1 642.6h0M453.0 639.4h0M472.0 625.7h0M471.7 628.3h0M469.7 630.0h0M466.1 624.7h0M465.8 626.3h0M465.3 626.8h0M466.5 624.0h0M470.1 629.5h0M475.8 629.4h0M474.0 623.7h0M466.8 630.6h0M470.2 621.7h0M475.8 625.9h0M477.2 630.7h0M478.5 629.4h0M473.3 631.4h0M473.9 627.2h0M472.1 631.8h0M476.8 634.5h0M478.3 634.3h0M473.8 634.9h0M477.5 629.7h0M470.4 631.2h0M475.1 635.2h0M477.6 628.9h0M480.7 632.4h0M480.6 631.3h0M477.2 625.9h0M473.0 635.8h0M475.4 635.8h0M477.0 639.3h0M472.1 634.1h0M475.5 638.7h0M472.4 633.7h0M471.4 635.2h0M470.4 637.4h0M470.8 637.0h0M477.3 638.7h0M470.3 640.5h0M474.5 637.3h0M475.3 633.9h0M477.6 633.8h0M466.6 636.9h0M474.9 642.2h0M475.3 636.9h0M480.1 640.4h0M477.8 639.7h0M473.8 640.1h0M480.5 642.8h0M480.7 635.3h0M482.6 637.7h0M470.0 648.7h0M464.3 643.2h0M469.1 640.2h0M472.2 646.2h0M472.5 640.7h0M466.9 644.7h0M471.3 643.0h0M470.4 640.6h0M464.0 645.4h0M466.5 641.6h0M469.6 638.0h0M468.5 644.3h0M474.3 644.6h0M466.0 640.4h0M462.9 640.5h0M468.2 650.8h0M472.2 645.1h0M470.1 651.3h0M473.8 645.2h0M475.9 650.9h0M471.9 649.7h0M470.2 648.0h0M470.8 647.3h0M473.5 647.8h0M476.0 652.3h0M472.4 654.2h0M476.0 646.4h0M467.7 650.4h0M464.1 651.8h0M463.4 651.5h0M466.7 650.5h0M465.0 649.5h0M465.1 653.1h0M464.1 656.0h0M467.0 653.3h0M469.0 651.7h0M464.7 647.9h0M470.0 654.9h0M464.8 654.0h0M462.8 654.8h0M462.3 647.9h0M467.0 658.0h0M459.9 657.3h0M459.3 664.3h0M462.2 659.9h0M459.7 658.8h0M461.2 659.9h0M459.0 658.9h0M460.9 660.3h0M461.6 656.1h0M462.6 660.4h0M464.4 665.1h0M461.4 659.0h0M461.9 665.6h0M462.5 659.6h0M460.7 656.5h0M459.8 663.2h0M464.9 665.9h0M461.5 666.4h0M468.6 660.8h0M469.2 664.2h0M464.5 662.2h0M468.3 655.4h0M470.8 661.3h0M465.0 658.2h0M472.8 657.7h0M467.7 664.4h0M467.6 656.2h0M465.3 656.3h0M466.4 657.0h0M469.9 656.8h0M470.3 663.7h0M470.7 662.5h0M473.8 660.9h0M469.8 664.7h0M470.5 655.1h0M459.8 660.7h0M458.9 663.9h0M458.1 664.2h0M461.8 661.8h0M461.4 665.5h0M457.1 666.2h0M458.0 664.3h0M457.9 658.9h0M454.0 663.0h0" stroke="#20c83c" stroke-width="2.5" stroke-linecap="round" fill="none"/><path d="M452.9 634.7h0M456.7 636.4h0M457.5 636.3h0M454.0 631.0h0M449.4 632.1h0M457.1 633.6h0M454.6 636.0h0M447.5 633.9h0M457.6 635.2h0M449.9 633.9h0M455.4 634.9h0M451.7 633.3h0M453.3 637.1h0M455.2 638.9h0M450.8 632.2h0M451.4 640.4h0M447.4 630.9h0M452.7 628.5h0M462.1 634.2h0M455.7 639.1h0M457.2 638.1h0M456.4 639.7h0M458.3 637.3h0M457.4 639.9h0M458.8 642.7h0M457.1 635.3h0M455.0 641.3h0M454.5 637.4h0M455.0 639.3h0M461.4 633.8h0M458.5 636.8h0M463.3 635.3h0M457.4 645.8h0M457.8 645.3h0M458.5 638.2h0M455.0 643.3h0M459.3 641.6h0M461.2 642.3h0M460.1 644.8h0M454.0 645.5h0M465.1 628.7h0M473.7 626.6h0M469.8 624.7h0M473.5 632.1h0M469.4 630.6h0M472.2 624.9h0M474.2 626.2h0M472.9 624.1h0M474.4 628.5h0M475.4 628.7h0M473.6 624.6h0M480.7 631.0h0M477.3 631.8h0M480.1 627.8h0M474.1 627.4h0M476.3 635.9h0M479.1 627.9h0M475.0 633.5h0M480.3 628.7h0M477.8 632.3h0M481.8 632.5h0M479.7 626.3h0M474.1 633.6h0M471.2 639.6h0M473.0 636.3h0M470.7 638.8h0M475.7 640.3h0M472.6 633.0h0M474.2 638.2h0M474.4 639.5h0M469.7 634.3h0M474.6 640.5h0M473.7 641.0h0M478.8 642.9h0M476.6 640.8h0M473.9 639.2h0M479.9 643.6h0M480.6 641.6h0M477.1 638.0h0M480.9 643.0h0M473.2 641.7h0M470.2 638.9h0M470.7 638.8h0M466.5 647.4h0M466.0 640.6h0M473.0 642.8h0M463.1 641.7h0M471.2 646.9h0M469.0 648.2h0M468.8 638.1h0M464.3 645.8h0M466.1 647.4h0M467.8 642.9h0M462.8 645.2h0M466.4 638.1h0M472.8 648.1h0M471.5 652.9h0M468.5 645.8h0M474.2 647.4h0M470.6 645.5h0M467.8 647.4h0M472.9 646.8h0M471.4 652.8h0M472.5 648.0h0M469.8 653.0h0M470.7 649.8h0M471.3 652.0h0M468.2 656.4h0M463.6 654.6h0M469.9 653.2h0M462.7 657.6h0M466.9 656.3h0M466.7 654.8h0M469.4 653.1h0M463.8 657.0h0M466.1 654.1h0M462.5 662.4h0M458.3 659.9h0M461.6 661.8h0M467.7 660.4h0M462.8 660.3h0M460.0 664.8h0M465.4 661.7h0M463.2 666.1h0M462.4 664.3h0M472.1 658.2h0M471.4 656.0h0M467.0 661.4h0M467.8 654.9h0M469.2 657.3h0M472.6 663.2h0M461.9 661.9h0M461.4 660.1h0M455.1 662.0h0M463.2 663.3h0M460.8 659.9h0" stroke="#0a5a14" stroke-width="2.5" stroke-linecap="round" fill="none"/><path d="M448.1 635.0h0M451.8 639.3h0M449.2 631.8h0M453.7 633.5h0M449.5 637.8h0M450.3 633.5h0M455.5 634.4h0M456.3 632.9h0M456.3 633.6h0M460.7 640.3h0M460.5 639.1h0M455.6 638.2h0M458.4 641.5h0M454.2 640.2h0M462.0 636.7h0M459.6 639.4h0M457.8 638.6h0M456.6 642.7h0M457.0 639.2h0M460.2 633.8h0M461.9 641.2h0M453.0 640.8h0M457.5 631.2h0M456.8 643.1h0M457.2 644.7h0M454.8 641.8h0M452.6 640.6h0M453.5 640.6h0M467.6 624.5h0M467.5 631.6h0M470.8 632.0h0M465.9 627.9h0M475.7 628.7h0M472.5 632.9h0M473.8 625.4h0M466.3 630.7h0M465.6 627.2h0M466.2 626.0h0M466.4 631.7h0M464.8 628.9h0M473.6 622.5h0M471.2 633.2h0M480.9 629.8h0M474.0 627.7h0M479.6 628.8h0M479.8 629.4h0M474.5 629.2h0M475.3 624.8h0M481.4 629.0h0M468.2 637.9h0M474.5 637.2h0M471.5 630.9h0M477.2 635.9h0M471.4 636.6h0M473.4 632.2h0M467.5 637.0h0M469.2 635.3h0M468.0 633.6h0M468.6 636.8h0M470.9 634.8h0M476.5 636.0h0M481.1 642.0h0M477.2 643.2h0M478.7 635.0h0M474.9 638.1h0M479.6 636.5h0M474.0 639.5h0M480.5 637.4h0M477.9 637.4h0M474.6 636.3h0M478.8 636.4h0M475.9 644.4h0M471.8 648.3h0M467.9 643.3h0M468.4 639.5h0M471.4 646.5h0M464.8 647.5h0M467.6 640.0h0M472.1 640.9h0M466.2 643.6h0M472.0 646.6h0M473.4 641.3h0M463.8 646.8h0M470.9 639.5h0M474.9 644.8h0M462.0 645.4h0M462.6 642.8h0M470.7 645.3h0M470.5 653.0h0M466.8 649.7h0M469.9 647.3h0M472.2 648.1h0M475.6 651.8h0M471.6 645.4h0M464.4 651.0h0M466.9 648.8h0M460.1 652.8h0M462.0 651.5h0M463.2 652.6h0M460.7 653.0h0M465.4 648.7h0M461.6 656.5h0M462.9 654.0h0M462.0 652.5h0M471.1 655.0h0M460.7 656.4h0M459.3 653.7h0M459.7 657.7h0M461.7 663.1h0M459.4 656.7h0M467.7 662.8h0M462.3 657.0h0M462.4 655.5h0M467.9 662.2h0M463.1 664.3h0M467.5 664.3h0M457.7 658.5h0M472.9 657.6h0M470.2 657.1h0M469.7 657.8h0M472.5 658.2h0M469.7 662.3h0M471.8 660.9h0M466.1 657.2h0M467.8 660.7h0M466.3 658.3h0M466.0 661.5h0M472.7 656.9h0M460.9 660.8h0M461.3 659.4h0M462.4 665.1h0M457.4 659.7h0M462.2 665.7h0M454.7 660.8h0M457.1 658.2h0" stroke="#12982a" stroke-width="2.5" stroke-linecap="round" fill="none"/><path d="M454.4 638.8h0M450.4 638.7h0M449.4 628.9h0M458.4 632.1h0M452.8 638.7h0M453.8 640.8h0M456.6 637.2h0M463.6 637.7h0M453.8 639.2h0M455.2 643.5h0M466.2 631.4h0M471.2 633.1h0M468.7 626.3h0M469.2 628.9h0M466.3 627.4h0M472.5 625.1h0M468.2 627.5h0M468.0 622.7h0M474.3 625.7h0M476.9 634.6h0M476.3 632.4h0M478.3 632.5h0M472.4 635.2h0M474.5 637.1h0M467.2 633.6h0M478.5 641.9h0M482.1 642.1h0M479.7 636.9h0M483.2 640.8h0M481.4 643.1h0M466.2 642.9h0M464.4 645.6h0M467.8 644.7h0M463.4 643.3h0M467.4 642.1h0M472.1 639.9h0M473.6 645.2h0M474.9 648.9h0M477.0 649.1h0M473.5 644.1h0M462.1 652.0h0M463.1 655.4h0M469.0 656.5h0M467.9 648.4h0M461.8 653.4h0M460.4 650.2h0M464.8 663.0h0M462.2 661.1h0M466.1 661.5h0M464.2 664.7h0M465.0 655.9h0M459.5 656.3h0M470.0 662.1h0M465.3 658.4h0M472.0 662.2h0M459.2 665.3h0M458.9 659.6h0M456.7 666.3h0M462.1 660.9h0M458.4 667.5h0" stroke="#d8403a" stroke-width="1.6" stroke-linecap="round" fill="none"/><path d="M457.3 637.3h0M457.3 635.2h0M456.3 633.3h0M448.4 638.4h0M446.6 635.0h0M455.9 639.9h0M458.1 632.9h0M458.6 640.1h0M461.7 632.7h0M453.5 638.8h0M459.7 643.4h0M460.6 641.3h0M468.9 626.7h0M465.1 625.4h0M473.8 632.7h0M477.3 633.6h0M479.5 635.5h0M474.8 637.7h0M473.1 631.7h0M477.5 638.3h0M478.4 640.6h0M476.2 639.7h0M478.2 639.9h0M479.4 644.7h0M461.4 649.8h0M466.9 656.9h0M465.5 660.4h0M459.9 659.8h0M455.8 662.4h0M457.9 664.9h0M455.6 666.1h0" stroke="#2030c8" stroke-width="1.6" stroke-linecap="round" fill="none"/><path d="M456.8 635.4h0M453.8 644.4h0M473.5 628.8h0M473.7 630.3h0M477.2 635.9h0M473.7 637.8h0M476.6 643.6h0M467.9 640.1h0M466.8 650.7h0M468.5 659.9h0" stroke="#f0b0a8" stroke-width="1.6" stroke-linecap="round" fill="none"/><path d="M474.0 645.2h0M467.4 658.2h0M455.4 664.1h0" stroke="#e8d820" stroke-width="1.6" stroke-linecap="round" fill="none"/></g>
<g filter="url(#soft)" opacity="0.88"><circle cx="487.4" cy="637.4" r="4.9" fill="#128226"/><circle cx="492.6" cy="640.6" r="5.5" fill="#128226"/><circle cx="497.9" cy="644.8" r="4.9" fill="#128226"/><circle cx="507.4" cy="626.9" r="4.9" fill="#128226"/><circle cx="511.6" cy="631.1" r="5.5" fill="#128226"/><circle cx="515.9" cy="637.4" r="4.9" fill="#128226"/><circle cx="516.9" cy="642.7" r="4.3" fill="#128226"/><circle cx="508.5" cy="638.5" r="4.9" fill="#128226"/><circle cx="504.3" cy="646.9" r="5.5" fill="#128226"/><circle cx="499.0" cy="653.2" r="5.5" fill="#128226"/><circle cx="502.1" cy="658.5" r="4.9" fill="#128226"/><circle cx="495.8" cy="659.6" r="4.3" fill="#128226"/><path d="M488.6 635.7h0M489.9 640.1h0M486.9 637.0h0M491.6 636.0h0M484.8 638.6h0M487.6 639.8h0M488.3 637.0h0M490.8 634.5h0M489.5 641.0h0M485.6 642.8h0M489.8 632.6h0M493.6 643.8h0M496.0 644.5h0M491.9 641.3h0M495.9 638.0h0M489.8 644.7h0M494.2 639.4h0M493.7 641.3h0M492.3 640.7h0M496.0 638.2h0M489.9 643.3h0M488.6 645.3h0M492.7 634.6h0M498.1 638.6h0M501.6 642.6h0M496.0 641.5h0M493.9 643.1h0M496.4 649.5h0M500.4 643.7h0M499.4 644.6h0M498.4 646.8h0M497.6 643.8h0M499.1 643.2h0M495.0 646.3h0M501.2 647.1h0M500.6 640.7h0M504.3 627.9h0M511.0 626.9h0M510.2 630.8h0M503.9 625.5h0M503.6 629.6h0M503.9 626.6h0M508.6 623.0h0M509.8 624.4h0M502.5 626.9h0M502.0 626.7h0M510.1 629.3h0M510.6 627.0h0M510.9 627.1h0M507.0 632.6h0M509.1 631.7h0M510.6 628.4h0M514.3 628.5h0M507.1 628.0h0M509.5 632.3h0M508.6 629.5h0M510.1 627.8h0M509.7 629.4h0M508.2 628.0h0M512.4 630.8h0M515.3 635.2h0M509.1 630.9h0M513.0 631.0h0M514.1 627.4h0M514.5 626.2h0M517.1 629.0h0M514.6 637.6h0M517.4 636.9h0M512.3 637.7h0M513.0 638.6h0M517.5 635.5h0M515.3 638.8h0M518.4 637.7h0M519.1 637.8h0M514.2 645.0h0M519.8 639.7h0M517.1 646.6h0M517.2 642.6h0M519.3 640.6h0M516.3 643.8h0M521.0 643.7h0M514.7 643.1h0M521.7 643.7h0M517.3 647.3h0M512.6 643.7h0M521.1 640.9h0M505.3 638.4h0M507.8 635.7h0M505.7 640.2h0M509.3 633.8h0M507.4 642.4h0M510.9 638.2h0M506.1 639.7h0M504.0 641.1h0M504.4 635.0h0M505.5 647.0h0M509.3 648.3h0M509.3 648.5h0M498.8 647.5h0M501.8 643.7h0M503.6 651.1h0M503.5 644.3h0M503.9 643.9h0M506.1 646.1h0M507.6 648.9h0M505.4 647.9h0M499.1 647.8h0M505.0 645.2h0M509.8 646.5h0M506.4 651.0h0M503.8 644.3h0M510.2 648.4h0M505.3 653.1h0M504.0 653.4h0M496.7 651.4h0M499.6 652.5h0M501.5 653.8h0M498.1 654.2h0M501.0 649.1h0M500.0 658.6h0M498.5 654.0h0M501.0 649.0h0M493.8 650.4h0M505.9 661.7h0M504.0 655.0h0M502.5 661.1h0M503.2 662.5h0M502.3 661.4h0M500.4 656.7h0M504.3 655.6h0M497.6 657.1h0M498.8 660.9h0M505.3 657.8h0M505.1 657.5h0M502.4 658.4h0M506.4 662.0h0M492.8 660.7h0M493.2 661.7h0M499.6 658.2h0M493.2 658.0h0M498.4 663.1h0M495.5 664.4h0M491.3 657.5h0" stroke="#20c83c" stroke-width="2.5" stroke-linecap="round" fill="none"/><path d="M484.4 636.1h0M490.1 640.5h0M488.4 639.4h0M485.9 638.5h0M484.0 635.6h0M487.0 634.5h0M482.1 637.3h0M484.2 633.6h0M490.9 642.8h0M491.1 643.2h0M493.8 638.2h0M493.8 640.5h0M496.1 644.2h0M494.9 643.7h0M487.3 639.9h0M487.7 639.5h0M491.0 645.8h0M489.8 640.9h0M495.7 636.0h0M501.9 646.1h0M494.6 647.9h0M493.3 646.5h0M496.9 645.8h0M501.3 644.5h0M498.3 646.7h0M498.8 645.7h0M495.3 642.3h0M503.8 624.3h0M505.7 629.6h0M507.6 630.2h0M508.3 626.3h0M509.8 630.6h0M506.3 626.4h0M502.8 629.1h0M509.6 629.2h0M509.2 632.4h0M513.1 629.9h0M507.0 632.1h0M510.5 625.7h0M509.7 636.3h0M506.1 631.7h0M519.2 636.7h0M513.4 639.2h0M512.9 634.8h0M513.0 635.9h0M519.1 640.7h0M511.6 635.5h0M514.0 639.3h0M513.0 638.1h0M514.6 638.0h0M521.2 638.2h0M517.5 632.7h0M520.6 641.8h0M514.0 644.2h0M516.3 642.5h0M520.3 640.2h0M519.8 644.9h0M514.2 646.3h0M504.9 637.0h0M511.9 637.3h0M510.5 634.8h0M506.5 635.8h0M505.9 634.9h0M510.1 641.8h0M505.7 634.7h0M511.6 640.6h0M511.7 637.6h0M506.3 637.7h0M513.4 638.3h0M508.8 646.8h0M500.7 649.0h0M506.6 648.5h0M509.6 646.8h0M508.3 645.0h0M504.2 650.8h0M509.2 646.1h0M506.2 646.1h0M500.6 645.6h0M503.1 646.7h0M501.3 645.6h0M509.4 643.9h0M501.2 654.5h0M494.9 651.3h0M498.2 651.2h0M494.9 654.8h0M500.6 655.2h0M501.4 650.8h0M501.8 652.1h0M498.3 653.7h0M497.8 649.9h0M493.1 653.8h0M504.5 660.8h0M499.4 656.8h0M507.1 659.2h0M506.6 660.4h0M503.2 655.7h0M504.8 658.6h0M504.2 653.8h0M492.7 659.3h0M498.9 658.4h0M497.3 657.8h0M492.3 661.8h0M496.3 657.2h0M492.7 662.5h0" stroke="#0a5a14" stroke-width="2.5" stroke-linecap="round" fill="none"/><path d="M487.1 641.6h0M488.8 639.3h0M490.2 641.2h0M488.9 633.2h0M489.4 634.6h0M486.0 634.0h0M487.3 640.8h0M486.5 638.4h0M490.4 636.5h0M489.0 633.1h0M489.2 635.0h0M490.6 641.2h0M487.0 635.2h0M487.6 638.7h0M483.0 640.0h0M486.5 631.9h0M492.4 637.7h0M494.3 638.3h0M491.3 641.6h0M492.4 640.4h0M494.1 644.2h0M492.4 638.8h0M496.4 636.4h0M492.0 637.6h0M489.8 641.1h0M487.8 643.4h0M491.7 640.1h0M493.4 642.2h0M502.1 642.3h0M499.9 641.2h0M500.8 648.0h0M501.7 646.2h0M495.7 640.6h0M494.0 647.1h0M493.6 642.9h0M496.9 640.8h0M498.3 642.8h0M497.2 648.5h0M500.1 643.3h0M493.4 647.9h0M504.6 630.2h0M510.8 629.6h0M504.1 623.3h0M503.1 625.4h0M506.9 627.4h0M504.3 624.8h0M504.0 628.2h0M508.8 622.8h0M506.5 627.3h0M503.4 628.3h0M508.5 624.9h0M504.4 631.3h0M503.9 623.3h0M506.0 622.2h0M510.2 622.1h0M512.2 625.3h0M511.9 635.1h0M509.1 632.1h0M512.8 628.5h0M506.7 629.9h0M516.6 631.1h0M510.3 630.4h0M510.5 628.3h0M509.3 635.5h0M514.4 635.1h0M514.1 637.3h0M517.0 639.9h0M519.8 634.7h0M516.9 636.2h0M515.7 640.1h0M517.3 637.7h0M516.0 638.7h0M518.7 636.8h0M513.4 635.4h0M513.0 642.1h0M516.2 645.0h0M514.3 641.3h0M519.5 641.1h0M516.3 646.2h0M515.7 644.3h0M514.3 640.2h0M518.1 642.0h0M519.3 646.3h0M509.5 642.2h0M511.3 634.4h0M509.1 641.8h0M508.6 641.8h0M504.4 638.2h0M511.8 641.9h0M507.6 640.0h0M512.3 641.7h0M509.0 643.5h0M501.8 642.0h0M506.8 646.5h0M509.7 645.5h0M506.8 644.2h0M507.9 648.2h0M501.9 644.6h0M509.7 645.9h0M502.3 646.9h0M501.8 646.2h0M508.2 651.1h0M497.4 656.9h0M497.4 649.8h0M495.3 649.4h0M498.9 651.2h0M495.5 656.0h0M501.5 651.1h0M498.7 650.6h0M495.5 650.8h0M501.1 656.6h0M499.8 652.4h0M503.0 656.3h0M497.5 657.3h0M497.7 654.4h0M497.1 656.4h0M498.9 648.6h0M493.6 653.2h0M503.8 655.2h0M501.7 656.4h0M499.5 655.1h0M497.6 659.0h0M505.1 662.4h0M501.0 659.9h0M503.9 659.9h0M505.0 661.0h0M499.1 658.9h0M506.3 656.7h0M501.5 656.5h0M507.5 659.5h0M506.5 655.5h0M498.7 658.8h0M493.4 656.6h0M499.6 657.9h0M494.1 659.7h0M497.0 657.6h0M494.4 655.5h0M496.8 657.8h0M499.0 661.8h0" stroke="#12982a" stroke-width="2.5" stroke-linecap="round" fill="none"/><path d="M486.5 640.6h0M489.1 640.1h0M490.3 643.4h0M495.4 640.7h0M488.7 638.6h0M488.7 642.6h0M492.7 645.8h0M493.7 646.2h0M493.5 644.5h0M504.4 625.8h0M506.7 622.6h0M507.2 623.5h0M508.3 628.0h0M513.5 634.9h0M511.4 627.8h0M512.1 625.9h0M511.5 627.4h0M510.3 628.6h0M508.4 635.3h0M517.5 634.9h0M516.3 641.4h0M513.3 638.3h0M513.6 636.3h0M521.0 635.3h0M513.8 643.1h0M519.1 644.3h0M512.5 640.4h0M512.2 639.9h0M507.0 634.7h0M505.1 640.6h0M505.5 641.5h0M504.9 636.9h0M509.2 640.1h0M503.5 638.3h0M503.5 643.9h0M505.9 649.1h0M500.6 651.0h0M503.2 655.8h0M499.6 649.5h0M501.8 661.5h0M499.0 661.1h0M503.0 663.4h0M494.8 662.8h0M494.2 662.0h0M493.2 663.0h0M491.5 660.0h0" stroke="#d8403a" stroke-width="1.6" stroke-linecap="round" fill="none"/><path d="M491.7 634.4h0M491.7 636.1h0M492.5 643.8h0M490.7 646.1h0M495.0 643.4h0M508.8 626.5h0M504.6 625.1h0M509.9 629.0h0M517.2 632.3h0M514.9 641.9h0M517.1 641.6h0M516.1 645.5h0M516.0 642.6h0M519.9 641.0h0M509.4 638.0h0M498.8 647.0h0M504.5 640.7h0M500.0 653.8h0M502.4 650.7h0M505.1 653.7h0M498.5 659.5h0M499.8 663.2h0M499.7 658.5h0M498.7 656.8h0M493.1 661.6h0M494.8 657.4h0" stroke="#2030c8" stroke-width="1.6" stroke-linecap="round" fill="none"/><path d="M489.3 633.4h0M508.1 645.7h0M501.1 662.1h0M493.1 659.9h0" stroke="#f0b0a8" stroke-width="1.6" stroke-linecap="round" fill="none"/><path d="M495.1 642.6h0" stroke="#e8d820" stroke-width="1.6" stroke-linecap="round" fill="none"/></g>
<g filter="url(#soft)" opacity="1.0"><circle cx="473.7" cy="670.1" r="4.9" fill="#128226"/><circle cx="477.9" cy="674.3" r="5.5" fill="#128226"/><circle cx="474.7" cy="679.6" r="4.9" fill="#128226"/><circle cx="483.2" cy="680.7" r="5.5" fill="#128226"/><circle cx="489.5" cy="683.8" r="5.9" fill="#128226"/><circle cx="485.3" cy="691.2" r="5.5" fill="#128226"/><circle cx="491.6" cy="693.3" r="5.5" fill="#128226"/><circle cx="499.0" cy="694.4" r="4.3" fill="#128226"/><circle cx="497.9" cy="671.2" r="4.9" fill="#128226"/><circle cx="503.2" cy="673.3" r="5.5" fill="#128226"/><circle cx="502.1" cy="680.7" r="5.5" fill="#128226"/><circle cx="505.3" cy="688.1" r="4.9" fill="#128226"/><circle cx="495.8" cy="679.6" r="4.9" fill="#128226"/><path d="M476.1 669.2h0M475.7 672.2h0M476.6 667.1h0M470.3 668.0h0M474.8 673.3h0M474.7 666.7h0M474.3 668.8h0M477.9 670.9h0M476.5 672.1h0M476.9 666.5h0M473.5 673.2h0M473.7 671.1h0M476.3 676.8h0M479.3 678.8h0M474.2 677.7h0M475.4 677.0h0M480.7 678.0h0M481.3 675.4h0M480.5 669.6h0M478.7 671.4h0M474.8 677.3h0M483.5 674.4h0M474.8 678.8h0M481.4 673.6h0M474.8 677.0h0M478.4 677.0h0M479.7 672.2h0M480.7 671.2h0M478.4 670.7h0M480.4 669.0h0M478.2 682.7h0M471.8 682.1h0M472.1 682.2h0M478.5 681.7h0M478.0 680.5h0M477.6 680.8h0M473.8 677.0h0M478.6 682.9h0M475.2 685.0h0M471.8 684.1h0M478.3 679.5h0M483.7 686.1h0M478.8 677.7h0M484.6 685.7h0M488.0 683.5h0M479.4 677.2h0M485.7 682.6h0M482.6 684.5h0M481.7 677.8h0M479.5 684.8h0M488.7 677.9h0M493.6 686.4h0M491.4 681.8h0M491.6 679.3h0M488.5 681.7h0M486.3 680.9h0M492.5 686.3h0M487.2 679.9h0M490.8 685.3h0M493.6 687.9h0M485.0 681.6h0M490.9 685.1h0M486.5 685.1h0M495.3 684.8h0M491.0 677.5h0M482.5 691.8h0M489.8 688.9h0M485.1 687.6h0M490.2 690.3h0M486.9 688.0h0M485.7 695.4h0M485.7 693.7h0M484.1 696.6h0M486.2 691.2h0M486.2 692.2h0M486.2 694.3h0M486.7 692.4h0M488.2 695.7h0M479.8 689.0h0M489.6 693.6h0M488.2 692.5h0M487.7 691.1h0M495.7 694.5h0M495.3 697.2h0M487.7 697.0h0M494.2 695.6h0M489.6 696.3h0M491.0 695.2h0M493.2 697.7h0M492.0 694.8h0M488.8 697.7h0M496.1 697.3h0M493.7 698.6h0M490.1 699.0h0M495.4 689.0h0M499.3 697.3h0M494.7 695.4h0M497.0 690.5h0M500.0 697.1h0M496.8 694.1h0M499.4 698.8h0M496.7 690.2h0M500.9 673.1h0M498.4 672.9h0M494.0 669.2h0M494.1 669.3h0M500.7 671.2h0M493.6 673.4h0M498.0 666.4h0M500.2 672.7h0M499.9 673.9h0M502.6 669.5h0M494.6 671.3h0M499.2 676.5h0M500.9 666.4h0M502.7 670.8h0M500.2 674.0h0M503.2 668.6h0M503.2 676.7h0M502.2 675.2h0M501.2 670.0h0M505.6 677.2h0M502.8 670.5h0M504.7 673.5h0M504.9 677.3h0M502.7 676.6h0M498.7 673.0h0M507.2 677.5h0M508.3 670.8h0M502.9 681.7h0M501.6 684.5h0M505.9 683.6h0M503.5 678.9h0M504.8 682.1h0M506.7 679.9h0M505.1 677.2h0M501.8 676.7h0M505.7 684.8h0M499.4 682.7h0M508.2 682.5h0M500.0 686.5h0M502.9 684.9h0M510.1 686.8h0M509.0 687.7h0M507.0 688.2h0M503.8 692.6h0M504.5 688.3h0M507.7 691.5h0M504.5 688.3h0M509.4 688.3h0M509.3 691.4h0M503.3 692.7h0M500.9 690.4h0M492.2 680.8h0M496.6 675.8h0M498.7 682.7h0M494.8 682.2h0M495.8 678.5h0M499.3 681.2h0M495.0 683.8h0M500.1 678.8h0M500.1 681.2h0M495.8 675.7h0M491.7 676.3h0" stroke="#20c83c" stroke-width="2.5" stroke-linecap="round" fill="none"/><path d="M473.3 666.1h0M475.1 674.9h0M477.5 672.8h0M472.2 669.9h0M472.2 666.8h0M476.0 669.2h0M475.2 673.8h0M472.7 674.9h0M470.4 666.1h0M478.4 667.2h0M475.1 670.7h0M473.2 675.9h0M480.1 671.6h0M476.4 669.0h0M483.0 675.3h0M474.6 677.2h0M473.6 682.6h0M472.4 677.8h0M477.0 676.6h0M476.8 675.1h0M477.4 681.8h0M473.3 681.8h0M479.0 677.5h0M476.9 684.0h0M488.6 681.7h0M480.5 682.1h0M480.5 682.9h0M483.5 685.4h0M478.4 681.5h0M486.3 681.5h0M484.9 680.9h0M485.4 675.6h0M478.2 680.3h0M484.2 676.8h0M483.0 675.1h0M488.9 687.0h0M487.7 684.1h0M492.3 682.3h0M491.0 688.6h0M493.0 686.5h0M489.4 689.2h0M484.7 687.3h0M490.4 687.6h0M490.6 683.3h0M484.9 681.7h0M489.3 681.1h0M488.3 685.7h0M491.8 685.0h0M481.2 688.0h0M485.4 690.6h0M484.2 687.0h0M490.2 692.4h0M489.7 694.4h0M485.3 689.6h0M485.9 690.5h0M485.0 691.0h0M483.3 688.0h0M480.7 695.0h0M488.6 692.7h0M496.1 693.9h0M494.6 689.8h0M488.8 693.9h0M488.3 696.1h0M488.5 689.5h0M487.9 694.0h0M495.5 694.4h0M492.7 697.9h0M494.2 692.8h0M495.7 694.1h0M498.6 690.5h0M501.4 694.2h0M497.2 696.7h0M496.1 691.5h0M498.2 690.8h0M500.8 692.7h0M498.5 670.9h0M501.0 674.2h0M498.5 670.6h0M501.0 667.9h0M493.8 672.6h0M495.9 672.7h0M497.7 673.5h0M497.8 670.0h0M501.0 672.5h0M504.0 671.7h0M505.1 676.0h0M502.5 676.5h0M506.6 676.3h0M501.1 670.1h0M503.6 668.8h0M506.5 672.2h0M501.4 671.5h0M505.4 670.2h0M502.3 676.8h0M502.7 667.7h0M502.1 679.7h0M498.3 682.3h0M499.7 679.4h0M500.7 680.5h0M501.1 677.4h0M504.5 676.0h0M504.7 678.8h0M500.6 677.4h0M498.4 681.9h0M499.0 676.9h0M504.8 683.2h0M502.3 683.2h0M507.7 678.5h0M501.7 686.1h0M504.7 691.8h0M504.2 692.2h0M508.1 687.5h0M506.9 685.8h0M506.3 693.3h0M510.3 686.1h0M494.0 675.4h0M500.6 680.9h0M497.5 678.1h0M499.9 676.9h0M498.4 682.6h0M494.0 677.8h0M498.7 682.3h0M494.4 674.3h0" stroke="#0a5a14" stroke-width="2.5" stroke-linecap="round" fill="none"/><path d="M477.0 672.7h0M472.4 667.2h0M472.1 672.1h0M472.4 668.7h0M472.6 668.4h0M477.0 669.9h0M470.4 670.4h0M476.3 673.4h0M471.0 671.5h0M471.8 674.7h0M469.0 672.8h0M468.4 668.6h0M475.9 665.0h0M477.7 678.1h0M478.3 676.5h0M482.0 672.5h0M477.9 679.0h0M481.5 678.5h0M481.2 675.9h0M478.9 670.8h0M475.8 670.2h0M477.7 669.9h0M479.3 677.5h0M483.5 675.6h0M472.3 675.0h0M475.8 681.6h0M475.2 676.3h0M474.8 678.2h0M475.8 677.4h0M475.7 683.2h0M473.8 680.5h0M479.1 678.9h0M477.6 681.8h0M472.2 683.4h0M477.5 683.6h0M476.5 681.3h0M482.5 682.5h0M478.9 680.4h0M488.3 678.9h0M482.7 681.2h0M482.2 684.5h0M485.8 675.9h0M481.0 684.3h0M482.7 680.2h0M482.4 675.6h0M486.5 677.5h0M485.9 675.2h0M493.0 680.2h0M485.4 684.2h0M487.4 683.2h0M489.5 683.7h0M488.8 687.6h0M488.6 684.4h0M488.6 679.8h0M490.3 681.4h0M490.3 683.5h0M491.6 685.8h0M483.7 684.2h0M484.9 693.0h0M485.0 688.9h0M486.5 693.0h0M490.3 693.4h0M485.8 692.5h0M484.6 695.0h0M482.0 693.5h0M482.2 692.2h0M482.5 690.6h0M483.5 696.6h0M486.0 693.5h0M489.4 693.1h0M496.6 695.5h0M487.0 693.8h0M491.0 688.3h0M493.7 695.6h0M496.5 691.5h0M486.6 692.8h0M486.6 694.6h0M492.7 690.7h0M502.2 696.3h0M497.2 696.6h0M498.3 698.2h0M503.4 694.9h0M493.3 671.1h0M499.0 674.1h0M498.1 675.3h0M495.6 667.3h0M500.9 670.7h0M496.9 668.4h0M498.1 666.5h0M494.1 671.1h0M502.8 671.9h0M497.2 672.9h0M498.7 667.0h0M493.2 673.2h0M492.8 670.9h0M493.8 667.9h0M503.5 674.0h0M504.6 674.2h0M506.1 677.5h0M506.4 675.8h0M501.8 674.6h0M503.9 670.7h0M499.1 676.4h0M503.1 675.0h0M500.7 674.0h0M499.7 672.0h0M499.6 674.5h0M503.2 674.0h0M503.2 670.5h0M501.4 675.4h0M503.3 680.0h0M503.1 682.5h0M504.6 678.9h0M503.8 683.2h0M505.9 681.5h0M497.9 679.2h0M505.3 683.6h0M499.7 681.9h0M502.7 686.2h0M500.3 679.9h0M508.2 689.9h0M504.0 688.9h0M501.6 685.9h0M500.7 686.9h0M504.1 692.5h0M502.5 688.5h0M508.5 685.4h0M506.0 692.4h0M507.1 690.1h0M502.5 688.6h0M510.8 689.0h0M508.0 683.7h0M492.8 679.8h0M497.9 682.8h0M497.1 675.4h0M498.3 676.9h0M496.4 680.4h0M491.7 680.2h0M495.1 683.3h0M492.5 676.7h0M496.2 685.2h0M490.5 678.6h0" stroke="#12982a" stroke-width="2.5" stroke-linecap="round" fill="none"/><path d="M475.4 671.7h0M470.8 674.4h0M473.5 664.8h0M472.6 675.4h0M476.2 673.9h0M472.9 676.8h0M483.3 674.0h0M479.8 671.1h0M478.7 668.8h0M477.5 679.9h0M477.3 676.6h0M472.5 678.8h0M477.7 679.1h0M469.9 681.3h0M470.0 678.4h0M486.8 679.1h0M479.9 681.6h0M478.6 683.5h0M486.1 681.4h0M483.8 684.2h0M482.4 680.5h0M485.5 681.2h0M489.7 689.6h0M488.2 682.3h0M490.8 687.8h0M484.6 681.3h0M494.0 687.6h0M486.3 692.4h0M482.1 691.5h0M488.0 691.2h0M486.3 695.8h0M479.4 691.9h0M482.7 686.3h0M493.0 696.4h0M492.6 689.7h0M494.1 688.4h0M487.1 697.5h0M497.8 690.4h0M496.2 693.2h0M499.1 691.8h0M494.9 695.7h0M495.6 694.9h0M494.8 693.9h0M498.9 691.5h0M495.7 697.5h0M500.1 689.9h0M502.9 691.9h0M498.4 671.4h0M496.5 666.5h0M500.1 674.8h0M509.2 675.0h0M499.6 676.2h0M502.8 676.9h0M503.5 675.7h0M503.6 684.7h0M504.3 685.0h0M497.1 679.1h0M497.8 684.4h0M508.9 686.3h0M501.9 685.8h0M501.4 689.1h0M500.4 686.8h0M496.1 680.9h0M492.9 680.2h0" stroke="#d8403a" stroke-width="1.6" stroke-linecap="round" fill="none"/><path d="M477.8 670.6h0M482.2 676.1h0M474.9 673.8h0M483.0 671.3h0M478.7 678.4h0M474.1 681.6h0M470.9 676.0h0M479.6 676.4h0M481.6 683.0h0M479.7 682.1h0M482.9 676.8h0M481.9 683.2h0M480.6 686.0h0M494.0 683.7h0M487.0 686.2h0M491.4 678.5h0M486.1 684.4h0M486.9 687.3h0M489.3 694.3h0M485.9 689.9h0M486.3 696.9h0M492.8 697.8h0M492.8 694.6h0M501.5 694.5h0M497.7 691.3h0M502.5 697.8h0M505.0 668.7h0M505.7 668.3h0M503.0 685.6h0M509.9 688.4h0M503.3 686.3h0M505.7 686.1h0M506.9 685.2h0M498.3 683.3h0M495.4 679.9h0M497.1 675.7h0" stroke="#2030c8" stroke-width="1.6" stroke-linecap="round" fill="none"/><path d="M490.2 693.5h0M495.0 696.9h0M486.9 694.7h0M496.4 697.6h0M499.0 675.2h0M504.5 683.7h0M506.4 686.4h0M491.4 678.0h0M491.8 678.9h0" stroke="#f0b0a8" stroke-width="1.6" stroke-linecap="round" fill="none"/><path d="M486.1 692.3h0M482.0 689.1h0M493.4 693.1h0M504.6 673.9h0" stroke="#e8d820" stroke-width="1.6" stroke-linecap="round" fill="none"/></g>
<g filter="url(#soft)" opacity="1.0"><circle cx="519.0" cy="649.0" r="5.5" fill="#128226"/><circle cx="525.4" cy="648.0" r="4.9" fill="#128226"/><circle cx="529.6" cy="652.2" r="4.3" fill="#128226"/><circle cx="521.1" cy="655.4" r="5.5" fill="#128226"/><circle cx="514.8" cy="663.8" r="5.5" fill="#128226"/><circle cx="511.6" cy="669.1" r="4.9" fill="#128226"/><circle cx="519.0" cy="671.2" r="5.9" fill="#128226"/><circle cx="527.5" cy="672.2" r="5.5" fill="#128226"/><circle cx="534.8" cy="670.1" r="5.5" fill="#128226"/><circle cx="541.2" cy="673.3" r="4.9" fill="#128226"/><circle cx="521.1" cy="679.6" r="5.5" fill="#128226"/><circle cx="519.0" cy="684.9" r="4.3" fill="#128226"/><circle cx="531.7" cy="677.5" r="4.3" fill="#128226"/><path d="M522.1 653.7h0M518.2 646.2h0M521.1 649.3h0M520.6 650.2h0M515.8 651.3h0M522.2 648.0h0M518.9 646.0h0M523.3 645.7h0M515.1 646.4h0M523.2 645.7h0M516.9 648.8h0M514.4 652.1h0M523.7 645.2h0M525.4 652.9h0M523.0 652.1h0M522.1 646.4h0M527.7 651.3h0M527.6 643.1h0M530.1 655.7h0M528.2 648.7h0M533.3 653.2h0M530.4 649.7h0M527.3 655.5h0M532.8 649.3h0M532.5 655.8h0M523.9 657.4h0M521.3 657.3h0M523.7 655.4h0M519.0 653.6h0M519.1 660.5h0M517.5 657.9h0M526.6 655.7h0M521.0 649.9h0M516.3 659.2h0M516.4 662.5h0M514.3 669.2h0M515.0 659.7h0M516.4 661.6h0M517.6 662.3h0M518.6 665.7h0M514.0 660.7h0M516.6 666.0h0M509.6 665.1h0M512.9 660.7h0M517.1 661.5h0M520.0 664.6h0M517.6 668.2h0M511.2 660.2h0M515.6 665.6h0M512.0 658.5h0M514.3 666.7h0M511.2 670.3h0M512.7 672.7h0M508.6 666.2h0M507.3 669.3h0M516.1 669.7h0M513.5 665.7h0M512.4 672.2h0M511.4 665.8h0M509.4 668.7h0M511.9 672.4h0M508.1 668.3h0M518.2 667.2h0M513.7 669.8h0M516.4 673.5h0M518.8 676.7h0M522.3 675.0h0M523.0 674.7h0M514.7 673.0h0M518.8 666.8h0M519.6 665.3h0M520.1 675.3h0M521.8 674.7h0M520.7 676.3h0M519.1 667.2h0M515.7 676.0h0M513.3 674.1h0M520.7 665.4h0M526.2 671.9h0M531.2 671.3h0M531.7 672.2h0M523.9 670.9h0M523.3 671.7h0M524.6 674.0h0M528.5 673.6h0M528.5 676.9h0M529.7 674.5h0M526.1 672.3h0M536.0 675.3h0M537.0 673.1h0M531.2 669.2h0M539.4 669.9h0M539.9 669.7h0M536.6 672.6h0M534.1 672.6h0M532.9 671.4h0M533.3 667.9h0M538.1 669.5h0M539.2 671.8h0M538.1 671.8h0M536.5 675.4h0M537.9 665.1h0M545.1 676.2h0M543.9 671.7h0M545.1 670.3h0M539.7 674.5h0M544.6 670.6h0M545.6 672.5h0M536.7 672.0h0M546.1 673.2h0M537.9 672.1h0M542.4 678.2h0M543.0 668.0h0M518.4 682.5h0M516.7 680.3h0M519.4 683.2h0M524.0 679.7h0M524.4 677.0h0M522.1 682.5h0M515.9 680.9h0M519.4 683.1h0M517.3 681.5h0M522.6 680.2h0M517.4 678.3h0M519.1 675.1h0M521.5 675.9h0M516.1 676.4h0M520.2 686.7h0M518.2 686.3h0M520.8 681.0h0M518.8 687.2h0M518.2 688.9h0M519.9 686.1h0M517.8 685.3h0M523.7 686.0h0M514.8 686.2h0M533.5 676.3h0M531.9 674.8h0M529.9 673.8h0M531.0 676.6h0M530.2 678.5h0M533.4 674.5h0M528.3 678.9h0M532.1 682.3h0M527.4 678.7h0" stroke="#20c83c" stroke-width="2.5" stroke-linecap="round" fill="none"/><path d="M521.8 649.0h0M516.3 648.8h0M517.1 653.8h0M521.7 647.2h0M517.1 649.3h0M519.5 649.3h0M517.0 646.3h0M517.4 646.1h0M517.8 646.1h0M515.3 646.2h0M513.3 646.4h0M525.7 651.7h0M528.1 650.4h0M528.4 649.1h0M521.9 647.9h0M521.6 648.7h0M524.5 648.2h0M521.0 649.0h0M526.2 652.3h0M523.3 652.1h0M529.7 654.4h0M531.2 651.5h0M527.9 654.4h0M526.7 650.4h0M528.3 649.3h0M524.0 658.5h0M520.0 656.5h0M523.7 659.9h0M516.7 653.6h0M518.9 650.8h0M525.0 655.0h0M516.4 654.9h0M525.0 655.9h0M517.5 655.4h0M521.2 654.4h0M516.0 668.4h0M510.4 666.2h0M515.6 666.2h0M518.1 665.4h0M516.8 658.9h0M518.7 666.9h0M515.6 663.2h0M515.3 663.1h0M518.1 659.4h0M519.7 661.0h0M510.0 667.1h0M514.2 670.9h0M513.4 671.0h0M511.5 669.7h0M512.5 673.1h0M516.2 670.2h0M508.7 668.3h0M512.9 672.2h0M509.5 673.9h0M508.0 665.6h0M516.4 676.0h0M519.4 669.3h0M518.7 667.4h0M516.0 666.1h0M520.9 676.2h0M517.8 673.4h0M514.4 670.0h0M516.6 671.9h0M519.1 665.7h0M522.4 666.2h0M525.6 668.8h0M522.9 671.3h0M526.5 669.6h0M526.5 669.9h0M529.9 668.7h0M531.8 671.9h0M526.2 669.1h0M530.6 667.7h0M524.7 675.5h0M538.4 667.4h0M529.7 668.0h0M539.5 671.4h0M531.6 670.1h0M539.7 672.7h0M536.7 672.0h0M539.1 670.0h0M533.7 665.8h0M536.8 670.2h0M532.2 672.3h0M534.3 673.8h0M534.4 672.3h0M538.4 666.4h0M538.5 672.8h0M535.0 666.2h0M539.7 675.3h0M543.4 670.3h0M543.2 677.0h0M538.7 670.2h0M544.0 677.3h0M542.4 671.3h0M540.0 677.4h0M539.1 674.9h0M542.6 669.6h0M540.4 672.4h0M546.5 674.8h0M545.2 677.1h0M536.3 675.8h0M516.1 681.0h0M524.9 679.6h0M521.4 681.4h0M520.9 681.5h0M520.9 684.8h0M522.6 682.5h0M520.9 674.7h0M518.0 679.4h0M517.1 688.4h0M521.3 684.8h0M517.1 683.0h0M522.7 688.1h0M532.1 676.3h0M530.7 681.7h0M530.3 678.4h0M529.3 676.1h0M535.0 680.4h0" stroke="#0a5a14" stroke-width="2.5" stroke-linecap="round" fill="none"/><path d="M519.6 648.9h0M517.6 649.8h0M523.3 647.3h0M514.0 650.0h0M523.8 651.4h0M515.6 647.4h0M515.6 645.8h0M517.1 653.7h0M513.0 650.1h0M522.5 644.2h0M527.7 651.5h0M529.8 649.8h0M525.7 646.4h0M526.5 651.9h0M527.5 645.8h0M522.9 643.6h0M526.4 645.0h0M523.1 644.5h0M528.8 651.2h0M529.6 645.2h0M530.4 654.2h0M527.2 648.6h0M525.8 651.4h0M528.8 648.8h0M532.6 649.6h0M528.1 652.8h0M532.2 652.9h0M527.9 652.2h0M530.4 649.2h0M533.5 649.6h0M517.2 659.1h0M520.8 650.6h0M523.7 658.3h0M524.1 658.8h0M525.7 655.3h0M522.5 657.7h0M520.4 656.3h0M519.8 652.0h0M526.1 655.9h0M515.9 653.9h0M517.1 658.8h0M523.1 658.1h0M515.8 654.8h0M521.0 655.8h0M526.4 658.9h0M522.0 660.9h0M515.7 662.9h0M512.7 662.7h0M519.2 662.6h0M512.6 666.7h0M511.6 661.5h0M512.2 664.8h0M513.1 662.5h0M515.2 666.6h0M517.3 659.5h0M516.0 659.6h0M514.8 658.5h0M509.5 662.1h0M510.7 670.3h0M508.0 666.8h0M514.4 671.5h0M509.9 671.8h0M514.7 671.9h0M523.1 672.4h0M518.5 676.0h0M516.9 672.6h0M521.6 668.6h0M522.6 674.9h0M519.3 673.3h0M518.1 676.3h0M520.0 670.3h0M519.6 674.7h0M521.3 675.2h0M523.6 668.7h0M519.3 672.9h0M522.4 675.4h0M518.0 676.9h0M527.1 676.7h0M530.5 668.2h0M524.8 669.8h0M525.3 668.5h0M525.4 670.1h0M531.3 669.6h0M527.9 668.2h0M529.2 676.1h0M529.9 669.2h0M527.5 673.3h0M524.5 667.3h0M527.6 666.5h0M534.1 665.8h0M538.0 668.0h0M536.6 670.3h0M535.9 669.2h0M535.2 669.7h0M538.9 671.3h0M530.6 672.5h0M538.2 672.6h0M540.2 668.3h0M542.9 668.6h0M543.1 672.4h0M542.6 676.1h0M537.1 675.0h0M540.4 672.2h0M540.1 673.2h0M544.4 675.3h0M545.7 671.5h0M542.9 671.6h0M544.2 671.3h0M540.0 667.8h0M546.3 671.1h0M521.7 679.8h0M526.2 677.3h0M522.2 674.8h0M517.4 678.6h0M521.3 676.2h0M522.7 674.9h0M522.2 685.0h0M519.6 678.6h0M521.8 684.9h0M522.0 681.4h0M519.4 683.0h0M526.6 680.3h0M526.2 683.0h0M515.6 680.9h0M515.7 683.1h0M518.3 688.0h0M519.8 687.8h0M518.2 682.2h0M521.5 682.7h0M517.6 687.6h0M520.0 682.1h0M520.9 684.7h0M519.5 686.7h0M518.4 689.8h0M531.6 677.2h0M534.5 674.2h0M533.0 680.7h0M532.4 676.5h0M529.9 675.8h0M531.3 681.5h0M531.1 678.0h0M536.4 678.2h0M528.8 681.6h0" stroke="#12982a" stroke-width="2.5" stroke-linecap="round" fill="none"/><path d="M522.4 645.8h0M519.7 654.2h0M519.8 646.5h0M516.3 652.3h0M516.8 646.2h0M518.1 652.9h0M515.4 652.6h0M520.4 649.4h0M522.2 648.8h0M516.5 644.1h0M518.4 643.0h0M524.7 644.4h0M525.6 649.9h0M527.4 652.1h0M524.9 651.7h0M521.8 643.7h0M527.3 654.9h0M529.3 652.5h0M528.6 652.8h0M534.3 653.6h0M530.7 647.7h0M523.9 650.5h0M517.2 656.9h0M523.8 656.6h0M520.0 658.6h0M518.0 658.7h0M519.0 651.5h0M527.1 656.9h0M515.6 656.8h0M515.7 662.9h0M514.0 667.8h0M515.4 660.5h0M513.0 665.3h0M514.2 669.3h0M520.9 665.3h0M509.1 663.8h0M512.3 666.0h0M515.8 669.4h0M511.7 674.6h0M506.7 671.5h0M506.4 667.5h0M520.1 667.3h0M521.9 672.9h0M517.0 669.1h0M518.0 669.2h0M516.5 674.8h0M513.5 673.5h0M521.9 670.9h0M525.4 675.0h0M527.0 667.5h0M522.4 670.6h0M523.5 670.3h0M531.1 674.9h0M523.3 675.8h0M527.0 669.1h0M537.4 671.6h0M537.0 665.2h0M538.7 667.4h0M535.9 673.6h0M543.0 674.1h0M538.2 669.3h0M538.4 677.9h0M519.6 684.5h0M526.5 680.6h0M524.9 677.9h0M522.7 686.3h0M532.1 674.3h0M534.0 677.0h0M531.8 680.7h0M533.5 674.9h0" stroke="#d8403a" stroke-width="1.6" stroke-linecap="round" fill="none"/><path d="M522.9 648.9h0M525.5 645.9h0M522.0 649.0h0M531.0 648.2h0M524.2 642.9h0M531.2 654.2h0M529.3 656.6h0M526.4 655.4h0M523.7 660.1h0M521.2 653.2h0M510.8 666.7h0M515.7 657.6h0M513.2 666.8h0M513.8 671.8h0M516.5 669.9h0M522.6 672.1h0M529.3 671.0h0M524.8 672.6h0M527.1 676.9h0M534.3 673.6h0M532.0 665.2h0M535.4 664.2h0M538.7 670.0h0M517.8 675.5h0M518.1 683.9h0M522.9 686.1h0M515.2 683.4h0M516.2 688.3h0M516.3 689.1h0M515.3 682.4h0M531.6 674.1h0M534.4 681.0h0" stroke="#2030c8" stroke-width="1.6" stroke-linecap="round" fill="none"/><path d="M515.1 649.0h0M522.9 651.9h0M521.1 650.2h0M529.8 655.9h0M514.1 665.9h0M508.0 670.6h0M523.0 667.0h0M518.7 676.2h0M519.5 666.1h0M525.0 681.5h0M525.2 680.2h0M517.9 678.8h0M520.4 683.0h0M522.3 682.1h0M529.6 678.0h0" stroke="#f0b0a8" stroke-width="1.6" stroke-linecap="round" fill="none"/><path d="M527.1 649.9h0" stroke="#e8d820" stroke-width="1.6" stroke-linecap="round" fill="none"/></g>
<g filter="url(#soft)" opacity="1.0"><circle cx="538.0" cy="635.3" r="5.5" fill="#128226"/><circle cx="543.3" cy="637.4" r="5.5" fill="#128226"/><circle cx="545.4" cy="641.6" r="4.3" fill="#128226"/><circle cx="552.8" cy="625.8" r="4.9" fill="#128226"/><circle cx="558.1" cy="629.0" r="5.9" fill="#128226"/><circle cx="563.3" cy="633.2" r="4.9" fill="#128226"/><circle cx="561.2" cy="641.6" r="5.5" fill="#128226"/><circle cx="565.4" cy="644.8" r="4.9" fill="#128226"/><circle cx="555.9" cy="648.0" r="5.5" fill="#128226"/><circle cx="552.8" cy="656.4" r="5.5" fill="#128226"/><circle cx="558.1" cy="660.6" r="4.9" fill="#128226"/><circle cx="549.6" cy="644.8" r="4.9" fill="#128226"/><circle cx="548.6" cy="661.7" r="4.3" fill="#128226"/><path d="M537.8 639.8h0M537.0 638.4h0M539.6 631.0h0M538.5 638.4h0M539.0 631.4h0M540.1 635.6h0M535.2 631.1h0M539.4 636.3h0M537.9 637.7h0M532.7 634.5h0M540.1 638.1h0M539.0 635.6h0M540.6 632.7h0M532.7 632.2h0M537.9 629.5h0M548.3 639.2h0M544.8 636.4h0M545.4 632.4h0M547.3 641.1h0M544.3 641.0h0M544.6 638.3h0M545.8 639.8h0M543.1 634.0h0M543.9 638.6h0M545.9 642.0h0M538.9 640.1h0M540.6 635.8h0M545.4 639.9h0M545.3 640.8h0M546.0 641.6h0M545.2 639.4h0M542.8 641.7h0M549.6 640.4h0M545.6 638.1h0M542.3 642.5h0M544.4 638.6h0M548.5 641.4h0M542.9 638.9h0M551.5 628.0h0M550.9 625.5h0M553.6 624.3h0M556.6 627.1h0M554.5 624.4h0M555.1 622.0h0M557.1 624.6h0M553.8 627.4h0M552.2 622.9h0M549.7 627.5h0M554.0 629.3h0M549.9 623.6h0M556.7 633.1h0M555.2 625.1h0M553.1 631.1h0M557.2 625.7h0M556.2 633.2h0M561.8 628.1h0M557.6 629.8h0M558.1 627.5h0M553.9 625.7h0M558.5 626.2h0M555.8 627.9h0M561.1 631.2h0M561.6 631.8h0M564.1 629.0h0M556.7 634.8h0M554.0 633.3h0M552.3 631.7h0M565.6 630.2h0M560.7 634.7h0M566.1 631.0h0M561.2 636.4h0M564.4 637.3h0M563.9 632.8h0M568.0 630.4h0M563.8 640.6h0M556.9 640.4h0M559.9 641.8h0M565.0 639.5h0M560.3 638.7h0M557.2 643.9h0M565.2 637.8h0M557.5 640.0h0M563.7 645.5h0M565.1 637.9h0M562.7 641.9h0M558.0 637.3h0M564.6 639.6h0M566.8 639.6h0M568.2 644.6h0M569.7 643.2h0M561.6 644.2h0M565.7 645.6h0M565.7 649.3h0M568.1 641.6h0M567.8 647.4h0M564.1 643.3h0M567.2 647.6h0M568.8 641.8h0M565.8 649.1h0M561.4 646.2h0M568.8 646.3h0M562.7 648.9h0M558.6 647.1h0M556.3 645.2h0M559.0 644.8h0M559.2 651.2h0M551.7 648.0h0M554.0 650.5h0M555.1 648.8h0M557.5 647.8h0M560.6 649.6h0M555.3 645.1h0M553.9 651.9h0M555.6 656.0h0M553.5 656.7h0M557.6 653.6h0M550.7 653.1h0M551.5 651.6h0M555.9 656.2h0M558.7 663.1h0M559.3 663.4h0M562.9 660.6h0M558.4 663.5h0M554.3 657.8h0M557.4 663.7h0M555.6 656.4h0M560.6 659.3h0M559.9 657.7h0M560.6 656.8h0M561.8 659.6h0M547.4 645.1h0M550.3 646.5h0M551.0 649.5h0M551.0 649.1h0M550.0 647.0h0M545.5 641.9h0M549.2 641.8h0M549.1 648.1h0M548.5 646.5h0M549.5 640.5h0M550.5 639.9h0M548.4 642.9h0M547.5 649.3h0M554.3 642.9h0M548.5 660.4h0M549.4 661.8h0M548.2 661.0h0M550.9 659.2h0M544.8 663.1h0M549.9 665.5h0M544.2 660.8h0M544.6 660.6h0M552.9 662.6h0M544.6 659.0h0M547.4 657.0h0" stroke="#20c83c" stroke-width="2.5" stroke-linecap="round" fill="none"/><path d="M535.5 638.3h0M533.7 636.5h0M538.8 632.1h0M534.6 631.0h0M539.8 637.9h0M543.1 635.7h0M533.8 636.6h0M535.2 637.2h0M536.1 632.3h0M533.3 636.4h0M535.3 630.6h0M540.1 636.9h0M539.5 636.5h0M539.6 633.3h0M541.1 635.7h0M539.6 641.0h0M532.3 635.7h0M542.3 635.0h0M547.2 640.9h0M548.7 638.9h0M539.1 640.5h0M546.5 635.0h0M547.2 635.4h0M541.5 642.6h0M545.5 635.6h0M538.9 641.9h0M549.1 635.5h0M546.8 644.1h0M547.4 642.5h0M547.5 643.6h0M548.5 640.1h0M545.7 643.5h0M546.0 638.9h0M549.8 642.2h0M542.5 643.5h0M547.6 642.3h0M546.7 639.5h0M549.8 639.7h0M554.0 625.6h0M551.1 628.6h0M550.6 625.4h0M554.1 621.6h0M550.4 625.2h0M550.8 630.4h0M547.4 624.8h0M551.6 620.4h0M560.2 624.2h0M559.9 625.8h0M562.1 628.4h0M555.8 631.1h0M557.4 630.8h0M556.7 631.3h0M561.2 625.1h0M562.7 631.2h0M561.7 633.0h0M567.6 632.3h0M558.5 633.1h0M560.5 629.4h0M565.1 632.5h0M562.3 636.5h0M563.4 637.2h0M563.4 637.9h0M564.5 629.2h0M558.5 635.0h0M559.3 640.7h0M560.9 645.4h0M557.1 643.4h0M564.2 639.8h0M559.6 641.4h0M556.1 641.6h0M559.9 641.9h0M558.2 637.7h0M562.1 642.1h0M560.4 644.6h0M557.4 641.1h0M560.9 640.7h0M561.7 639.4h0M566.9 646.5h0M563.6 641.5h0M562.7 646.0h0M566.2 643.5h0M565.7 645.4h0M570.6 646.0h0M556.1 644.2h0M560.3 651.0h0M559.9 646.2h0M551.9 649.6h0M553.0 643.2h0M559.2 647.1h0M554.6 650.4h0M558.0 654.6h0M554.4 653.3h0M551.4 656.1h0M555.6 657.8h0M557.6 657.3h0M550.9 658.5h0M556.8 653.0h0M554.7 651.8h0M554.8 652.0h0M557.0 657.1h0M553.8 655.3h0M554.7 651.5h0M554.7 651.8h0M551.8 653.1h0M553.7 662.5h0M558.4 654.6h0M559.6 659.2h0M558.1 663.2h0M559.0 660.1h0M556.9 663.3h0M561.2 662.5h0M554.8 657.0h0M555.1 665.1h0M552.0 640.7h0M548.0 643.4h0M550.5 648.4h0M551.2 645.0h0M549.9 644.6h0M550.3 648.9h0M550.7 648.8h0M554.1 646.5h0M549.8 650.1h0M552.6 640.2h0M550.5 659.5h0M551.1 659.5h0M544.8 659.4h0M552.0 665.1h0M548.3 666.4h0M544.2 662.9h0" stroke="#0a5a14" stroke-width="2.5" stroke-linecap="round" fill="none"/><path d="M534.6 636.5h0M537.9 632.2h0M542.3 637.2h0M541.4 633.4h0M532.5 634.9h0M538.2 633.1h0M539.8 639.5h0M536.2 640.9h0M534.0 639.8h0M534.8 630.7h0M541.3 630.2h0M543.1 632.5h0M546.2 633.1h0M538.9 637.0h0M540.7 637.3h0M540.5 641.3h0M545.0 641.5h0M546.0 641.2h0M543.8 633.8h0M539.1 640.1h0M539.2 639.9h0M546.4 636.8h0M540.6 638.7h0M541.9 638.3h0M543.0 635.9h0M547.3 640.0h0M542.7 645.7h0M541.1 642.4h0M552.4 629.4h0M555.7 626.1h0M549.2 622.7h0M548.7 624.4h0M553.6 630.0h0M553.9 626.7h0M550.2 626.9h0M554.6 629.6h0M548.9 628.8h0M553.0 630.6h0M548.7 627.5h0M550.3 625.6h0M548.8 622.4h0M557.2 623.3h0M563.2 627.4h0M558.1 633.7h0M562.3 626.5h0M556.4 627.6h0M557.3 631.5h0M561.8 625.2h0M555.7 626.1h0M556.6 633.5h0M558.2 625.8h0M556.2 630.9h0M557.3 625.3h0M556.1 633.9h0M555.0 627.7h0M558.3 634.9h0M557.0 627.1h0M559.2 629.1h0M559.6 622.7h0M561.6 636.9h0M564.6 635.4h0M564.4 631.2h0M564.8 632.1h0M564.1 635.4h0M568.6 634.4h0M566.2 628.8h0M556.1 640.2h0M562.9 641.1h0M557.6 643.7h0M562.2 637.2h0M558.9 643.6h0M560.5 646.4h0M560.8 636.8h0M562.9 640.0h0M555.0 641.7h0M566.1 648.8h0M566.9 641.2h0M561.3 644.7h0M569.4 646.3h0M563.7 646.6h0M562.3 644.0h0M567.2 646.8h0M564.8 647.8h0M563.0 640.7h0M568.9 648.3h0M567.4 639.8h0M556.6 653.5h0M551.6 651.5h0M554.8 652.3h0M561.2 646.7h0M556.7 646.2h0M561.4 648.8h0M557.8 643.9h0M556.4 644.1h0M551.4 649.2h0M553.9 649.3h0M553.9 649.8h0M551.0 649.9h0M562.0 648.8h0M560.0 652.3h0M556.1 642.2h0M550.6 657.7h0M548.4 656.1h0M552.4 657.4h0M549.7 652.6h0M554.1 657.3h0M557.0 655.0h0M550.7 657.7h0M550.6 659.9h0M549.6 652.5h0M552.4 655.3h0M547.3 654.4h0M560.9 658.8h0M560.0 659.9h0M556.9 658.3h0M556.6 656.6h0M559.3 664.4h0M560.7 663.8h0M556.6 656.2h0M562.9 662.0h0M561.9 657.7h0M561.4 660.8h0M561.9 664.7h0M558.3 666.2h0M553.6 662.6h0M562.7 657.8h0M547.9 644.6h0M552.7 645.4h0M548.8 648.7h0M545.8 646.5h0M552.1 641.4h0M549.2 640.4h0M551.6 640.8h0M545.7 646.9h0M552.6 660.1h0M547.6 665.0h0M547.6 664.9h0M547.4 665.5h0M547.9 660.9h0M550.4 659.4h0M549.4 664.5h0M547.6 662.7h0M549.5 663.3h0M549.1 661.5h0M552.4 661.3h0M547.5 664.7h0M546.3 665.4h0" stroke="#12982a" stroke-width="2.5" stroke-linecap="round" fill="none"/><path d="M540.7 634.5h0M543.3 636.8h0M542.4 635.6h0M539.5 633.0h0M540.2 633.7h0M549.4 638.6h0M540.8 642.8h0M544.1 631.6h0M543.0 638.6h0M545.0 645.9h0M557.3 625.3h0M554.8 620.9h0M555.0 632.1h0M556.6 634.5h0M559.2 634.6h0M555.1 633.2h0M560.4 631.0h0M561.1 629.9h0M558.4 628.5h0M564.1 626.6h0M560.3 631.5h0M562.3 633.6h0M564.2 637.9h0M562.8 635.7h0M561.0 632.8h0M566.7 634.2h0M561.5 629.9h0M563.9 629.9h0M562.6 628.3h0M567.7 636.6h0M567.7 644.3h0M569.5 642.9h0M564.0 646.4h0M568.1 640.9h0M570.6 643.0h0M551.6 647.7h0M556.8 644.2h0M559.5 647.0h0M559.0 647.0h0M557.9 653.9h0M553.8 661.6h0M550.9 654.6h0M555.1 657.2h0M552.8 654.6h0M555.0 661.0h0M548.8 659.8h0M557.3 653.5h0M553.6 661.5h0M555.4 659.1h0M557.7 656.8h0M556.1 660.7h0M562.9 662.1h0M547.0 645.3h0M551.3 648.0h0M544.7 647.3h0" stroke="#d8403a" stroke-width="1.6" stroke-linecap="round" fill="none"/><path d="M541.5 638.4h0M541.8 635.9h0M543.8 638.9h0M541.2 634.5h0M545.2 636.5h0M539.5 635.3h0M547.0 632.5h0M545.0 641.9h0M554.3 626.8h0M552.4 627.3h0M548.0 628.6h0M560.5 632.8h0M561.4 628.9h0M557.8 628.5h0M561.6 623.8h0M562.8 635.9h0M565.0 636.2h0M566.0 643.7h0M555.6 639.1h0M557.4 637.2h0M566.3 650.4h0M553.4 647.8h0M560.1 648.7h0M553.3 658.9h0M546.8 657.2h0M549.5 652.0h0M559.6 656.0h0M553.7 647.3h0" stroke="#2030c8" stroke-width="1.6" stroke-linecap="round" fill="none"/><path d="M558.7 638.6h0M562.8 645.4h0M558.4 645.6h0M564.7 638.9h0M561.2 641.3h0M558.0 645.8h0M559.9 650.2h0M552.0 648.4h0M554.3 657.6h0M560.9 656.8h0M552.6 642.8h0M547.1 658.1h0M548.2 662.9h0" stroke="#f0b0a8" stroke-width="1.6" stroke-linecap="round" fill="none"/><path d="M547.6 635.4h0M569.4 646.9h0M560.2 650.6h0M551.5 651.4h0" stroke="#e8d820" stroke-width="1.6" stroke-linecap="round" fill="none"/></g>
<g filter="url(#soft)" opacity="1.0"><circle cx="551.7" cy="670.1" r="4.9" fill="#128226"/><circle cx="557.0" cy="673.3" r="5.5" fill="#128226"/><circle cx="564.4" cy="670.1" r="4.9" fill="#128226"/><circle cx="566.5" cy="675.4" r="4.3" fill="#128226"/><circle cx="559.1" cy="680.7" r="5.5" fill="#128226"/><circle cx="552.8" cy="683.8" r="5.5" fill="#128226"/><circle cx="547.5" cy="689.1" r="5.5" fill="#128226"/><circle cx="550.7" cy="694.4" r="4.9" fill="#128226"/><circle cx="557.0" cy="692.3" r="4.9" fill="#128226"/><circle cx="544.3" cy="693.3" r="3.9" fill="#128226"/><circle cx="563.3" cy="684.9" r="4.3" fill="#128226"/><path d="M550.8 668.7h0M548.5 673.0h0M553.6 665.7h0M552.4 665.5h0M554.9 668.1h0M551.4 667.4h0M556.5 669.7h0M550.0 671.5h0M552.7 671.5h0M555.7 668.0h0M552.3 675.3h0M549.9 675.2h0M547.2 672.4h0M556.1 667.3h0M553.0 672.8h0M553.2 672.4h0M552.2 674.3h0M552.7 669.7h0M561.3 670.5h0M552.2 672.2h0M558.6 677.1h0M560.5 672.7h0M556.6 675.2h0M555.7 670.5h0M552.2 672.6h0M557.1 676.1h0M560.4 672.8h0M567.8 666.7h0M566.5 669.6h0M562.2 670.5h0M568.0 668.1h0M559.4 670.3h0M567.7 672.9h0M569.9 670.5h0M562.6 675.1h0M568.8 667.1h0M564.6 672.1h0M566.1 676.2h0M569.5 673.9h0M565.7 678.1h0M567.6 672.9h0M562.6 676.1h0M565.0 674.1h0M567.5 675.4h0M567.0 675.8h0M571.0 676.3h0M564.1 680.9h0M561.2 684.1h0M561.0 681.1h0M557.2 683.2h0M554.6 678.2h0M562.9 683.0h0M556.1 679.0h0M562.0 679.3h0M555.8 677.3h0M562.8 684.8h0M558.7 677.6h0M557.9 682.1h0M556.9 678.2h0M557.1 683.0h0M558.1 683.1h0M550.2 683.2h0M557.2 685.4h0M554.1 682.8h0M548.1 684.1h0M552.7 681.9h0M554.5 681.9h0M555.4 682.9h0M553.6 688.7h0M549.1 686.3h0M558.1 682.5h0M558.1 682.6h0M554.8 683.3h0M550.2 687.5h0M543.0 691.2h0M546.2 691.5h0M552.8 689.4h0M546.6 688.9h0M542.1 689.8h0M547.9 692.3h0M548.3 684.7h0M544.9 685.3h0M549.3 691.9h0M543.8 692.3h0M547.7 685.2h0M546.5 693.1h0M549.9 687.1h0M550.8 687.2h0M544.5 685.2h0M548.2 687.3h0M551.0 691.2h0M554.0 691.1h0M546.7 695.4h0M546.4 696.2h0M547.9 697.9h0M553.8 691.9h0M553.8 696.7h0M553.2 698.5h0M549.0 699.0h0M551.5 699.5h0M558.3 692.9h0M555.8 694.4h0M559.0 692.1h0M556.8 691.0h0M559.4 692.5h0M557.1 693.1h0M561.6 691.0h0M562.3 692.9h0M552.8 689.0h0M559.3 687.6h0M542.6 691.7h0M542.8 690.5h0M545.2 695.5h0M541.9 695.2h0M543.1 694.9h0M544.3 697.8h0M564.8 687.9h0M561.8 686.8h0M560.7 687.9h0M560.1 687.0h0M567.8 685.2h0M562.8 689.5h0M565.0 680.4h0M567.5 682.3h0" stroke="#20c83c" stroke-width="2.5" stroke-linecap="round" fill="none"/><path d="M553.9 669.5h0M554.7 667.4h0M556.0 672.5h0M548.7 674.0h0M547.1 668.4h0M554.2 668.7h0M556.1 670.4h0M547.9 668.5h0M554.3 665.8h0M556.8 669.1h0M553.4 674.5h0M555.8 673.9h0M556.3 676.4h0M554.3 672.6h0M557.5 671.2h0M553.2 674.9h0M554.9 672.5h0M557.0 668.3h0M559.0 673.4h0M552.2 675.5h0M568.2 671.6h0M562.1 671.3h0M564.9 672.4h0M562.3 667.8h0M567.6 668.8h0M564.6 667.8h0M566.6 667.4h0M560.3 672.9h0M566.1 670.5h0M564.2 672.9h0M568.0 670.8h0M564.6 668.5h0M565.0 668.5h0M565.4 669.9h0M560.5 667.1h0M564.1 664.8h0M566.3 677.5h0M568.1 676.6h0M565.5 671.5h0M566.9 675.4h0M566.0 679.9h0M561.9 676.7h0M560.2 678.5h0M564.1 679.6h0M554.8 680.8h0M561.1 679.3h0M562.9 682.6h0M555.7 678.5h0M564.0 681.0h0M552.9 684.3h0M550.0 680.7h0M555.8 680.4h0M553.7 684.0h0M553.8 679.6h0M556.1 685.9h0M551.5 686.0h0M548.7 687.4h0M556.6 683.2h0M555.7 686.7h0M551.3 691.5h0M542.7 688.7h0M547.5 691.2h0M548.2 688.7h0M550.3 688.6h0M551.7 687.5h0M548.7 691.6h0M551.1 684.8h0M549.8 687.8h0M553.8 689.3h0M541.2 689.6h0M549.6 693.9h0M549.7 696.2h0M551.7 697.7h0M552.8 697.2h0M552.6 690.2h0M550.8 690.0h0M552.9 694.2h0M553.7 695.9h0M551.6 691.3h0M547.9 692.8h0M554.2 697.8h0M548.9 699.1h0M553.2 691.5h0M560.3 695.4h0M561.2 689.6h0M559.9 689.0h0M554.0 691.8h0M554.9 693.0h0M554.3 697.0h0M561.6 689.5h0M547.3 693.6h0M544.7 697.0h0M542.6 692.5h0M548.0 692.8h0M544.1 695.2h0M546.7 695.2h0M540.9 694.2h0M541.8 693.9h0M542.0 689.8h0M560.6 686.5h0M564.5 687.6h0M563.0 682.2h0M566.6 683.1h0M559.5 683.0h0M562.7 688.6h0M566.6 687.9h0" stroke="#0a5a14" stroke-width="2.5" stroke-linecap="round" fill="none"/><path d="M550.6 674.4h0M554.2 673.5h0M553.6 670.1h0M550.9 670.9h0M550.1 672.1h0M553.1 673.8h0M550.0 669.5h0M549.2 670.7h0M551.2 665.3h0M553.7 667.1h0M546.3 669.6h0M547.9 666.6h0M559.5 671.3h0M560.8 671.5h0M553.2 677.4h0M555.9 676.5h0M552.8 671.1h0M556.6 677.3h0M553.9 669.1h0M554.6 676.7h0M557.0 670.0h0M557.5 672.4h0M560.4 672.3h0M559.3 677.4h0M554.1 674.7h0M551.8 676.8h0M564.0 671.0h0M568.2 667.1h0M565.8 674.2h0M559.8 670.5h0M566.7 671.6h0M564.1 673.9h0M561.5 670.5h0M566.2 672.6h0M569.9 673.8h0M563.7 675.1h0M565.2 676.3h0M569.2 672.4h0M567.2 678.2h0M565.0 678.4h0M565.6 673.8h0M563.4 673.6h0M570.0 678.7h0M570.2 672.7h0M561.4 685.3h0M563.9 681.7h0M556.4 682.4h0M554.2 682.0h0M557.6 684.5h0M557.7 675.9h0M563.3 679.6h0M554.8 683.1h0M561.1 683.1h0M558.8 684.4h0M558.9 680.2h0M561.9 681.7h0M559.2 684.6h0M557.8 686.4h0M547.4 683.4h0M556.5 683.6h0M552.0 682.2h0M553.8 681.6h0M554.0 687.2h0M555.6 684.5h0M551.5 685.7h0M553.2 677.9h0M551.4 691.2h0M550.6 693.0h0M543.1 687.0h0M546.2 687.0h0M551.1 689.0h0M548.5 690.0h0M548.9 684.1h0M543.6 688.0h0M542.5 688.9h0M544.5 684.2h0M550.7 698.4h0M551.9 698.9h0M552.2 691.5h0M551.5 691.9h0M549.6 698.5h0M547.2 694.9h0M554.5 693.7h0M550.4 699.2h0M555.3 692.8h0M552.9 689.2h0M553.1 689.7h0M559.5 691.7h0M556.2 687.4h0M561.2 692.8h0M554.2 694.0h0M560.7 693.2h0M557.3 695.6h0M559.5 688.1h0M556.7 693.4h0M557.8 689.7h0M560.2 694.3h0M553.6 694.3h0M561.3 690.8h0M557.2 697.2h0M545.0 694.5h0M546.3 696.1h0M546.3 690.9h0M540.5 694.1h0M542.6 692.7h0M545.1 691.5h0M548.3 693.3h0M540.0 692.1h0M565.7 684.9h0M565.1 683.5h0M561.0 681.6h0M565.0 688.2h0M561.8 687.0h0M561.0 687.5h0M566.0 684.5h0M563.4 688.3h0M560.2 688.5h0" stroke="#12982a" stroke-width="2.5" stroke-linecap="round" fill="none"/><path d="M548.9 670.1h0M555.9 671.8h0M556.5 678.8h0M560.8 674.0h0M554.9 677.9h0M561.8 676.5h0M551.6 674.6h0M556.6 667.6h0M563.3 668.7h0M564.7 675.0h0M566.8 665.2h0M568.0 672.4h0M562.8 675.2h0M558.7 680.3h0M558.9 675.3h0M555.8 679.2h0M561.6 683.5h0M558.2 686.1h0M565.3 681.3h0M553.5 678.3h0M561.9 675.9h0M552.3 689.3h0M553.7 680.6h0M552.7 683.8h0M550.7 685.2h0M555.5 686.9h0M555.2 687.0h0M549.5 683.3h0M554.4 688.2h0M549.8 678.9h0M552.5 687.7h0M546.2 692.2h0M546.6 691.1h0M552.0 696.8h0M546.1 697.2h0M559.5 690.3h0M556.7 692.8h0M543.2 692.7h0M540.5 695.5h0M559.6 685.2h0M567.4 683.9h0M563.1 681.3h0M562.5 684.8h0M559.1 685.9h0" stroke="#d8403a" stroke-width="1.6" stroke-linecap="round" fill="none"/><path d="M547.3 669.5h0M550.9 665.0h0M560.8 667.0h0M569.7 676.3h0M560.7 677.5h0M547.6 682.1h0M555.8 682.6h0M547.6 680.8h0M545.2 689.0h0M550.9 691.4h0M542.5 686.0h0M552.9 693.0h0M547.3 697.2h0M552.3 696.1h0M560.9 689.2h0M560.2 690.8h0M560.0 688.9h0M558.9 693.1h0M561.2 695.7h0M556.6 687.4h0M564.8 685.7h0M560.9 687.9h0M564.9 688.9h0" stroke="#2030c8" stroke-width="1.6" stroke-linecap="round" fill="none"/><path d="M555.3 675.2h0" stroke="#f0b0a8" stroke-width="1.6" stroke-linecap="round" fill="none"/><path d="M554.7 669.1h0M570.0 675.7h0" stroke="#e8d820" stroke-width="1.6" stroke-linecap="round" fill="none"/></g>
<circle cx="441.0" cy="645.9" r="3.2" fill="url(#gP)"/>
<circle cx="451.5" cy="654.3" r="3.2" fill="url(#gP)"/>
<circle cx="447.3" cy="648.0" r="5.8" fill="url(#gW)"/>
<circle cx="411.4" cy="665.3" r="3.2" fill="url(#gP)"/>
<circle cx="418.8" cy="675.8" r="3.2" fill="url(#gP)"/>
<circle cx="416.7" cy="669.1" r="5.8" fill="url(#gW)"/>
<circle cx="455.7" cy="667.4" r="3.2" fill="url(#gP)"/>
<circle cx="465.2" cy="676.5" r="3.2" fill="url(#gP)"/>
<circle cx="458.9" cy="673.3" r="5.8" fill="url(#gW)"/>
<circle cx="481.0" cy="649.7" r="3.2" fill="url(#gP)"/>
<circle cx="485.3" cy="663.8" r="3.2" fill="url(#gP)"/>
<circle cx="485.3" cy="655.4" r="5.8" fill="url(#gW)"/>
<circle cx="537.6" cy="649.0" r="3.2" fill="url(#gP)"/>
<circle cx="542.2" cy="661.7" r="3.2" fill="url(#gP)"/>
<circle cx="538.0" cy="655.4" r="5.8" fill="url(#gW)"/>
<circle cx="521.1" cy="693.3" r="3.2" fill="url(#gP)"/>
<circle cx="531.7" cy="685.9" r="3.2" fill="url(#gP)"/>
<circle cx="527.5" cy="691.2" r="5.8" fill="url(#gW)"/>
<text x="396" y="699" font-family='"Liberation Serif","Times New Roman",serif' font-size="12.6" fill="#f58a3c" stroke="#f58a3c" stroke-width="0.25">Zein</text>
<line x1="438.7" y1="685" x2="421.4" y2="695.6" stroke="#111" stroke-width="1.15" marker-end="url(#ah)"/>
<circle cx="605.1" cy="640.6" r="3.2" fill="url(#gP)"/>
<circle cx="617.8" cy="635.7" r="3.2" fill="url(#gP)"/>
<circle cx="611.4" cy="636.4" r="5.8" fill="url(#gW)"/>
<circle cx="660.4" cy="651.1" r="3.2" fill="url(#gP)"/>
<circle cx="665.2" cy="664.4" r="3.2" fill="url(#gP)"/>
<circle cx="661.0" cy="658.1" r="5.8" fill="url(#gW)"/>
<circle cx="720.1" cy="644.8" r="3.2" fill="url(#gP)"/>
<circle cx="732.7" cy="643.1" r="3.2" fill="url(#gP)"/>
<circle cx="726.4" cy="641.6" r="5.8" fill="url(#gW)"/>
<circle cx="706.8" cy="682.8" r="3.2" fill="url(#gP)"/>
<circle cx="718.4" cy="676.5" r="3.2" fill="url(#gP)"/>
<circle cx="711.6" cy="677.1" r="5.8" fill="url(#gW)"/>
<circle cx="771.8" cy="676.5" r="3.2" fill="url(#gP)"/>
<circle cx="763.3" cy="687.0" r="3.2" fill="url(#gP)"/>
<circle cx="765.4" cy="680.7" r="5.8" fill="url(#gW)"/>
<circle cx="618.8" cy="694.0" r="3.2" fill="url(#gP)"/>
<circle cx="630.8" cy="686.4" r="3.2" fill="url(#gP)"/>
<circle cx="626.2" cy="691.2" r="5.8" fill="url(#gW)"/>
<path d="M634.6 660.6C634.1 659.8 631.6 657.3 631.5 655.4C631.3 653.4 632.0 650.4 633.6 649.0C635.2 647.6 638.7 648.9 641.0 646.9C643.2 645.0 645.4 640.9 647.3 637.4C649.2 633.9 651.2 628.4 652.6 625.8C653.9 623.3 654.6 621.5 655.3 622.2C656.0 622.9 654.6 628.4 656.8 630.0C659.0 631.7 664.3 631.6 668.4 632.2C672.4 632.7 677.5 632.2 681.0 633.2C684.6 634.3 687.4 636.0 689.5 638.5C691.6 640.9 692.6 644.8 693.7 648.0C694.8 651.1 694.1 655.4 695.8 657.5C697.6 659.6 701.1 659.4 704.3 660.6C707.4 661.9 711.6 662.7 714.8 664.9C718.0 667.0 720.8 670.1 723.2 673.3C725.7 676.5 727.5 683.1 729.6 683.8C731.7 684.5 733.6 679.5 735.9 677.5C738.2 675.5 742.1 672.6 743.3 671.6" fill="none" stroke="#1757b4" stroke-width="2.5" stroke-linecap="round" stroke-linejoin="round"/>
<path d="M615.6 688.1C616.3 685.6 618.6 677.0 619.9 673.3C621.1 669.6 621.4 667.0 623.0 665.9C624.6 664.8 626.7 665.3 629.4 666.5C632.0 667.8 635.9 671.3 638.9 673.3C641.8 675.3 643.8 677.9 647.3 678.6C650.8 679.3 655.7 678.4 659.9 677.5C664.2 676.6 668.7 673.8 672.6 673.3C676.5 672.8 680.3 672.9 683.2 674.3C686.0 675.8 687.0 678.9 689.5 681.7C691.9 684.5 694.8 689.6 697.9 691.2C701.1 692.8 704.6 691.9 708.5 691.2C712.3 690.5 716.6 688.4 721.1 687.0C725.7 685.6 732.0 683.3 735.9 682.8C739.8 682.3 741.9 682.4 744.3 683.8C746.8 685.2 749.3 690.5 750.7 691.2C752.1 691.9 752.4 691.0 752.8 688.1C753.1 685.1 752.6 678.2 752.8 673.3C753.0 668.4 752.8 662.7 753.8 658.5C754.9 654.3 757.8 650.4 759.1 648.0C760.4 645.5 762.2 645.5 761.6 643.8C761.1 642.0 757.5 639.2 755.9 637.4C754.4 635.7 751.5 633.4 752.4 633.2C753.2 633.0 759.7 635.8 761.2 636.4" fill="none" stroke="#1757b4" stroke-width="2.5" stroke-linecap="round" stroke-linejoin="round"/>
<text x="671.6" y="631" font-family='"Liberation Serif","Times New Roman",serif' font-size="12.5" fill="#1f7ad2" stroke="#1f7ad2" stroke-width="0.2" textLength="81.2" lengthAdjust="spacingAndGlyphs">Sodium alginate</text>
<text x="645.2" y="701.8" font-family='"Liberation Serif","Times New Roman",serif' font-size="12.5" fill="#2294e6" stroke="#2294e6" stroke-width="0.2" textLength="78" lengthAdjust="spacingAndGlyphs">Water molecule</text>
<line x1="693.7" y1="648.0" x2="709.7" y2="632.4" stroke="#111" stroke-width="1.15" marker-end="url(#ah)"/>
<line x1="634.6" y1="688.5" x2="653.6" y2="692.7" stroke="#111" stroke-width="1.15" marker-end="url(#ah)"/>
<circle cx="817.0" cy="626.5" r="3.2" fill="url(#gP)"/>
<circle cx="810.0" cy="637.8" r="3.2" fill="url(#gP)"/>
<circle cx="811.1" cy="631.1" r="5.8" fill="url(#gW)"/>
<circle cx="963.4" cy="625.8" r="3.2" fill="url(#gP)"/>
<circle cx="974.6" cy="632.8" r="3.2" fill="url(#gP)"/>
<circle cx="968.3" cy="631.1" r="5.8" fill="url(#gW)"/>
<clipPath id="cb3"><rect x="804.4" y="620.6" width="178" height="82.2"/></clipPath><g clip-path="url(#cb3)">
<g filter="url(#soft)" opacity="1.0"><circle cx="816.4" cy="649.0" r="9.4" fill="#128226"/><circle cx="829.0" cy="637.4" r="9.8" fill="#128226"/><circle cx="842.7" cy="642.7" r="9.8" fill="#128226"/><circle cx="840.6" cy="632.2" r="7.8" fill="#128226"/><circle cx="854.3" cy="632.2" r="8.6" fill="#128226"/><circle cx="863.8" cy="641.6" r="9.4" fill="#128226"/><circle cx="875.4" cy="632.2" r="8.6" fill="#128226"/><circle cx="884.9" cy="639.5" r="9.4" fill="#128226"/><circle cx="893.0" cy="650.5" r="7.1" fill="#128226"/><circle cx="896.5" cy="632.2" r="8.6" fill="#128226"/><circle cx="908.1" cy="636.4" r="9.0" fill="#128226"/><circle cx="917.6" cy="630.7" r="7.1" fill="#128226"/><circle cx="925.0" cy="643.8" r="9.4" fill="#128226"/><circle cx="926.7" cy="654.7" r="7.1" fill="#128226"/><circle cx="937.7" cy="639.5" r="9.0" fill="#128226"/><circle cx="948.2" cy="645.9" r="9.0" fill="#128226"/><circle cx="958.8" cy="650.1" r="8.6" fill="#128226"/><circle cx="955.0" cy="662.7" r="7.5" fill="#128226"/><circle cx="969.3" cy="653.2" r="7.1" fill="#128226"/><circle cx="951.4" cy="667.4" r="5.1" fill="#128226"/><circle cx="835.4" cy="652.2" r="7.5" fill="#128226"/><circle cx="814.3" cy="656.8" r="7.1" fill="#128226"/><circle cx="859.6" cy="650.5" r="7.1" fill="#128226"/><circle cx="823.8" cy="657.5" r="5.9" fill="#128226"/><circle cx="911.3" cy="644.8" r="7.1" fill="#128226"/><circle cx="878.6" cy="645.9" r="7.1" fill="#128226"/><circle cx="849.1" cy="652.2" r="5.9" fill="#128226"/><circle cx="944.0" cy="655.4" r="5.9" fill="#128226"/><path d="M812.8 651.5h0M816.5 657.4h0M816.3 649.9h0M821.0 651.8h0M813.0 655.1h0M816.9 646.8h0M819.4 651.1h0M818.0 652.3h0M814.6 648.0h0M811.3 652.0h0M822.1 643.2h0M819.2 641.7h0M814.0 657.0h0M807.6 652.6h0M812.3 642.7h0M813.1 640.2h0M816.9 644.8h0M818.0 643.2h0M813.0 649.9h0M808.2 653.7h0M821.5 644.8h0M817.4 657.3h0M817.5 645.9h0M811.4 641.9h0M812.1 645.4h0M812.2 655.4h0M824.4 647.3h0M810.7 654.6h0M818.8 640.4h0M818.3 644.2h0M812.3 656.8h0M814.9 648.4h0M822.6 655.8h0M826.2 652.9h0M807.5 653.9h0M805.8 648.4h0M807.4 646.0h0M808.5 643.1h0M814.0 638.8h0M817.4 639.5h0M833.2 638.0h0M822.7 631.4h0M830.9 632.5h0M837.6 638.3h0M822.6 643.2h0M822.8 630.5h0M837.9 638.5h0M824.1 628.7h0M837.4 637.3h0M829.0 647.4h0M834.9 632.4h0M829.9 632.0h0M828.0 629.1h0M821.5 634.7h0M827.3 643.0h0M825.6 642.2h0M826.1 632.3h0M831.3 640.9h0M828.4 627.5h0M820.5 637.6h0M831.4 637.9h0M829.6 628.7h0M827.2 633.6h0M835.1 631.5h0M824.4 636.6h0M826.2 640.3h0M823.2 631.2h0M821.4 634.0h0M822.4 642.3h0M833.5 636.2h0M823.4 636.3h0M829.2 647.4h0M834.9 641.0h0M834.6 633.5h0M827.4 648.4h0M818.2 639.2h0M818.4 638.3h0M823.7 628.8h0M829.3 626.2h0M832.7 626.9h0M839.2 633.7h0M849.0 638.8h0M843.8 641.6h0M842.4 648.3h0M842.8 649.3h0M835.4 637.5h0M851.5 641.5h0M836.3 645.8h0M841.5 651.8h0M843.8 643.4h0M846.8 643.9h0M847.2 643.9h0M838.8 645.0h0M840.1 639.5h0M843.1 637.3h0M840.5 641.1h0M837.7 642.4h0M840.6 638.6h0M844.0 649.7h0M845.7 634.8h0M842.8 635.5h0M842.9 634.8h0M845.7 645.4h0M850.0 638.3h0M840.3 641.2h0M835.4 645.8h0M837.8 645.1h0M847.0 648.0h0M838.4 647.1h0M847.5 643.3h0M840.5 647.4h0M838.9 638.4h0M849.0 646.5h0M841.3 636.0h0M845.2 645.6h0M852.6 647.7h0M837.6 632.9h0M837.6 636.6h0M843.1 633.7h0M840.6 631.7h0M833.7 630.5h0M843.6 626.0h0M834.9 634.3h0M834.9 635.4h0M841.6 635.4h0M843.0 634.5h0M835.3 633.5h0M839.5 631.2h0M841.9 629.7h0M835.0 634.5h0M833.0 632.5h0M845.4 628.7h0M837.0 629.6h0M837.2 625.9h0M840.1 640.1h0M842.9 636.7h0M843.6 634.9h0M834.2 627.5h0M839.1 624.2h0M842.5 623.9h0M848.7 635.6h0M849.6 638.7h0M855.5 640.1h0M861.2 634.0h0M861.0 634.6h0M846.5 632.1h0M857.9 634.6h0M857.4 629.1h0M856.8 626.7h0M851.8 632.9h0M849.3 634.2h0M851.2 631.4h0M856.3 631.2h0M850.1 631.7h0M861.2 630.3h0M859.9 633.7h0M850.7 639.5h0M859.3 633.7h0M851.7 638.2h0M855.8 625.5h0M858.5 624.6h0M851.6 625.5h0M856.9 632.6h0M862.3 631.3h0M853.2 636.2h0M862.2 633.5h0M853.5 628.4h0M854.0 631.6h0M847.4 630.1h0M856.2 640.2h0M847.3 637.2h0M851.7 626.4h0M847.9 624.6h0M854.8 623.1h0M859.2 624.8h0M867.0 638.9h0M868.8 643.7h0M869.4 637.7h0M868.0 647.2h0M855.3 645.4h0M869.1 646.1h0M863.1 637.7h0M859.9 650.1h0M868.1 642.6h0M861.7 638.6h0M865.7 633.9h0M866.2 641.4h0M869.5 639.7h0M872.3 645.0h0M856.5 646.5h0M863.9 638.1h0M867.6 633.8h0M871.7 641.5h0M857.4 645.7h0M857.4 646.5h0M867.9 648.1h0M869.2 643.0h0M863.8 643.8h0M857.9 639.3h0M869.9 642.1h0M862.3 638.0h0M860.7 648.9h0M866.3 632.8h0M873.0 640.3h0M861.5 648.6h0M858.2 643.8h0M860.3 636.1h0M853.4 643.8h0M865.9 632.1h0M881.9 633.9h0M876.5 627.3h0M871.8 635.7h0M874.8 625.4h0M873.8 629.6h0M876.2 628.2h0M871.0 629.0h0M871.8 631.1h0M880.9 631.7h0M874.5 635.7h0M880.4 636.9h0M882.9 628.4h0M882.5 636.4h0M870.3 631.9h0M874.0 624.5h0M871.2 629.5h0M880.7 636.6h0M874.0 627.0h0M876.0 636.5h0M867.7 631.0h0M873.8 641.2h0M883.3 628.4h0M883.9 629.8h0M875.4 638.9h0M881.6 642.2h0M891.4 642.9h0M878.6 636.6h0M881.7 637.0h0M880.3 645.0h0M880.9 636.7h0M882.3 632.8h0M892.8 637.5h0M877.8 633.1h0M877.2 645.3h0M883.9 630.5h0M890.1 637.1h0M880.0 644.8h0M889.9 645.7h0M882.7 634.0h0M888.7 647.4h0M884.2 634.3h0M882.3 639.2h0M882.9 640.7h0M883.1 630.3h0M890.3 634.3h0M889.9 637.9h0M880.7 644.8h0M890.7 642.4h0M894.6 640.7h0M884.4 629.5h0M892.3 651.2h0M888.1 651.6h0M890.0 647.9h0M886.8 649.2h0M892.8 647.0h0M890.7 650.0h0M890.5 653.1h0M890.1 651.7h0M894.4 649.0h0M892.4 647.7h0M895.4 653.4h0M896.9 653.8h0M895.1 655.2h0M890.0 647.4h0M897.7 645.3h0M892.8 644.3h0M890.9 657.0h0M888.4 652.0h0M888.1 652.1h0M894.0 657.8h0M892.2 657.9h0M893.9 642.5h0M896.1 643.7h0M895.3 640.3h0M897.4 626.7h0M903.1 630.6h0M895.9 637.3h0M898.2 636.8h0M891.8 638.5h0M898.0 636.6h0M889.7 635.3h0M901.1 635.0h0M903.1 627.3h0M895.1 639.0h0M893.4 629.5h0M895.0 624.1h0M899.6 631.3h0M898.4 634.9h0M899.4 639.4h0M897.7 632.0h0M892.7 627.9h0M893.1 636.1h0M895.8 633.9h0M901.7 629.8h0M900.1 624.5h0M896.0 629.2h0M892.3 631.0h0M897.3 634.1h0M895.4 628.0h0M898.3 638.4h0M903.6 635.7h0M901.0 632.1h0M893.7 635.7h0M892.9 636.2h0M903.2 628.5h0M892.2 624.3h0M904.5 627.8h0M910.8 627.7h0M917.2 636.3h0M913.1 631.7h0M909.6 643.8h0M903.8 638.5h0M906.6 629.9h0M907.0 637.2h0M913.6 643.2h0M909.1 637.1h0M915.6 638.9h0M900.1 634.3h0M908.4 637.7h0M908.3 636.0h0M903.2 634.2h0M902.1 641.6h0M906.6 631.9h0M904.5 630.8h0M907.1 641.8h0M908.4 627.9h0M904.9 644.5h0M911.3 630.9h0M905.5 637.4h0M902.3 640.9h0M912.2 640.1h0M906.5 633.7h0M903.9 641.4h0M901.1 641.6h0M908.4 642.4h0M909.3 635.7h0M915.2 632.5h0M915.5 641.4h0M911.1 635.9h0M899.9 633.0h0M899.9 642.4h0M899.0 640.3h0M911.6 627.2h0M922.9 633.9h0M912.7 634.2h0M917.3 634.3h0M911.7 630.9h0M922.6 629.2h0M914.4 632.3h0M919.1 625.0h0M923.9 632.2h0M916.0 635.1h0M915.8 628.5h0M917.0 628.2h0M915.9 628.4h0M917.1 636.2h0M919.1 624.7h0M910.9 630.5h0M921.1 631.7h0M916.5 627.1h0M920.0 627.3h0M918.6 632.9h0M913.4 626.2h0M919.8 626.8h0M920.7 624.6h0M913.9 624.7h0M916.4 643.4h0M921.2 646.2h0M921.4 647.3h0M931.3 649.4h0M924.7 635.9h0M916.2 644.6h0M930.7 650.6h0M926.2 650.0h0M930.8 641.0h0M920.3 641.3h0M930.3 649.4h0M917.5 648.0h0M928.6 645.2h0M925.2 652.1h0M924.2 649.1h0M917.7 648.0h0M929.9 643.3h0M918.3 649.6h0M926.0 644.1h0M925.8 644.9h0M921.3 639.9h0M930.4 649.1h0M926.9 645.0h0M925.4 637.3h0M923.9 635.7h0M924.6 646.5h0M916.9 648.7h0M930.4 635.8h0M928.0 659.5h0M928.4 653.3h0M924.6 652.2h0M924.1 648.7h0M922.2 650.6h0M932.4 652.5h0M925.2 654.1h0M929.9 659.1h0M927.2 658.0h0M923.6 650.2h0M928.1 656.4h0M930.6 652.8h0M929.1 656.0h0M923.5 657.9h0M933.6 653.2h0M924.0 650.4h0M929.0 658.8h0M925.1 656.4h0M921.4 652.3h0M934.1 656.1h0M932.7 659.3h0M924.9 662.0h0M921.7 660.1h0M941.4 639.9h0M931.5 639.0h0M929.9 636.0h0M932.2 638.0h0M932.9 638.4h0M941.9 639.7h0M932.4 640.2h0M944.3 640.2h0M937.7 633.1h0M943.5 633.4h0M934.8 644.0h0M945.7 643.2h0M942.7 634.7h0M937.7 631.9h0M945.7 639.5h0M941.0 636.8h0M935.9 632.0h0M929.9 639.9h0M933.4 636.4h0M943.8 642.9h0M933.6 636.2h0M932.9 641.9h0M936.1 644.9h0M939.1 631.4h0M930.9 637.9h0M944.6 636.1h0M937.5 640.0h0M930.8 640.4h0M938.4 638.8h0M935.8 629.9h0M944.0 632.6h0M949.2 642.8h0M949.1 644.2h0M952.5 649.0h0M945.2 654.5h0M952.4 639.2h0M942.0 641.2h0M957.0 645.5h0M942.8 646.8h0M947.0 647.8h0M951.0 639.8h0M951.2 646.9h0M948.7 653.0h0M953.9 641.7h0M944.6 652.8h0M946.4 648.8h0M947.2 642.2h0M953.0 652.7h0M945.7 645.6h0M945.7 641.7h0M951.7 649.2h0M945.9 654.5h0M954.2 649.1h0M946.5 649.9h0M955.4 642.4h0M942.9 643.1h0M953.2 642.4h0M954.2 640.7h0M944.1 644.9h0M944.0 646.3h0M949.5 639.7h0M954.3 642.1h0M949.3 643.1h0M945.1 649.2h0M949.8 647.4h0M946.2 648.9h0M945.0 641.7h0M942.6 645.0h0M951.5 638.3h0M945.5 652.4h0M940.2 651.6h0M948.3 636.2h0M957.7 642.1h0M955.0 656.8h0M964.8 654.3h0M966.3 653.9h0M966.1 649.0h0M961.4 658.0h0M958.7 642.5h0M958.3 643.7h0M959.2 658.3h0M960.6 651.4h0M956.9 654.0h0M967.3 648.3h0M951.5 648.7h0M952.2 654.8h0M967.3 650.7h0M964.9 655.9h0M953.4 644.3h0M951.9 653.9h0M955.7 642.6h0M953.7 645.4h0M958.3 654.0h0M956.7 647.1h0M953.0 654.1h0M954.3 652.0h0M966.1 648.6h0M957.3 658.8h0M958.9 651.4h0M965.5 648.7h0M950.9 647.7h0M959.9 660.8h0M955.3 655.3h0M957.9 658.5h0M950.0 666.3h0M961.7 664.1h0M952.8 656.2h0M951.3 663.3h0M956.2 667.5h0M952.6 660.5h0M954.0 668.9h0M952.9 662.3h0M952.5 665.6h0M959.3 663.5h0M957.5 664.3h0M951.6 663.4h0M957.9 664.4h0M953.7 660.3h0M959.1 662.8h0M954.0 667.9h0M958.2 665.7h0M955.3 669.4h0M952.3 658.6h0M949.3 657.9h0M953.5 660.8h0M959.8 669.7h0M957.1 670.6h0M949.5 656.5h0M973.3 653.0h0M971.9 650.0h0M972.3 652.9h0M963.5 651.0h0M967.0 658.0h0M969.7 656.5h0M976.0 654.5h0M975.3 649.6h0M971.4 652.0h0M968.3 648.1h0M974.2 657.7h0M973.5 651.0h0M975.5 652.0h0M973.9 656.7h0M974.8 648.6h0M975.2 654.1h0M975.4 653.6h0M974.9 653.1h0M974.2 649.3h0M971.8 648.2h0M970.7 649.1h0M975.0 656.9h0M976.5 655.0h0M973.2 659.9h0M964.4 658.6h0M977.0 651.2h0M948.8 669.7h0M949.5 667.5h0M948.0 667.4h0M953.5 666.8h0M952.3 671.8h0M953.4 662.9h0M950.3 666.3h0M955.2 665.8h0M952.4 666.7h0M948.4 663.9h0M948.9 671.0h0M951.0 668.2h0M948.1 672.1h0M945.7 666.9h0M948.2 663.1h0M838.6 646.5h0M837.3 650.7h0M833.6 646.0h0M832.4 647.1h0M834.2 644.7h0M834.1 648.0h0M841.9 650.9h0M836.5 646.7h0M835.6 653.9h0M836.3 656.2h0M835.6 650.7h0M840.3 647.7h0M841.5 654.3h0M835.2 651.6h0M837.8 655.4h0M836.4 649.7h0M831.0 651.0h0M834.4 645.4h0M837.0 657.8h0M834.3 650.4h0M842.1 651.3h0M835.2 651.9h0M835.1 650.5h0M837.2 658.4h0M837.0 647.5h0M840.2 659.2h0M827.1 650.6h0M810.3 662.7h0M818.1 656.2h0M811.5 660.1h0M820.7 654.8h0M810.2 658.0h0M808.0 654.2h0M813.5 655.6h0M811.9 662.9h0M820.7 657.2h0M815.6 658.3h0M814.2 656.0h0M811.3 650.4h0M810.5 657.0h0M819.1 662.9h0M812.2 664.5h0M809.1 662.6h0M860.5 643.9h0M856.9 650.2h0M863.4 654.6h0M865.7 653.5h0M854.9 646.9h0M862.4 650.4h0M860.1 655.8h0M854.9 646.7h0M862.1 656.6h0M861.0 650.3h0M863.9 650.5h0M858.0 649.6h0M858.5 645.8h0M853.0 649.5h0M863.8 653.4h0M865.4 648.4h0M853.4 649.4h0M856.5 652.5h0M865.0 646.1h0M860.3 653.1h0M866.7 651.8h0M864.3 656.4h0M852.1 647.7h0M854.2 645.7h0M818.7 654.2h0M826.0 660.6h0M825.6 662.3h0M824.7 660.2h0M819.0 658.9h0M826.5 662.5h0M826.6 661.2h0M830.3 657.5h0M826.5 663.6h0M918.4 645.3h0M914.0 646.4h0M909.0 638.1h0M917.6 646.1h0M910.9 638.7h0M905.5 642.9h0M911.6 645.6h0M914.8 650.7h0M911.2 650.5h0M912.6 638.7h0M914.5 644.1h0M910.3 648.9h0M906.0 646.7h0M917.9 648.1h0M912.7 652.0h0M880.0 642.6h0M876.4 639.6h0M872.7 645.1h0M881.1 644.3h0M871.7 644.5h0M878.1 644.3h0M883.1 647.2h0M878.3 651.9h0M883.4 646.6h0M875.0 646.9h0M873.7 644.7h0M879.0 644.4h0M878.0 643.8h0M884.2 647.7h0M880.6 642.4h0M874.6 643.5h0M877.4 653.6h0M873.5 651.8h0M871.9 648.7h0M851.6 655.1h0M851.6 649.4h0M845.7 651.8h0M847.4 651.0h0M848.2 649.5h0M849.0 647.4h0M845.1 648.3h0M853.8 650.3h0M850.3 648.9h0M847.4 649.4h0M852.3 651.2h0M851.7 657.5h0M850.4 656.8h0M845.7 656.2h0M845.5 657.6h0M842.7 651.4h0M853.8 647.5h0M943.8 652.6h0M941.6 650.1h0M939.7 657.6h0M942.0 660.5h0M947.5 653.0h0M941.9 650.4h0M946.5 657.5h0M943.9 660.1h0M941.4 656.4h0M946.2 652.4h0M944.9 651.4h0M941.0 659.3h0M945.0 657.9h0M941.3 657.2h0M947.1 651.7h0M938.4 654.5h0M945.6 658.4h0M950.3 655.9h0M942.7 661.2h0" stroke="#20c83c" stroke-width="2.5" stroke-linecap="round" fill="none"/><path d="M810.5 654.4h0M822.6 646.5h0M811.4 657.0h0M817.4 642.5h0M823.4 648.6h0M817.8 649.4h0M817.5 646.5h0M816.2 641.5h0M817.4 651.4h0M809.3 654.2h0M811.2 652.8h0M812.0 642.6h0M816.0 658.1h0M813.2 643.5h0M817.4 657.9h0M813.8 650.9h0M815.9 642.5h0M822.4 647.5h0M820.6 651.2h0M821.9 649.6h0M818.1 649.6h0M808.9 652.0h0M817.7 651.9h0M817.7 644.5h0M817.3 643.2h0M822.2 650.7h0M814.0 650.2h0M812.1 645.7h0M814.9 654.9h0M820.1 646.4h0M820.1 655.2h0M819.7 646.6h0M823.0 652.3h0M827.0 649.7h0M806.2 651.5h0M826.1 647.1h0M832.4 637.4h0M825.5 628.2h0M833.3 635.4h0M829.3 644.1h0M820.4 641.8h0M836.8 637.2h0M831.3 635.1h0M820.3 641.6h0M833.8 630.1h0M833.3 640.4h0M831.4 633.0h0M837.8 637.2h0M825.3 638.4h0M830.5 630.0h0M832.0 637.6h0M827.8 628.3h0M836.8 638.4h0M830.5 639.0h0M825.8 629.5h0M834.3 634.5h0M826.7 646.8h0M825.3 636.6h0M824.1 635.8h0M822.2 643.5h0M838.4 635.3h0M835.5 633.7h0M829.1 643.7h0M824.7 636.4h0M832.4 632.2h0M838.8 636.8h0M835.6 636.4h0M820.6 641.5h0M833.6 642.7h0M832.4 645.0h0M819.7 634.5h0M819.9 631.3h0M844.4 642.9h0M838.5 647.0h0M851.9 639.7h0M838.9 639.8h0M847.5 646.7h0M834.3 639.7h0M843.2 642.0h0M852.5 644.7h0M847.7 644.7h0M837.3 636.4h0M851.9 640.5h0M844.0 651.3h0M843.5 638.6h0M833.4 644.9h0M839.7 635.2h0M844.0 646.7h0M842.4 632.8h0M847.7 650.0h0M848.6 634.8h0M848.0 646.1h0M838.9 640.8h0M843.6 644.0h0M835.0 643.6h0M837.8 634.3h0M836.5 639.1h0M837.6 639.5h0M834.6 639.1h0M847.3 644.8h0M838.1 642.3h0M834.1 646.0h0M842.7 641.7h0M849.8 641.3h0M838.8 643.4h0M849.5 645.3h0M853.7 643.8h0M847.1 630.7h0M833.1 631.7h0M834.8 628.5h0M846.8 632.2h0M840.5 636.1h0M837.1 639.0h0M836.9 633.9h0M836.2 635.2h0M841.2 628.1h0M846.5 630.1h0M836.3 631.6h0M836.8 632.3h0M838.0 626.0h0M840.8 630.9h0M843.3 634.5h0M837.4 628.9h0M842.4 630.6h0M845.9 635.7h0M838.2 631.2h0M843.7 639.3h0M843.8 633.5h0M841.2 632.4h0M845.2 636.6h0M837.3 637.8h0M834.3 627.2h0M835.6 629.1h0M855.6 635.1h0M859.1 629.0h0M855.9 637.6h0M850.0 632.6h0M856.2 625.1h0M856.6 628.8h0M851.0 639.0h0M848.5 627.2h0M846.1 633.2h0M855.7 637.9h0M859.8 631.6h0M851.7 639.9h0M860.0 628.1h0M862.4 631.4h0M858.1 635.3h0M854.4 638.3h0M851.0 631.6h0M854.6 627.0h0M848.2 633.1h0M849.9 628.5h0M846.6 627.0h0M856.6 646.2h0M863.7 642.0h0M866.8 647.7h0M867.7 650.1h0M863.9 634.7h0M870.3 648.4h0M868.3 634.1h0M866.5 650.2h0M855.6 644.6h0M862.9 648.3h0M861.1 646.7h0M859.2 638.0h0M862.0 634.9h0M862.9 639.9h0M861.2 634.0h0M866.4 636.5h0M866.0 648.2h0M854.6 644.0h0M864.5 642.1h0M871.5 636.7h0M865.7 642.3h0M868.7 641.2h0M867.7 646.9h0M871.3 636.6h0M870.2 641.4h0M866.1 643.3h0M868.7 649.8h0M863.3 632.2h0M867.7 635.3h0M873.6 631.8h0M873.6 625.1h0M882.6 629.3h0M873.9 631.2h0M869.0 636.3h0M870.2 633.5h0M879.8 624.7h0M877.6 639.2h0M871.2 631.6h0M874.8 631.1h0M867.3 635.4h0M871.7 630.0h0M882.2 637.6h0M874.0 636.6h0M878.3 630.3h0M877.7 628.0h0M872.9 633.4h0M880.9 633.8h0M877.7 626.8h0M878.6 626.6h0M880.9 629.9h0M879.4 627.9h0M877.2 640.0h0M877.1 640.7h0M875.4 622.5h0M879.2 624.3h0M881.7 643.1h0M885.3 638.8h0M886.8 640.1h0M882.5 639.5h0M885.1 642.7h0M886.0 643.0h0M880.6 637.8h0M890.4 641.5h0M891.7 641.9h0M880.4 639.9h0M878.0 643.1h0M890.6 642.8h0M879.3 640.4h0M880.3 642.0h0M881.2 637.5h0M888.4 633.6h0M894.2 640.7h0M877.4 641.9h0M878.7 638.3h0M876.1 642.0h0M885.7 639.7h0M887.5 637.4h0M890.7 639.6h0M887.9 645.0h0M881.6 645.5h0M878.4 640.0h0M883.0 648.4h0M888.5 638.8h0M886.3 647.0h0M883.3 646.8h0M878.3 635.1h0M887.3 647.8h0M890.9 644.4h0M899.7 650.5h0M888.6 655.3h0M893.5 651.3h0M891.0 653.1h0M888.8 651.4h0M888.6 647.7h0M893.7 654.0h0M891.2 656.1h0M887.7 654.2h0M898.6 649.9h0M890.4 645.0h0M892.3 654.3h0M889.0 646.5h0M887.8 653.8h0M896.2 647.7h0M892.5 649.6h0M890.9 648.3h0M889.6 645.5h0M896.4 647.1h0M900.1 654.3h0M886.1 648.5h0M898.3 645.5h0M903.5 630.5h0M898.7 628.6h0M895.9 624.5h0M900.5 632.4h0M900.5 627.0h0M898.0 636.9h0M890.0 629.1h0M898.6 640.5h0M902.4 631.3h0M899.4 626.6h0M901.6 638.2h0M896.4 635.9h0M896.8 635.1h0M897.3 635.2h0M897.3 640.7h0M891.9 627.5h0M891.3 629.4h0M889.2 630.8h0M891.3 630.3h0M900.0 632.4h0M901.8 633.3h0M889.3 629.7h0M901.3 634.8h0M899.9 638.4h0M890.2 637.2h0M900.7 625.5h0M889.4 626.8h0M912.2 638.7h0M911.3 638.4h0M903.6 638.2h0M907.2 636.8h0M900.4 632.6h0M905.3 637.0h0M909.9 636.2h0M904.7 640.3h0M906.5 640.2h0M905.8 642.5h0M906.2 629.5h0M901.4 637.2h0M901.4 635.7h0M903.4 635.5h0M915.6 632.9h0M912.3 637.9h0M907.0 641.3h0M902.3 636.7h0M910.8 635.1h0M906.2 640.1h0M900.4 640.2h0M906.2 639.2h0M916.5 634.4h0M904.1 630.5h0M913.7 631.5h0M902.2 629.7h0M903.8 641.4h0M905.8 641.0h0M917.6 639.7h0M903.9 645.7h0M913.8 632.5h0M912.1 632.4h0M920.6 631.2h0M920.4 628.5h0M915.9 628.8h0M915.0 636.6h0M923.3 630.8h0M921.4 626.3h0M917.0 624.8h0M919.3 626.0h0M919.5 624.1h0M919.5 633.2h0M913.9 631.9h0M911.5 632.1h0M912.2 632.8h0M920.1 633.2h0M924.7 629.4h0M918.8 629.6h0M923.3 630.4h0M914.5 633.1h0M925.3 630.7h0M911.7 626.2h0M917.3 623.3h0M925.4 634.6h0M924.9 642.8h0M924.6 638.6h0M926.1 644.8h0M926.1 635.2h0M918.8 637.1h0M923.0 652.0h0M918.1 637.5h0M916.8 646.3h0M924.0 650.5h0M925.0 641.0h0M927.5 642.2h0M929.9 648.4h0M919.9 649.1h0M925.1 648.9h0M928.9 649.6h0M924.4 634.2h0M929.9 637.8h0M922.2 648.8h0M931.1 637.6h0M923.1 646.7h0M919.1 638.5h0M928.6 649.5h0M928.9 638.5h0M920.5 644.0h0M922.9 652.3h0M933.7 645.0h0M926.9 640.0h0M921.0 646.8h0M920.1 639.2h0M923.0 639.7h0M929.6 645.9h0M932.9 655.1h0M922.0 656.9h0M932.4 658.3h0M923.6 654.5h0M922.6 653.7h0M930.7 659.9h0M927.3 658.9h0M921.9 651.5h0M925.3 650.7h0M921.7 657.2h0M926.0 660.0h0M926.9 654.9h0M927.6 649.1h0M932.8 657.7h0M932.5 658.0h0M925.9 649.1h0M920.0 651.4h0M933.6 652.6h0M933.7 642.0h0M934.2 636.4h0M941.9 646.4h0M938.6 647.8h0M938.4 631.1h0M939.5 632.6h0M935.7 647.1h0M930.6 639.9h0M939.3 637.7h0M940.6 643.8h0M942.4 640.6h0M930.6 641.9h0M930.3 641.7h0M934.4 631.1h0M945.6 639.1h0M937.2 643.0h0M939.7 636.1h0M929.2 636.1h0M931.5 633.4h0M936.3 644.2h0M932.5 634.7h0M937.3 633.5h0M937.7 635.3h0M944.6 642.6h0M942.6 636.4h0M931.2 641.0h0M940.2 631.7h0M929.2 639.9h0M934.3 631.8h0M938.3 635.3h0M943.0 638.3h0M941.0 644.0h0M935.4 641.4h0M931.1 644.0h0M933.0 631.3h0M940.3 630.2h0M943.7 646.3h0M954.9 640.6h0M943.8 652.7h0M950.3 645.7h0M947.1 641.1h0M952.7 645.4h0M946.7 653.4h0M955.1 646.6h0M953.5 650.7h0M950.3 650.5h0M955.1 646.7h0M945.2 646.8h0M948.9 640.7h0M941.6 642.7h0M951.6 653.7h0M947.5 643.9h0M953.8 647.5h0M945.6 648.7h0M947.2 643.6h0M950.7 647.8h0M951.9 652.5h0M948.6 650.2h0M946.5 643.5h0M948.4 653.3h0M939.4 648.9h0M951.3 652.3h0M957.9 652.5h0M952.8 653.2h0M960.3 646.8h0M958.3 657.2h0M954.3 653.9h0M961.8 642.5h0M954.9 647.6h0M950.3 649.5h0M963.4 655.5h0M966.5 653.7h0M967.5 650.9h0M965.6 652.4h0M953.1 647.7h0M961.1 642.5h0M958.6 657.9h0M963.7 643.9h0M958.7 644.2h0M965.5 645.3h0M957.1 650.4h0M958.1 647.1h0M966.5 653.3h0M965.6 648.1h0M953.7 648.2h0M958.0 652.3h0M954.5 641.1h0M952.1 656.6h0M949.8 667.2h0M960.2 663.6h0M950.4 667.4h0M954.7 656.2h0M956.5 669.3h0M948.3 663.7h0M955.7 665.6h0M958.0 661.5h0M951.8 665.7h0M953.9 666.5h0M961.5 667.2h0M947.5 659.3h0M962.5 661.9h0M970.7 654.5h0M966.2 651.5h0M968.1 659.7h0M973.6 647.9h0M975.0 649.2h0M974.3 648.2h0M974.2 657.4h0M964.3 649.0h0M966.6 652.7h0M968.3 652.2h0M964.4 654.7h0M964.0 648.5h0M975.5 649.9h0M969.8 661.1h0M963.0 657.1h0M965.6 646.6h0M975.6 648.2h0M951.5 672.2h0M952.3 669.2h0M949.7 666.0h0M954.7 671.0h0M952.3 672.5h0M833.2 645.1h0M828.7 653.5h0M831.1 646.3h0M832.5 645.4h0M832.3 645.9h0M828.0 652.2h0M838.6 654.0h0M834.9 654.4h0M837.0 653.6h0M832.7 649.9h0M834.5 649.2h0M835.7 651.6h0M834.4 648.7h0M841.9 656.3h0M834.5 660.4h0M827.7 653.1h0M812.2 659.0h0M819.3 659.0h0M814.7 655.9h0M814.4 658.7h0M811.3 661.4h0M818.4 655.7h0M808.5 654.0h0M817.1 650.4h0M809.0 652.3h0M817.7 656.1h0M815.3 656.3h0M812.3 652.5h0M813.8 653.0h0M815.5 657.4h0M812.8 659.4h0M814.9 663.0h0M811.7 656.4h0M819.6 652.3h0M812.2 652.3h0M807.2 660.6h0M860.3 648.6h0M858.0 645.6h0M855.2 647.4h0M857.4 652.4h0M860.9 646.2h0M863.8 653.0h0M863.2 653.1h0M864.7 646.3h0M862.0 645.9h0M857.0 651.6h0M863.4 650.2h0M820.7 656.5h0M823.1 658.3h0M822.7 652.6h0M829.2 655.1h0M819.1 660.8h0M825.2 662.6h0M824.7 656.0h0M825.0 657.1h0M821.9 657.0h0M820.4 657.8h0M828.2 656.5h0M827.2 652.6h0M914.3 649.8h0M914.0 639.5h0M906.5 649.9h0M917.0 640.6h0M910.2 650.5h0M917.2 643.5h0M913.3 647.7h0M915.9 649.1h0M911.9 646.7h0M916.1 639.9h0M910.8 649.3h0M908.3 644.3h0M914.3 638.6h0M911.3 644.2h0M914.6 647.8h0M907.7 648.6h0M906.5 649.6h0M913.4 639.3h0M907.5 646.7h0M913.0 650.0h0M915.0 651.2h0M904.7 647.7h0M876.9 640.6h0M880.9 652.3h0M882.3 646.2h0M879.4 647.5h0M876.5 640.5h0M877.4 649.1h0M882.4 642.3h0M874.1 645.8h0M874.2 642.7h0M875.5 651.8h0M874.5 640.3h0M882.9 642.4h0M876.1 640.6h0M881.7 642.0h0M884.2 648.4h0M877.9 646.2h0M881.8 644.9h0M879.3 645.6h0M877.2 639.5h0M850.2 655.0h0M851.8 657.2h0M848.7 647.2h0M845.1 651.5h0M846.2 648.2h0M845.8 652.2h0M848.8 657.9h0M845.7 651.6h0M853.3 649.5h0M845.1 656.4h0M850.8 658.3h0M940.0 652.0h0M939.3 654.0h0M942.5 659.2h0M944.2 656.3h0M940.9 652.1h0M947.2 654.5h0M943.4 650.2h0M941.8 655.5h0M947.6 658.3h0M944.7 659.8h0M944.5 655.8h0M945.7 659.0h0M941.6 660.1h0M940.0 660.6h0M938.1 658.1h0" stroke="#0a5a14" stroke-width="2.5" stroke-linecap="round" fill="none"/><path d="M812.2 653.3h0M820.9 656.3h0M825.7 648.0h0M816.1 655.1h0M822.5 655.6h0M808.5 645.9h0M818.2 646.3h0M823.1 642.7h0M820.7 645.4h0M814.3 645.6h0M821.7 649.1h0M816.3 645.1h0M812.3 650.5h0M810.8 643.8h0M820.6 652.3h0M807.6 645.7h0M808.0 652.0h0M816.4 654.1h0M812.1 656.1h0M808.9 647.5h0M813.0 651.0h0M815.4 654.8h0M818.7 655.8h0M812.8 641.7h0M818.0 651.3h0M814.8 641.6h0M819.3 642.1h0M820.8 648.8h0M821.2 648.7h0M815.9 649.3h0M811.7 649.0h0M813.0 639.8h0M823.8 642.6h0M820.7 641.8h0M833.3 634.5h0M836.5 643.1h0M829.9 627.9h0M830.2 638.1h0M835.1 632.0h0M833.8 629.7h0M828.5 640.9h0M822.3 639.7h0M833.9 642.6h0M826.9 635.8h0M830.4 631.2h0M826.1 633.4h0M837.0 632.7h0M823.6 631.8h0M836.6 635.5h0M821.8 643.3h0M827.5 639.4h0M829.3 640.9h0M835.8 644.6h0M830.1 627.7h0M832.8 634.5h0M823.5 637.4h0M832.6 637.2h0M821.4 639.9h0M822.2 631.9h0M823.5 645.1h0M834.7 638.6h0M825.2 628.2h0M833.4 639.3h0M826.7 641.0h0M827.4 647.1h0M833.7 643.3h0M823.0 633.3h0M830.1 647.8h0M842.0 648.3h0M833.9 643.7h0M844.6 647.5h0M846.8 651.2h0M839.9 645.2h0M843.7 638.3h0M845.3 644.0h0M850.6 638.4h0M837.1 642.2h0M839.3 643.1h0M843.6 635.4h0M835.5 645.5h0M833.3 640.5h0M842.8 633.8h0M845.2 640.2h0M846.5 640.0h0M845.6 642.8h0M849.3 647.7h0M841.1 650.0h0M849.8 636.9h0M845.1 649.8h0M834.6 637.8h0M842.0 636.0h0M840.3 639.4h0M838.2 635.7h0M836.5 639.7h0M837.3 646.0h0M836.0 643.9h0M835.9 648.3h0M844.3 642.0h0M847.5 639.6h0M833.7 644.8h0M841.9 649.6h0M842.5 640.9h0M836.0 642.7h0M842.3 639.3h0M837.2 632.4h0M834.3 632.7h0M837.3 633.3h0M842.6 629.3h0M844.1 631.1h0M842.9 628.6h0M842.9 632.2h0M834.6 627.4h0M839.8 625.5h0M848.1 634.6h0M835.0 629.8h0M844.2 638.8h0M840.3 631.6h0M844.3 627.8h0M843.5 626.7h0M842.1 639.6h0M844.5 635.4h0M845.1 625.1h0M849.5 631.4h0M852.3 636.7h0M853.5 631.1h0M851.5 632.8h0M852.7 629.3h0M857.0 639.0h0M853.8 634.5h0M853.5 625.5h0M853.4 632.7h0M856.9 635.1h0M850.9 637.1h0M859.4 638.9h0M858.9 632.1h0M848.7 633.8h0M854.9 628.1h0M847.0 627.6h0M853.3 628.2h0M857.0 624.8h0M857.3 632.7h0M857.0 633.0h0M858.1 627.4h0M856.9 631.4h0M857.1 637.9h0M851.1 635.7h0M850.4 626.6h0M855.2 640.6h0M857.3 635.2h0M854.5 641.5h0M851.2 623.7h0M856.7 623.8h0M866.3 647.1h0M868.9 648.3h0M862.0 638.2h0M870.0 639.6h0M865.9 644.2h0M862.2 640.1h0M859.4 650.0h0M865.7 634.6h0M870.5 645.7h0M871.5 643.9h0M856.6 643.1h0M869.2 647.7h0M861.5 635.0h0M864.9 644.0h0M865.9 638.1h0M864.7 649.8h0M855.0 645.4h0M864.0 633.4h0M858.3 634.6h0M872.5 643.7h0M855.9 642.9h0M868.2 650.1h0M868.6 635.7h0M864.6 649.6h0M871.3 645.4h0M862.9 648.0h0M863.6 643.0h0M855.5 640.4h0M859.4 634.8h0M857.9 645.0h0M859.7 642.0h0M864.1 647.5h0M855.1 639.6h0M860.7 649.0h0M874.6 640.6h0M878.0 623.9h0M870.5 631.8h0M870.6 636.4h0M873.8 636.2h0M881.3 631.7h0M875.5 639.9h0M871.2 632.4h0M877.8 639.8h0M882.0 635.4h0M874.3 627.1h0M876.7 626.7h0M869.2 626.4h0M868.8 630.1h0M878.1 640.3h0M871.8 625.8h0M876.3 623.6h0M875.1 634.8h0M875.3 640.7h0M874.3 631.9h0M876.5 624.5h0M880.1 637.3h0M878.8 638.1h0M870.7 629.5h0M872.1 628.0h0M879.1 627.8h0M875.0 638.2h0M880.9 624.0h0M884.6 642.3h0M884.9 638.2h0M891.1 642.7h0M887.4 635.3h0M877.7 638.3h0M881.2 635.3h0M885.6 636.4h0M880.9 632.7h0M878.6 643.2h0M883.3 641.3h0M890.4 642.3h0M880.9 643.4h0M889.1 638.9h0M886.0 634.8h0M890.6 641.4h0M883.7 636.6h0M882.4 637.4h0M876.8 643.6h0M887.8 647.6h0M884.4 648.8h0M884.4 638.5h0M879.6 638.0h0M892.9 641.8h0M887.0 647.1h0M888.7 644.7h0M876.3 640.4h0M879.0 638.1h0M890.1 645.6h0M880.5 647.3h0M880.1 639.0h0M889.9 644.7h0M889.3 635.2h0M890.3 640.4h0M891.3 654.8h0M896.8 644.4h0M899.4 648.8h0M896.0 655.6h0M888.7 645.8h0M899.8 651.4h0M897.1 656.1h0M898.3 646.3h0M889.5 644.4h0M888.4 650.6h0M886.1 651.4h0M894.6 655.2h0M890.4 654.6h0M888.8 656.5h0M885.8 654.4h0M900.6 649.5h0M893.2 633.6h0M897.2 638.9h0M900.0 638.5h0M891.9 624.9h0M902.1 626.4h0M897.8 640.7h0M896.2 640.1h0M892.3 630.4h0M890.3 628.0h0M891.6 631.4h0M903.0 631.6h0M895.9 625.8h0M893.2 630.6h0M904.5 629.1h0M900.8 639.8h0M899.6 635.6h0M891.1 630.0h0M894.0 639.4h0M895.0 629.6h0M895.8 630.2h0M895.2 627.3h0M897.1 626.3h0M891.1 636.9h0M901.9 636.5h0M900.9 639.5h0M904.6 628.6h0M889.8 629.0h0M894.5 640.2h0M895.8 631.1h0M896.4 622.4h0M914.5 638.3h0M914.3 635.8h0M915.6 633.7h0M905.1 632.2h0M904.0 635.6h0M908.6 643.6h0M899.0 637.3h0M909.5 645.1h0M904.0 632.7h0M900.9 637.0h0M903.7 632.1h0M905.0 644.1h0M913.8 640.9h0M901.3 641.8h0M903.1 631.9h0M910.1 629.3h0M915.4 631.5h0M907.5 642.5h0M911.4 643.3h0M909.4 640.7h0M910.3 634.5h0M910.9 635.4h0M912.2 636.1h0M911.9 629.6h0M907.2 643.8h0M911.5 641.7h0M908.1 638.4h0M905.2 632.5h0M913.3 630.6h0M907.7 632.8h0M900.1 635.6h0M904.8 626.6h0M916.8 634.5h0M916.1 627.2h0M923.1 633.5h0M919.1 628.6h0M918.0 633.4h0M914.0 635.1h0M924.2 632.4h0M912.2 631.9h0M919.9 624.6h0M918.1 634.1h0M919.7 633.3h0M912.2 633.4h0M919.8 629.0h0M919.3 630.6h0M916.8 635.5h0M913.5 630.3h0M921.6 627.4h0M918.3 630.5h0M924.4 634.4h0M911.0 627.7h0M915.3 623.9h0M933.8 645.9h0M934.5 645.2h0M926.9 641.2h0M931.5 639.7h0M925.7 639.6h0M922.7 638.2h0M919.2 648.2h0M922.1 650.2h0M931.0 639.2h0M931.4 641.9h0M923.7 646.7h0M918.7 639.0h0M928.0 639.8h0M921.1 637.0h0M928.2 645.8h0M926.5 642.4h0M918.5 649.3h0M930.3 643.8h0M920.8 640.2h0M919.5 638.0h0M923.9 650.7h0M932.5 639.1h0M930.0 650.9h0M934.0 645.4h0M929.9 638.8h0M934.5 644.5h0M920.2 644.9h0M921.5 638.9h0M930.9 640.2h0M924.7 646.7h0M919.7 650.1h0M926.3 638.7h0M921.5 649.5h0M929.5 643.1h0M925.2 637.1h0M932.3 650.7h0M918.0 651.9h0M916.3 639.7h0M927.8 633.7h0M921.6 654.8h0M929.0 651.0h0M930.0 653.7h0M928.9 648.5h0M922.1 650.6h0M926.0 657.8h0M930.0 655.1h0M920.3 653.7h0M932.9 653.4h0M932.0 659.2h0M932.2 653.9h0M928.2 652.0h0M926.0 651.2h0M932.9 651.9h0M928.2 661.6h0M925.1 651.8h0M925.3 657.7h0M925.0 649.6h0M927.8 662.6h0M919.0 656.0h0M932.6 650.4h0M936.5 641.9h0M945.4 640.5h0M941.4 646.0h0M942.9 635.4h0M944.8 644.4h0M931.3 633.5h0M942.7 641.9h0M941.5 632.9h0M935.1 638.5h0M939.5 637.6h0M943.9 635.3h0M943.1 638.2h0M939.8 640.6h0M940.9 634.4h0M944.7 642.3h0M931.9 645.7h0M941.2 631.8h0M935.6 641.3h0M934.9 638.5h0M938.1 640.6h0M936.1 643.0h0M937.1 633.7h0M943.0 638.4h0M943.7 640.0h0M939.5 637.3h0M939.4 649.6h0M936.4 649.5h0M932.4 647.0h0M948.7 654.3h0M950.2 650.5h0M953.3 648.1h0M949.5 646.7h0M940.9 643.4h0M948.3 646.2h0M949.6 647.5h0M949.1 650.7h0M955.2 645.9h0M950.7 651.1h0M955.2 650.7h0M949.7 643.2h0M944.1 640.0h0M947.6 651.4h0M956.3 646.2h0M947.6 653.4h0M952.7 644.8h0M946.2 648.9h0M945.7 647.4h0M948.7 641.0h0M946.8 648.4h0M942.5 645.2h0M955.0 646.8h0M945.1 636.6h0M950.9 636.3h0M954.4 655.7h0M962.0 653.5h0M960.4 647.1h0M957.2 642.5h0M954.1 655.7h0M962.6 656.4h0M958.9 653.3h0M960.6 658.4h0M960.6 641.6h0M966.7 648.8h0M959.2 650.0h0M954.7 656.8h0M951.2 647.1h0M953.6 650.0h0M963.3 646.1h0M960.6 653.1h0M962.7 649.1h0M951.9 653.2h0M964.3 647.3h0M961.6 654.7h0M952.9 650.5h0M957.5 652.8h0M961.3 655.5h0M954.3 646.3h0M967.0 648.9h0M957.5 647.5h0M954.0 643.5h0M957.7 643.2h0M956.2 656.0h0M959.8 644.0h0M957.9 653.5h0M958.5 640.4h0M962.2 641.1h0M967.1 644.8h0M958.1 661.0h0M953.0 664.3h0M949.0 666.4h0M952.3 669.4h0M954.2 660.3h0M955.0 657.1h0M948.5 662.9h0M953.1 660.2h0M957.0 670.0h0M961.5 662.1h0M950.0 659.9h0M950.8 660.7h0M950.2 665.3h0M952.2 665.8h0M953.3 664.1h0M954.1 666.0h0M955.2 660.2h0M951.9 655.9h0M949.9 663.9h0M951.9 660.9h0M962.5 664.7h0M954.8 670.5h0M975.0 651.3h0M973.0 650.9h0M966.0 658.0h0M971.4 649.3h0M974.6 651.4h0M976.1 651.3h0M970.2 656.7h0M969.1 649.5h0M972.3 649.1h0M974.7 653.2h0M969.9 649.4h0M975.3 654.4h0M965.5 655.3h0M964.0 651.4h0M969.2 660.3h0M970.1 647.9h0M974.7 648.5h0M970.1 655.4h0M966.4 647.5h0M972.6 648.0h0M968.8 645.8h0M973.4 647.3h0M950.7 664.5h0M954.3 666.9h0M948.2 670.3h0M953.4 669.9h0M950.2 664.5h0M955.5 664.3h0M951.9 669.0h0M955.8 668.1h0M949.5 667.3h0M955.9 670.8h0M946.3 669.3h0M842.2 652.3h0M832.1 654.7h0M829.8 653.3h0M836.5 646.3h0M830.2 655.6h0M833.3 651.6h0M838.0 653.8h0M830.0 653.3h0M835.9 650.6h0M839.0 658.0h0M829.7 653.4h0M840.4 655.3h0M833.6 653.8h0M834.2 658.8h0M834.5 647.4h0M836.8 649.5h0M838.5 645.6h0M832.1 647.2h0M830.0 647.8h0M830.6 658.9h0M828.4 648.3h0M814.0 654.1h0M813.4 651.9h0M818.5 655.7h0M816.3 652.1h0M816.3 658.2h0M815.8 655.9h0M807.5 654.6h0M819.2 656.8h0M819.5 659.9h0M808.6 658.9h0M818.0 652.2h0M808.7 660.9h0M811.5 653.4h0M816.6 663.3h0M815.4 663.0h0M813.2 654.5h0M811.2 658.2h0M814.5 661.4h0M815.4 660.1h0M819.9 654.4h0M811.3 661.1h0M817.7 661.2h0M814.5 651.0h0M814.7 656.6h0M809.6 653.9h0M806.3 657.5h0M808.5 651.4h0M854.3 653.0h0M858.1 653.5h0M863.0 653.8h0M864.8 655.0h0M862.9 650.1h0M857.7 655.3h0M859.3 656.9h0M863.1 648.9h0M859.0 649.8h0M859.1 649.4h0M857.3 645.0h0M855.7 648.2h0M863.2 651.6h0M861.9 645.4h0M858.9 656.2h0M855.6 645.6h0M855.2 654.8h0M863.4 646.3h0M865.2 654.9h0M854.7 655.7h0M822.0 656.9h0M825.6 660.0h0M829.5 658.9h0M826.9 654.7h0M827.0 658.1h0M826.4 655.1h0M822.3 661.9h0M825.5 659.1h0M827.3 658.1h0M824.9 662.0h0M826.7 653.5h0M827.7 660.3h0M822.6 656.4h0M824.9 658.6h0M822.7 654.8h0M825.6 659.4h0M828.9 661.1h0M829.6 655.5h0M914.9 646.7h0M906.8 640.4h0M915.6 645.1h0M910.2 646.0h0M911.8 639.8h0M912.6 638.1h0M918.0 643.5h0M914.4 638.5h0M910.7 639.9h0M913.6 644.4h0M910.4 646.8h0M911.0 649.3h0M911.5 649.3h0M913.4 649.5h0M908.2 650.2h0M909.1 643.9h0M913.0 640.8h0M907.2 639.6h0M906.1 649.8h0M904.3 643.3h0M916.4 639.9h0M879.3 650.0h0M877.1 645.5h0M878.4 644.1h0M883.9 647.6h0M875.2 650.1h0M880.6 649.6h0M874.5 642.8h0M878.4 641.4h0M875.9 644.7h0M883.2 643.1h0M882.1 641.2h0M878.8 641.4h0M876.9 644.2h0M879.7 647.2h0M871.9 643.5h0M879.2 645.3h0M880.3 642.5h0M873.1 648.8h0M874.5 644.9h0M874.8 640.8h0M879.3 651.2h0M873.9 649.8h0M872.0 648.2h0M882.6 651.7h0M871.5 646.6h0M848.7 646.5h0M854.6 652.7h0M849.1 653.9h0M850.3 651.7h0M853.7 652.7h0M851.4 648.1h0M848.6 658.0h0M846.3 651.2h0M844.6 649.3h0M847.3 648.8h0M853.7 652.1h0M851.6 652.7h0M845.1 653.9h0M852.6 653.2h0M845.3 656.7h0M853.3 656.5h0M847.4 658.3h0M945.6 654.0h0M939.3 655.6h0M938.7 656.4h0M940.2 655.5h0M946.4 654.7h0M942.3 654.7h0M947.9 654.1h0M944.9 649.8h0M945.6 654.0h0M946.3 659.0h0M941.6 659.3h0M946.7 651.3h0M945.9 655.9h0M949.1 658.4h0M946.6 661.1h0M937.8 654.2h0M939.4 651.1h0M941.2 649.8h0" stroke="#12982a" stroke-width="2.5" stroke-linecap="round" fill="none"/><path d="M813.0 646.1h0M820.9 655.4h0M813.6 652.5h0M811.5 655.4h0M807.2 648.8h0M818.0 642.2h0M811.8 642.1h0M821.0 645.2h0M822.5 646.5h0M814.0 645.9h0M820.1 640.8h0M821.4 656.9h0M815.9 647.8h0M829.4 634.8h0M830.2 638.5h0M836.2 635.3h0M823.4 643.2h0M833.1 629.9h0M827.6 632.8h0M824.1 641.4h0M823.9 638.6h0M850.8 640.2h0M843.6 647.6h0M840.2 640.5h0M851.2 647.2h0M847.1 645.1h0M845.6 645.0h0M836.6 648.1h0M836.7 648.2h0M848.4 649.9h0M836.2 641.3h0M839.6 650.2h0M844.7 638.1h0M843.1 652.5h0M841.5 633.5h0M838.1 638.8h0M836.4 636.5h0M842.5 637.2h0M838.2 635.8h0M838.6 639.5h0M837.9 637.8h0M844.5 636.0h0M837.0 626.3h0M840.4 624.6h0M848.9 636.4h0M861.5 637.0h0M859.2 639.0h0M856.0 624.1h0M848.6 630.8h0M855.2 639.4h0M847.3 635.8h0M859.7 634.4h0M861.7 635.4h0M852.4 631.6h0M852.4 635.0h0M857.1 626.2h0M857.5 634.5h0M868.8 640.4h0M861.3 643.4h0M855.6 639.2h0M861.9 648.3h0M868.6 642.5h0M859.0 637.5h0M858.5 647.8h0M869.2 644.0h0M856.6 644.5h0M861.2 638.6h0M854.7 641.4h0M865.4 639.2h0M870.5 649.7h0M872.0 631.0h0M875.3 640.4h0M879.2 628.5h0M871.2 634.7h0M878.2 637.8h0M868.1 628.4h0M872.2 626.3h0M874.5 640.0h0M872.8 634.3h0M869.8 628.4h0M874.3 626.8h0M882.9 633.6h0M869.9 625.9h0M872.5 633.9h0M883.2 630.6h0M866.0 629.5h0M867.4 627.8h0M868.2 625.9h0M879.2 643.1h0M883.8 648.6h0M884.5 634.5h0M884.7 644.9h0M889.6 636.3h0M878.5 646.5h0M880.1 641.2h0M892.4 637.6h0M888.7 647.2h0M891.2 637.4h0M877.3 637.7h0M889.2 644.7h0M886.2 648.8h0M888.0 632.1h0M891.9 634.0h0M886.8 634.5h0M885.7 638.7h0M879.8 639.8h0M878.3 634.0h0M896.7 650.7h0M888.0 654.9h0M893.5 656.5h0M887.1 650.7h0M890.0 648.3h0M897.7 649.3h0M895.5 644.7h0M900.6 652.0h0M894.3 629.3h0M897.2 638.7h0M896.7 631.8h0M892.8 631.1h0M900.6 640.9h0M895.8 641.3h0M894.1 641.2h0M890.2 625.3h0M900.8 623.3h0M901.7 625.2h0M904.8 629.3h0M908.2 629.9h0M899.7 632.9h0M912.1 634.8h0M907.5 635.4h0M899.7 633.8h0M912.7 634.4h0M901.9 633.4h0M909.8 642.1h0M915.6 630.4h0M920.6 624.4h0M918.3 638.7h0M921.0 624.3h0M918.9 647.1h0M922.4 645.6h0M922.2 637.0h0M924.5 640.4h0M923.4 637.0h0M920.7 648.8h0M931.8 638.3h0M927.4 644.1h0M931.4 637.0h0M926.8 640.3h0M922.0 647.4h0M919.6 642.0h0M925.7 635.8h0M929.7 642.8h0M927.7 647.2h0M925.3 639.3h0M929.0 653.1h0M922.6 654.1h0M930.1 652.1h0M930.7 649.2h0M922.3 653.2h0M927.9 649.5h0M931.2 644.9h0M943.7 646.5h0M931.5 637.6h0M931.4 636.3h0M945.3 638.6h0M928.8 641.7h0M930.8 640.2h0M935.1 639.7h0M929.3 636.7h0M930.9 638.3h0M930.1 633.7h0M948.3 644.8h0M950.2 644.4h0M944.3 652.3h0M944.5 638.4h0M949.4 644.3h0M945.2 652.5h0M940.0 647.8h0M954.7 651.0h0M948.8 652.5h0M947.6 646.0h0M944.8 646.9h0M952.4 654.8h0M951.2 647.5h0M956.3 652.5h0M952.9 648.2h0M951.9 652.9h0M964.6 643.9h0M959.0 645.8h0M958.3 649.3h0M963.8 648.9h0M962.6 657.9h0M950.4 655.4h0M964.4 643.1h0M958.3 668.4h0M950.8 658.9h0M957.8 663.4h0M952.1 655.8h0M949.1 658.2h0M952.5 668.1h0M949.5 662.4h0M974.4 657.3h0M971.7 655.4h0M964.0 654.0h0M969.4 654.4h0M975.6 652.6h0M966.6 648.5h0M972.3 652.4h0M973.2 652.8h0M976.1 657.3h0M947.3 668.5h0M952.7 667.5h0M951.2 665.7h0M950.4 666.5h0M955.6 667.0h0M950.5 668.9h0M834.6 650.8h0M834.4 649.0h0M836.5 654.7h0M837.4 657.6h0M834.7 654.6h0M841.3 650.6h0M840.5 656.1h0M840.2 653.9h0M841.9 651.6h0M833.9 648.5h0M832.3 657.8h0M819.9 653.1h0M818.6 651.4h0M810.7 652.8h0M816.3 659.1h0M815.8 664.2h0M807.1 654.8h0M865.3 648.6h0M859.3 655.2h0M863.6 655.9h0M862.7 651.1h0M858.3 651.6h0M857.5 654.7h0M853.0 648.1h0M858.9 651.4h0M863.8 653.8h0M860.0 650.2h0M862.2 647.2h0M862.6 651.3h0M852.9 648.5h0M861.8 657.8h0M826.0 661.8h0M823.4 654.2h0M827.3 658.4h0M822.5 660.4h0M819.2 658.8h0M819.5 657.7h0M825.4 658.3h0M822.8 663.4h0M820.1 662.2h0M908.9 640.5h0M915.2 639.7h0M908.7 651.3h0M908.7 647.7h0M911.7 640.6h0M909.0 639.6h0M906.4 643.7h0M916.8 645.3h0M911.4 648.6h0M910.6 649.9h0M910.0 652.0h0M903.3 645.1h0M879.1 653.0h0M874.8 645.2h0M883.7 644.5h0M876.5 652.0h0M882.5 646.2h0M885.1 649.7h0M879.1 653.2h0M848.2 647.9h0M842.7 654.0h0M946.7 655.9h0M946.6 654.4h0" stroke="#d8403a" stroke-width="1.6" stroke-linecap="round" fill="none"/><path d="M820.2 639.7h0M832.9 639.6h0M824.7 646.0h0M831.7 642.5h0M834.4 640.0h0M820.4 641.4h0M829.3 643.8h0M830.3 630.6h0M825.1 646.7h0M825.2 628.1h0M845.5 644.5h0M840.7 633.6h0M848.8 649.1h0M841.8 647.7h0M843.4 641.7h0M834.7 641.1h0M850.8 636.8h0M852.9 639.9h0M842.6 630.5h0M843.1 637.5h0M835.8 624.9h0M846.7 626.2h0M859.5 626.9h0M852.3 625.4h0M860.7 626.9h0M862.8 627.2h0M863.1 630.0h0M855.3 639.9h0M861.1 650.6h0M859.4 640.1h0M862.9 639.2h0M861.5 638.9h0M866.1 641.7h0M854.0 639.8h0M874.4 640.8h0M868.0 630.9h0M869.0 629.0h0M873.1 633.4h0M867.6 636.0h0M878.5 635.7h0M881.0 630.1h0M877.1 625.7h0M871.1 624.5h0M883.2 630.3h0M882.9 647.1h0M877.6 645.8h0M877.9 633.3h0M878.6 641.5h0M886.9 649.8h0M887.2 629.1h0M892.6 644.7h0M891.9 651.2h0M895.1 657.2h0M885.8 651.2h0M897.3 656.4h0M885.2 651.6h0M896.0 625.0h0M890.5 637.9h0M899.6 630.7h0M903.9 627.6h0M887.4 631.4h0M915.9 633.6h0M912.0 641.2h0M909.2 631.1h0M910.2 627.0h0M917.6 632.4h0M923.1 625.9h0M925.0 628.5h0M921.7 641.0h0M923.6 638.6h0M920.9 648.8h0M934.5 649.0h0M921.7 655.6h0M920.1 656.4h0M932.1 657.0h0M922.4 657.8h0M931.9 660.8h0M920.1 658.2h0M933.2 640.9h0M940.6 633.1h0M946.3 637.5h0M936.1 641.3h0M932.6 632.0h0M932.2 636.9h0M937.2 630.3h0M946.1 634.9h0M947.2 637.5h0M953.9 640.2h0M951.2 639.4h0M941.2 641.6h0M942.7 639.0h0M945.6 653.7h0M956.9 645.2h0M955.5 639.6h0M964.1 648.3h0M954.9 648.0h0M958.8 661.5h0M955.7 659.5h0M958.0 667.8h0M959.4 668.9h0M948.6 660.7h0M947.0 664.6h0M947.6 661.7h0M961.9 658.4h0M965.2 658.7h0M967.8 660.6h0M947.6 665.7h0M838.1 655.4h0M834.2 645.0h0M833.9 658.4h0M829.3 650.6h0M842.9 654.5h0M836.9 659.5h0M813.0 651.8h0M808.1 657.2h0M815.7 659.1h0M813.8 663.4h0M861.6 644.7h0M856.7 657.9h0M823.3 656.9h0M825.4 653.2h0M820.5 655.6h0M916.0 650.2h0M911.1 648.8h0M915.3 643.0h0M917.8 646.4h0M878.0 643.4h0M879.2 644.4h0M873.3 640.8h0M848.0 657.4h0M848.8 657.6h0M846.3 653.1h0M938.2 654.6h0" stroke="#2030c8" stroke-width="1.6" stroke-linecap="round" fill="none"/><path d="M822.4 644.6h0M813.1 642.3h0M814.0 657.1h0M807.1 648.9h0M828.5 647.0h0M834.7 643.4h0M833.5 638.7h0M833.2 637.4h0M836.8 635.2h0M841.9 638.6h0M844.5 627.4h0M843.6 628.1h0M849.9 632.3h0M862.7 645.5h0M864.6 644.9h0M863.9 639.5h0M863.0 648.7h0M872.6 632.9h0M875.6 632.0h0M877.3 636.1h0M885.9 651.5h0M890.2 627.1h0M912.5 629.9h0M909.4 632.5h0M913.1 632.8h0M920.8 652.0h0M918.9 639.8h0M921.2 653.5h0M947.6 641.4h0M944.6 641.6h0M954.2 656.0h0M952.1 654.8h0M953.0 660.8h0M956.9 661.3h0M961.8 659.8h0M971.3 647.3h0M951.4 664.3h0M864.4 648.9h0M824.7 657.6h0M846.7 656.4h0" stroke="#f0b0a8" stroke-width="1.6" stroke-linecap="round" fill="none"/><path d="M822.3 639.4h0M836.6 631.1h0M925.6 659.3h0M935.8 635.4h0M951.0 659.5h0M957.7 663.8h0M953.6 664.0h0M947.2 665.0h0M863.2 655.0h0M826.4 654.0h0M854.9 652.1h0M851.5 650.2h0" stroke="#e8d820" stroke-width="1.6" stroke-linecap="round" fill="none"/></g>
<circle cx="823.8" cy="656.8" r="3.2" fill="url(#gP)"/>
<circle cx="833.9" cy="664.9" r="3.2" fill="url(#gP)"/>
<circle cx="830.1" cy="658.5" r="5.8" fill="url(#gW)"/>
<circle cx="843.8" cy="659.6" r="3.2" fill="url(#gP)"/>
<circle cx="853.3" cy="669.1" r="3.2" fill="url(#gP)"/>
<circle cx="850.1" cy="662.7" r="5.8" fill="url(#gW)"/>
<circle cx="881.1" cy="643.8" r="3.2" fill="url(#gP)"/>
<circle cx="876.9" cy="656.4" r="3.2" fill="url(#gP)"/>
<circle cx="876.5" cy="649.0" r="5.8" fill="url(#gW)"/>
<circle cx="906.5" cy="649.0" r="3.2" fill="url(#gP)"/>
<circle cx="910.7" cy="662.3" r="3.2" fill="url(#gP)"/>
<circle cx="910.3" cy="655.4" r="5.8" fill="url(#gW)"/>
<circle cx="935.6" cy="665.3" r="3.2" fill="url(#gP)"/>
<circle cx="934.5" cy="679.2" r="3.2" fill="url(#gP)"/>
<circle cx="936.6" cy="672.2" r="5.8" fill="url(#gW)"/>
<circle cx="969.3" cy="676.5" r="3.2" fill="url(#gP)"/>
<circle cx="966.8" cy="689.7" r="3.2" fill="url(#gP)"/>
<circle cx="971.0" cy="682.8" r="5.8" fill="url(#gW)"/>
<circle cx="871.2" cy="690.2" r="3.2" fill="url(#gP)"/>
<circle cx="883.9" cy="688.5" r="3.2" fill="url(#gP)"/>
<circle cx="877.6" cy="687.0" r="5.8" fill="url(#gW)"/>
<circle cx="829.0" cy="696.1" r="3.2" fill="url(#gP)"/>
<circle cx="841.1" cy="691.2" r="3.2" fill="url(#gP)"/>
<circle cx="835.4" cy="696.1" r="5.8" fill="url(#gW)"/>
<circle cx="921.2" cy="698.6" r="3.2" fill="url(#gP)"/>
<circle cx="933.0" cy="691.9" r="3.2" fill="url(#gP)"/>
<circle cx="928.2" cy="697.6" r="5.8" fill="url(#gW)"/>
<path d="M806.9 693.3C809.7 691.2 817.8 684.4 823.8 680.7C829.7 677.0 835.7 674.0 842.7 671.2C849.8 668.4 858.2 665.6 865.9 663.8C873.7 662.0 882.1 661.0 889.2 660.6C896.2 660.3 901.8 660.8 908.1 661.7C914.5 662.6 921.2 664.1 927.1 665.9C933.1 667.7 938.7 670.0 944.0 672.2C949.3 674.5 954.2 677.0 958.8 679.6C963.3 682.3 967.2 684.9 971.4 688.1C975.7 691.2 982.0 696.8 984.1 698.6" fill="none" stroke="#e8262a" stroke-width="1.3" stroke-dasharray="5.5 3.2"/>
<path d="M811.1 694.0C811.5 693.2 812.7 690.6 813.6 689.1C814.5 687.6 813.3 685.9 816.4 684.9C819.5 683.8 827.4 683.5 832.2 682.8C836.9 682.1 840.3 680.9 844.9 680.7C849.4 680.5 854.7 682.2 859.6 681.7C864.5 681.3 870.5 679.7 874.4 677.9C878.3 676.2 880.6 673.4 882.8 671.2C885.0 668.9 886.3 666.0 887.5 664.4C888.6 662.8 888.6 661.4 889.6 661.7C890.6 661.9 890.3 664.5 893.4 665.9C896.5 667.3 903.6 668.9 908.1 670.1C912.7 671.4 917.5 671.7 920.8 673.3C924.1 674.9 925.7 677.9 928.2 679.6C930.6 681.4 932.6 682.8 935.6 683.8C938.6 684.9 942.6 684.7 946.1 685.9C949.6 687.2 953.5 689.1 956.7 691.2C959.8 693.3 962.1 698.1 965.1 698.6C968.1 699.1 973.0 695.1 974.6 694.4" fill="none" stroke="#1757b4" stroke-width="2.3" stroke-linecap="round" stroke-linejoin="round"/>
<path d="M842.7 677.9C843.4 678.4 845.7 678.6 847.0 680.7C848.2 682.7 849.2 687.5 850.1 690.2C851.0 692.8 850.0 696.0 852.2 696.5C854.5 697.0 859.1 693.5 863.8 693.3C868.6 693.2 876.1 695.4 880.7 695.4C885.3 695.4 888.1 694.5 891.3 693.3C894.4 692.2 895.5 689.2 899.7 688.5C903.9 687.8 911.0 689.8 916.6 689.1C922.2 688.4 929.2 684.6 933.5 684.3C937.7 683.9 939.8 685.8 941.9 687.0C944.0 688.2 945.4 690.5 946.1 691.2" fill="none" stroke="#1757b4" stroke-width="2.3" stroke-linecap="round" stroke-linejoin="round"/>
<path d="M877.6 674.3C878.1 675.0 878.4 678.0 880.7 678.6C883.0 679.2 887.4 678.4 891.3 677.9C895.1 677.5 901.4 676.9 903.9 675.8C906.5 674.7 906.0 672.0 906.5 671.2" fill="none" stroke="#1757b4" stroke-width="2.3" stroke-linecap="round" stroke-linejoin="round"/>
<path d="M807.9 692.7l6 -1.5l0 4l-6 0z" fill="#1757b4"/>
<path d="M841.7 677.5l7 -2l-1 4z" fill="#1757b4"/>
<path d="M876.1 675.0l7 -3l-1 5z" fill="#1757b4"/>
<line x1="812.8" y1="634.9" x2="818.5" y2="643.8" stroke="#1a8ae0" stroke-width="1.1" marker-end="url(#ahb)"/>
<line x1="826.9" y1="663.8" x2="827.3" y2="673.3" stroke="#1a8ae0" stroke-width="1.1" marker-end="url(#ahb)"/>
<line x1="851.6" y1="657.5" x2="852.9" y2="649.0" stroke="#1a8ae0" stroke-width="1.1" marker-end="url(#ahb)"/>
<line x1="876.9" y1="652.2" x2="884.9" y2="659.6" stroke="#1a8ae0" stroke-width="1.1" marker-end="url(#ahb)"/>
<line x1="908.1" y1="664.9" x2="905.0" y2="673.3" stroke="#1a8ae0" stroke-width="1.1" marker-end="url(#ahb)"/>
<line x1="938.7" y1="677.1" x2="943.6" y2="683.8" stroke="#1a8ae0" stroke-width="1.1" marker-end="url(#ahb)"/>
<line x1="966.8" y1="634.9" x2="967.2" y2="643.8" stroke="#1a8ae0" stroke-width="1.1" marker-end="url(#ahb)"/>
<line x1="972.7" y1="675.4" x2="974.0" y2="667.4" stroke="#1a8ae0" stroke-width="1.1" marker-end="url(#ahb)"/>
<line x1="876.9" y1="682.8" x2="876.5" y2="674.3" stroke="#1a8ae0" stroke-width="1.1" marker-end="url(#ahb)"/>
<line x1="835.4" y1="691.2" x2="838.1" y2="683.4" stroke="#1a8ae0" stroke-width="1.1" marker-end="url(#ahb)"/>
<line x1="925.0" y1="692.7" x2="922.9" y2="684.9" stroke="#1a8ae0" stroke-width="1.1" marker-end="url(#ahb)"/>
<text x="806.0" y="682.3" transform="rotate(-27 806.0 682.3)" font-family='"Liberation Serif","Times New Roman",serif' font-weight="bold" font-size="9.2" fill="#e8262a">W/W</text>
</g>
<rect x="803.8" y="620.0" width="179.2" height="83.4" fill="none" stroke="#5f6fa3" stroke-width="1.2"/>
</svg></body></html>
